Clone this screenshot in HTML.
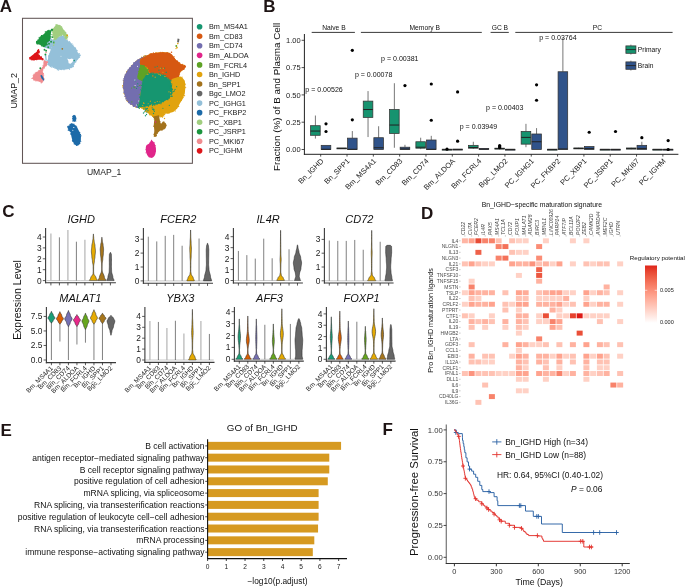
<!DOCTYPE html>
<html><head><meta charset="utf-8"><title>Figure</title>
<style>
html,body{margin:0;padding:0;background:#fff;overflow:hidden;}
svg{display:block;font-family:"Liberation Sans",sans-serif;will-change:transform;}
</style></head><body>
<svg width="685" height="587" viewBox="0 0 685 587">
<rect width="685" height="587" fill="#fff"/>
<text x="-0.2" y="12.3" font-size="17" font-weight="bold" fill="#1e1414">A</text>
<path d="M43.6 40 L47 38.5 L50.5 38 L53.9 40.4 L52.5 46 L50.5 49.5 L47.5 48.6 L44 47.5Z" fill="#94c0d9"/>
<path d="M54.6 38.4 L57.7 36.9 L60.7 36.1 L63.8 36.1 L66.5 40 L69.9 42.3 L73 45.3 L75.3 48.4 L77.6 52.2 L80.3 55.3 L78.4 59.1 L75.3 62.2 L73 66.8 L69.2 69.1 L63.8 69.8 L57.7 69.8 L53.8 67.5 L52.3 66.8 L48.2 65.4 L47.5 60.7 L48.9 55.2 L50.9 49.1 L52.5 44 L53.5 40.5Z" fill="#94c0d9"/>
<circle cx="75.38" cy="61.68" r="0.6" fill="#94c0d9"/>
<circle cx="51.98" cy="67" r="0.6" fill="#94c0d9"/>
<circle cx="73.03" cy="45.07" r="0.6" fill="#94c0d9"/>
<circle cx="62.06" cy="36.15" r="0.6" fill="#94c0d9"/>
<circle cx="76.82" cy="50.45" r="0.6" fill="#94c0d9"/>
<circle cx="48.3" cy="63.17" r="0.6" fill="#94c0d9"/>
<circle cx="67.2" cy="40.36" r="0.6" fill="#94c0d9"/>
<circle cx="79.38" cy="57.11" r="0.6" fill="#94c0d9"/>
<circle cx="47.65" cy="62.44" r="0.6" fill="#94c0d9"/>
<circle cx="62.54" cy="36.1" r="0.6" fill="#94c0d9"/>
<circle cx="50.4" cy="66.27" r="0.6" fill="#94c0d9"/>
<circle cx="61.39" cy="69.54" r="0.6" fill="#94c0d9"/>
<circle cx="75.33" cy="48.71" r="0.6" fill="#94c0d9"/>
<circle cx="75.97" cy="61.75" r="0.6" fill="#94c0d9"/>
<circle cx="64.91" cy="37.97" r="0.6" fill="#94c0d9"/>
<circle cx="56.42" cy="68.49" r="0.6" fill="#94c0d9"/>
<circle cx="50.25" cy="65.85" r="0.6" fill="#94c0d9"/>
<circle cx="52.85" cy="43.01" r="0.6" fill="#94c0d9"/>
<circle cx="63.66" cy="36.08" r="0.6" fill="#94c0d9"/>
<circle cx="51.19" cy="48.62" r="0.6" fill="#94c0d9"/>
<circle cx="47.76" cy="60.56" r="0.6" fill="#94c0d9"/>
<circle cx="69.51" cy="69.19" r="0.6" fill="#94c0d9"/>
<circle cx="74.61" cy="62.62" r="0.6" fill="#94c0d9"/>
<circle cx="79.85" cy="55.7" r="0.6" fill="#94c0d9"/>
<circle cx="57.35" cy="69.65" r="0.6" fill="#94c0d9"/>
<circle cx="69.58" cy="41.71" r="0.6" fill="#94c0d9"/>
<circle cx="64.02" cy="69.69" r="0.6" fill="#94c0d9"/>
<circle cx="75.39" cy="48.76" r="0.6" fill="#94c0d9"/>
<circle cx="75.59" cy="48.19" r="0.6" fill="#94c0d9"/>
<circle cx="80.23" cy="55.21" r="0.6" fill="#94c0d9"/>
<circle cx="47.68" cy="64.19" r="0.6" fill="#94c0d9"/>
<circle cx="48.61" cy="57.06" r="0.6" fill="#94c0d9"/>
<circle cx="52.09" cy="44.95" r="0.6" fill="#94c0d9"/>
<circle cx="65.02" cy="37.73" r="0.6" fill="#94c0d9"/>
<circle cx="73.7" cy="46.75" r="0.6" fill="#94c0d9"/>
<circle cx="63.52" cy="35.78" r="0.6" fill="#94c0d9"/>
<circle cx="73.54" cy="64.79" r="0.6" fill="#94c0d9"/>
<circle cx="72.24" cy="67.02" r="0.6" fill="#94c0d9"/>
<circle cx="73.9" cy="64.37" r="0.6" fill="#94c0d9"/>
<circle cx="60.72" cy="69.52" r="0.6" fill="#94c0d9"/>
<circle cx="53.69" cy="40.04" r="0.6" fill="#94c0d9"/>
<circle cx="71.26" cy="44.21" r="0.6" fill="#94c0d9"/>
<circle cx="75" cy="62.5" r="0.6" fill="#94c0d9"/>
<circle cx="53.47" cy="66.96" r="0.6" fill="#94c0d9"/>
<circle cx="79.33" cy="53.69" r="0.6" fill="#94c0d9"/>
<circle cx="76.75" cy="50.29" r="0.6" fill="#94c0d9"/>
<circle cx="76.94" cy="50.94" r="0.6" fill="#94c0d9"/>
<circle cx="75.11" cy="47.99" r="0.6" fill="#94c0d9"/>
<circle cx="75.75" cy="49.34" r="0.6" fill="#94c0d9"/>
<circle cx="57.03" cy="36.97" r="0.6" fill="#94c0d9"/>
<circle cx="48.8" cy="55.79" r="0.6" fill="#94c0d9"/>
<circle cx="73" cy="66.37" r="0.6" fill="#94c0d9"/>
<circle cx="76.25" cy="50.17" r="0.6" fill="#94c0d9"/>
<circle cx="48.66" cy="56.2" r="0.6" fill="#94c0d9"/>
<circle cx="49.2" cy="55.01" r="0.6" fill="#94c0d9"/>
<circle cx="53.23" cy="41.12" r="0.6" fill="#94c0d9"/>
<circle cx="49.81" cy="53.55" r="0.6" fill="#94c0d9"/>
<circle cx="71.43" cy="67.53" r="0.6" fill="#94c0d9"/>
<circle cx="70.13" cy="42.53" r="0.6" fill="#94c0d9"/>
<circle cx="58.6" cy="70.06" r="0.6" fill="#94c0d9"/>
<circle cx="55.02" cy="68.33" r="0.6" fill="#94c0d9"/>
<circle cx="66.81" cy="40.23" r="0.6" fill="#94c0d9"/>
<circle cx="65.57" cy="38.1" r="0.6" fill="#94c0d9"/>
<circle cx="74.67" cy="47.66" r="0.6" fill="#94c0d9"/>
<circle cx="79.56" cy="57.07" r="0.6" fill="#94c0d9"/>
<circle cx="50.29" cy="66.54" r="0.6" fill="#94c0d9"/>
<circle cx="73.37" cy="66.58" r="0.6" fill="#94c0d9"/>
<circle cx="53.5" cy="67.21" r="0.6" fill="#94c0d9"/>
<circle cx="51.69" cy="66.89" r="0.6" fill="#94c0d9"/>
<circle cx="72.01" cy="43.85" r="0.6" fill="#94c0d9"/>
<path d="M53.9 27.5 L56.6 24.1 L60 25.5 L62.7 28.2 L64.8 31.6 L66.8 34.3 L67.5 37 L66.9 40 L65.3 37.7 L62.3 34.6 L60.5 35.8 L57.7 36.9 L55.9 39.2 L53.9 40.4 L53.2 35 L51.8 30.2Z" fill="#a1ce7f"/>
<circle cx="65.93" cy="32.92" r="0.6" fill="#a1ce7f"/>
<circle cx="58.61" cy="36.54" r="0.6" fill="#a1ce7f"/>
<circle cx="64.2" cy="30.96" r="0.6" fill="#a1ce7f"/>
<circle cx="59.23" cy="25.23" r="0.6" fill="#a1ce7f"/>
<circle cx="61.29" cy="26.7" r="0.6" fill="#a1ce7f"/>
<circle cx="67.05" cy="39.1" r="0.6" fill="#a1ce7f"/>
<circle cx="52.66" cy="28.85" r="0.6" fill="#a1ce7f"/>
<circle cx="62.85" cy="34.6" r="0.6" fill="#a1ce7f"/>
<circle cx="52.71" cy="34.3" r="0.6" fill="#a1ce7f"/>
<circle cx="61.75" cy="27.08" r="0.6" fill="#a1ce7f"/>
<circle cx="61.21" cy="35.26" r="0.6" fill="#a1ce7f"/>
<circle cx="57.75" cy="37.6" r="0.6" fill="#a1ce7f"/>
<circle cx="65.38" cy="38.59" r="0.6" fill="#a1ce7f"/>
<circle cx="67.76" cy="36.7" r="0.6" fill="#a1ce7f"/>
<circle cx="53.13" cy="34.97" r="0.6" fill="#a1ce7f"/>
<circle cx="57.3" cy="37.25" r="0.6" fill="#a1ce7f"/>
<circle cx="52.2" cy="32.75" r="0.6" fill="#a1ce7f"/>
<circle cx="61.03" cy="35.6" r="0.6" fill="#a1ce7f"/>
<circle cx="65.03" cy="37.58" r="0.6" fill="#a1ce7f"/>
<circle cx="59.43" cy="25.57" r="0.6" fill="#a1ce7f"/>
<circle cx="53.45" cy="36.17" r="0.6" fill="#a1ce7f"/>
<circle cx="55.94" cy="39.44" r="0.6" fill="#a1ce7f"/>
<circle cx="59.9" cy="36.05" r="0.6" fill="#a1ce7f"/>
<circle cx="53.09" cy="35.18" r="0.6" fill="#a1ce7f"/>
<circle cx="61.83" cy="27.95" r="0.6" fill="#a1ce7f"/>
<circle cx="60.41" cy="25.82" r="0.6" fill="#a1ce7f"/>
<circle cx="53.07" cy="35.1" r="0.6" fill="#a1ce7f"/>
<circle cx="65.77" cy="37.65" r="0.6" fill="#a1ce7f"/>
<circle cx="66.79" cy="34.69" r="0.6" fill="#a1ce7f"/>
<circle cx="67.33" cy="37.61" r="0.6" fill="#a1ce7f"/>
<circle cx="56.65" cy="38.38" r="0.6" fill="#a1ce7f"/>
<circle cx="55.92" cy="24.76" r="0.6" fill="#a1ce7f"/>
<circle cx="52.27" cy="29.66" r="0.6" fill="#a1ce7f"/>
<circle cx="53.48" cy="37.17" r="0.6" fill="#a1ce7f"/>
<circle cx="61.45" cy="35.3" r="0.6" fill="#a1ce7f"/>
<circle cx="65.49" cy="32.34" r="0.6" fill="#a1ce7f"/>
<circle cx="64.93" cy="31.94" r="0.6" fill="#a1ce7f"/>
<circle cx="53.45" cy="39.79" r="0.6" fill="#a1ce7f"/>
<circle cx="61.38" cy="34.95" r="0.6" fill="#a1ce7f"/>
<circle cx="66.87" cy="34.54" r="0.6" fill="#a1ce7f"/>
<path d="M52.5 28.9 L50.4 30.2 L47 30.9 L43.6 34.3 L40.2 36.4 L36.8 41.8 L36.8 43.9 L41.6 45.2 L43.6 46.6 L46.4 45.2 L47 42.5 L49.8 40.4 L50.4 36.4 L51.1 32.3Z" fill="#1b953e"/>
<circle cx="36.84" cy="43.64" r="0.6" fill="#1b953e"/>
<circle cx="39.21" cy="37.44" r="0.6" fill="#1b953e"/>
<circle cx="48.79" cy="30.29" r="0.6" fill="#1b953e"/>
<circle cx="45.45" cy="45.77" r="0.6" fill="#1b953e"/>
<circle cx="45.27" cy="31.88" r="0.6" fill="#1b953e"/>
<circle cx="37.73" cy="40.17" r="0.6" fill="#1b953e"/>
<circle cx="52.28" cy="29.92" r="0.6" fill="#1b953e"/>
<circle cx="46.49" cy="44.54" r="0.6" fill="#1b953e"/>
<circle cx="46.13" cy="31.58" r="0.6" fill="#1b953e"/>
<circle cx="52.58" cy="29.56" r="0.6" fill="#1b953e"/>
<circle cx="50.23" cy="37.92" r="0.6" fill="#1b953e"/>
<circle cx="51.02" cy="34.58" r="0.6" fill="#1b953e"/>
<circle cx="52.3" cy="30.13" r="0.6" fill="#1b953e"/>
<circle cx="49.85" cy="37.46" r="0.6" fill="#1b953e"/>
<circle cx="47.69" cy="42.01" r="0.6" fill="#1b953e"/>
<circle cx="43.36" cy="46.55" r="0.6" fill="#1b953e"/>
<circle cx="41.54" cy="35.57" r="0.6" fill="#1b953e"/>
<circle cx="50.68" cy="36.34" r="0.6" fill="#1b953e"/>
<circle cx="43.97" cy="46.31" r="0.6" fill="#1b953e"/>
<circle cx="47.31" cy="31" r="0.6" fill="#1b953e"/>
<circle cx="41.47" cy="35.85" r="0.6" fill="#1b953e"/>
<circle cx="37.5" cy="43.83" r="0.6" fill="#1b953e"/>
<circle cx="51.32" cy="29.36" r="0.6" fill="#1b953e"/>
<circle cx="45.99" cy="32.18" r="0.6" fill="#1b953e"/>
<circle cx="46.35" cy="43.32" r="0.6" fill="#1b953e"/>
<circle cx="36.57" cy="41.43" r="0.6" fill="#1b953e"/>
<circle cx="42.19" cy="45.58" r="0.6" fill="#1b953e"/>
<circle cx="43.53" cy="46.31" r="0.6" fill="#1b953e"/>
<circle cx="37.22" cy="41.3" r="0.6" fill="#1b953e"/>
<circle cx="41.76" cy="45.7" r="0.6" fill="#1b953e"/>
<circle cx="39.22" cy="38.83" r="0.6" fill="#1b953e"/>
<circle cx="48.14" cy="30.63" r="0.6" fill="#1b953e"/>
<circle cx="37.06" cy="42.09" r="0.6" fill="#1b953e"/>
<circle cx="47.79" cy="31.01" r="0.6" fill="#1b953e"/>
<circle cx="42.12" cy="46.11" r="0.6" fill="#1b953e"/>
<circle cx="48.1" cy="41.27" r="0.6" fill="#1b953e"/>
<circle cx="36.5" cy="42.45" r="0.6" fill="#1b953e"/>
<circle cx="37.07" cy="43.07" r="0.6" fill="#1b953e"/>
<circle cx="41.5" cy="35.63" r="0.6" fill="#1b953e"/>
<circle cx="36.71" cy="42.23" r="0.6" fill="#1b953e"/>
<circle cx="49.12" cy="30.27" r="0.6" fill="#1b953e"/>
<circle cx="51.55" cy="29.39" r="0.6" fill="#1b953e"/>
<circle cx="49.42" cy="40.35" r="0.6" fill="#1b953e"/>
<circle cx="44.7" cy="46.39" r="0.6" fill="#1b953e"/>
<circle cx="41.29" cy="45.15" r="0.6" fill="#1b953e"/>
<path d="M38.6 49.1 L40 51.8 L37.9 54.5 L40.7 56.6 L43.1 58.6 L42.7 59.7 L38.6 59.7 L33.2 60.3 L29.8 59.3 L29.4 57.6 L33.2 54.5 L36.6 51.8Z" fill="#dd1519"/>
<circle cx="29.71" cy="58.1" r="0.55" fill="#dd1519"/>
<circle cx="37.49" cy="50.47" r="0.55" fill="#dd1519"/>
<circle cx="43.15" cy="59.16" r="0.55" fill="#dd1519"/>
<circle cx="39.13" cy="55.37" r="0.55" fill="#dd1519"/>
<circle cx="38.17" cy="49.75" r="0.55" fill="#dd1519"/>
<circle cx="41.46" cy="57.14" r="0.55" fill="#dd1519"/>
<circle cx="39.45" cy="55.85" r="0.55" fill="#dd1519"/>
<circle cx="31.3" cy="59.65" r="0.55" fill="#dd1519"/>
<circle cx="31.78" cy="59.72" r="0.55" fill="#dd1519"/>
<circle cx="38.61" cy="55.06" r="0.55" fill="#dd1519"/>
<circle cx="42.6" cy="59.2" r="0.55" fill="#dd1519"/>
<circle cx="36.68" cy="59.76" r="0.55" fill="#dd1519"/>
<circle cx="42.7" cy="58.84" r="0.55" fill="#dd1519"/>
<circle cx="42.19" cy="59.78" r="0.55" fill="#dd1519"/>
<circle cx="41.16" cy="56.72" r="0.55" fill="#dd1519"/>
<circle cx="34.99" cy="53.51" r="0.55" fill="#dd1519"/>
<circle cx="38.73" cy="49.6" r="0.55" fill="#dd1519"/>
<circle cx="29.9" cy="59.08" r="0.55" fill="#dd1519"/>
<circle cx="29.74" cy="57.69" r="0.55" fill="#dd1519"/>
<circle cx="39.32" cy="52.69" r="0.55" fill="#dd1519"/>
<circle cx="38.16" cy="54.43" r="0.55" fill="#dd1519"/>
<circle cx="33.08" cy="59.92" r="0.55" fill="#dd1519"/>
<circle cx="38.8" cy="55.08" r="0.55" fill="#dd1519"/>
<circle cx="42.79" cy="59.68" r="0.55" fill="#dd1519"/>
<circle cx="34.59" cy="59.86" r="0.55" fill="#dd1519"/>
<path d="M44.1 60 L47.8 61.7 L46.8 64.8 L45.4 66.8 L43.4 68.9 L42.7 70.9 L43.4 73.6 L44.1 78.4 L43.4 81.1 L41.4 82.5 L38.6 81.1 L34.5 80.4 L32.2 78.4 L33.2 75.7 L35.9 72.3 L38.6 70.9 L41.4 68.2 L43.4 65.4 L43.4 62Z" fill="#f08c90"/>
<circle cx="43.1" cy="65.41" r="0.55" fill="#f08c90"/>
<circle cx="44.02" cy="59.99" r="0.55" fill="#f08c90"/>
<circle cx="36.19" cy="80.63" r="0.55" fill="#f08c90"/>
<circle cx="43.43" cy="79.82" r="0.55" fill="#f08c90"/>
<circle cx="41.06" cy="82.65" r="0.55" fill="#f08c90"/>
<circle cx="33.26" cy="75.38" r="0.55" fill="#f08c90"/>
<circle cx="33.7" cy="79.85" r="0.55" fill="#f08c90"/>
<circle cx="34.12" cy="74.17" r="0.55" fill="#f08c90"/>
<circle cx="39.33" cy="81.29" r="0.55" fill="#f08c90"/>
<circle cx="43.81" cy="74.93" r="0.55" fill="#f08c90"/>
<circle cx="44.15" cy="78.88" r="0.55" fill="#f08c90"/>
<circle cx="40.55" cy="69.24" r="0.55" fill="#f08c90"/>
<circle cx="46.64" cy="64.58" r="0.55" fill="#f08c90"/>
<circle cx="43.47" cy="73.66" r="0.55" fill="#f08c90"/>
<circle cx="47.59" cy="62.4" r="0.55" fill="#f08c90"/>
<circle cx="35.89" cy="80.85" r="0.55" fill="#f08c90"/>
<circle cx="37.91" cy="80.98" r="0.55" fill="#f08c90"/>
<circle cx="36.08" cy="72.18" r="0.55" fill="#f08c90"/>
<circle cx="32.2" cy="78.2" r="0.55" fill="#f08c90"/>
<circle cx="46.32" cy="65.63" r="0.55" fill="#f08c90"/>
<circle cx="44.43" cy="67.91" r="0.55" fill="#f08c90"/>
<circle cx="39.06" cy="81.08" r="0.55" fill="#f08c90"/>
<circle cx="39.17" cy="70.34" r="0.55" fill="#f08c90"/>
<circle cx="37.34" cy="80.56" r="0.55" fill="#f08c90"/>
<circle cx="33.94" cy="74.8" r="0.55" fill="#f08c90"/>
<circle cx="31.97" cy="78.56" r="0.55" fill="#f08c90"/>
<circle cx="42.75" cy="81.44" r="0.55" fill="#f08c90"/>
<circle cx="34.15" cy="79.93" r="0.55" fill="#f08c90"/>
<circle cx="42.02" cy="82.4" r="0.55" fill="#f08c90"/>
<circle cx="41.54" cy="82.74" r="0.55" fill="#f08c90"/>
<circle cx="46.61" cy="64.83" r="0.55" fill="#f08c90"/>
<circle cx="38.41" cy="70.82" r="0.55" fill="#f08c90"/>
<circle cx="35.18" cy="72.93" r="0.55" fill="#f08c90"/>
<circle cx="47.21" cy="61.56" r="0.55" fill="#f08c90"/>
<circle cx="42.87" cy="70.01" r="0.55" fill="#f08c90"/>
<path d="M44.8 55.2 L46.2 54.8 L46.9 60.5 L45.6 61Z" fill="#94c0d9"/>
<circle cx="51.1" cy="41.8" r="0.95" fill="#1b953e"/>
<circle cx="52.3" cy="37.1" r="0.95" fill="#1b953e"/>
<circle cx="46.1" cy="50.8" r="0.95" fill="#1b953e"/>
<circle cx="45.4" cy="54.5" r="0.95" fill="#1b953e"/>
<circle cx="40.3" cy="68.2" r="0.95" fill="#1b953e"/>
<circle cx="46.9" cy="44.5" r="0.95" fill="#1b953e"/>
<circle cx="48.2" cy="47.3" r="0.95" fill="#1b953e"/>
<circle cx="44.5" cy="49.8" r="0.95" fill="#1b953e"/>
<circle cx="49" cy="43.8" r="0.95" fill="#1b953e"/>
<circle cx="53.8" cy="42.5" r="0.95" fill="#1b953e"/>
<circle cx="46.1" cy="52.5" r="0.8" fill="#f08c90"/>
<circle cx="53.6" cy="45.2" r="0.8" fill="#a1ce7f"/>
<circle cx="54.2" cy="43" r="0.8" fill="#a1ce7f"/>
<path d="M67.2 58.4 L69.5 59.2 L72 58.6 L73.6 59.8 L72.5 62 L70.6 63.7 L68.6 63.2 L68.3 60.8Z" fill="#fff"/>
<circle cx="74.2" cy="60.6" r="0.8" fill="#169670"/>
<circle cx="61" cy="56.3" r="0.45" fill="#fff"/>
<circle cx="62.3" cy="48.8" r="0.85" fill="#a3721c"/>
<circle cx="67.2" cy="35.4" r="0.9" fill="#e1a30e"/>
<path d="M40.3 75.6 L41.8 75 L43.2 77.5 L44.4 80 L43.6 80.8 L41.6 78.6Z" fill="#1c6aa8"/>
<path d="M72.5 116.5 L74 114.7 L75.8 115.8 L76.1 118.5 L75.5 121.5 L72.8 121.5 L72.4 119Z" fill="#1c6aa8"/>
<circle cx="76.09" cy="117.92" r="0.5" fill="#1c6aa8"/>
<circle cx="75.5" cy="120.5" r="0.5" fill="#1c6aa8"/>
<circle cx="73.25" cy="115.43" r="0.5" fill="#1c6aa8"/>
<circle cx="75.86" cy="121.01" r="0.5" fill="#1c6aa8"/>
<circle cx="72.77" cy="116.42" r="0.5" fill="#1c6aa8"/>
<circle cx="75.78" cy="119" r="0.5" fill="#1c6aa8"/>
<circle cx="72.73" cy="121.08" r="0.5" fill="#1c6aa8"/>
<circle cx="72.62" cy="118.57" r="0.5" fill="#1c6aa8"/>
<circle cx="74.63" cy="121.36" r="0.5" fill="#1c6aa8"/>
<circle cx="75.8" cy="119.03" r="0.5" fill="#1c6aa8"/>
<path d="M70.5 124.5 L72.5 123.6 L74.5 124.5 L77 127 L79.5 132 L81 136 L80.8 141 L79.5 144.5 L77 145.8 L74.5 144.5 L72.5 141 L71.5 137 L70.5 132 L68.3 130 L67.8 127Z" fill="#1c6aa8"/>
<circle cx="70.06" cy="124.47" r="0.6" fill="#1c6aa8"/>
<circle cx="80.99" cy="135.81" r="0.6" fill="#1c6aa8"/>
<circle cx="70.26" cy="131.52" r="0.6" fill="#1c6aa8"/>
<circle cx="71.64" cy="124.28" r="0.6" fill="#1c6aa8"/>
<circle cx="69.04" cy="125.91" r="0.6" fill="#1c6aa8"/>
<circle cx="71.16" cy="124.38" r="0.6" fill="#1c6aa8"/>
<circle cx="68.01" cy="126.62" r="0.6" fill="#1c6aa8"/>
<circle cx="74.15" cy="143.86" r="0.6" fill="#1c6aa8"/>
<circle cx="73.9" cy="124.08" r="0.6" fill="#1c6aa8"/>
<circle cx="71.02" cy="123.99" r="0.6" fill="#1c6aa8"/>
<circle cx="79.7" cy="132.4" r="0.6" fill="#1c6aa8"/>
<circle cx="68.19" cy="130.07" r="0.6" fill="#1c6aa8"/>
<circle cx="75.8" cy="125.77" r="0.6" fill="#1c6aa8"/>
<circle cx="77.87" cy="144.97" r="0.6" fill="#1c6aa8"/>
<circle cx="79.73" cy="143.34" r="0.6" fill="#1c6aa8"/>
<circle cx="72.45" cy="140.29" r="0.6" fill="#1c6aa8"/>
<circle cx="80.45" cy="134.4" r="0.6" fill="#1c6aa8"/>
<circle cx="70.85" cy="134.12" r="0.6" fill="#1c6aa8"/>
<circle cx="68.1" cy="127.79" r="0.6" fill="#1c6aa8"/>
<circle cx="79.68" cy="143.25" r="0.6" fill="#1c6aa8"/>
<circle cx="67.99" cy="126.36" r="0.6" fill="#1c6aa8"/>
<circle cx="72.71" cy="141.21" r="0.6" fill="#1c6aa8"/>
<circle cx="70.39" cy="124.64" r="0.6" fill="#1c6aa8"/>
<circle cx="80.76" cy="141.23" r="0.6" fill="#1c6aa8"/>
<circle cx="76.48" cy="145.37" r="0.6" fill="#1c6aa8"/>
<circle cx="76.58" cy="126.81" r="0.6" fill="#1c6aa8"/>
<circle cx="68.94" cy="130.3" r="0.6" fill="#1c6aa8"/>
<circle cx="68.11" cy="127.16" r="0.6" fill="#1c6aa8"/>
<circle cx="71.8" cy="123.7" r="0.6" fill="#1c6aa8"/>
<circle cx="71.07" cy="133.69" r="0.6" fill="#1c6aa8"/>
<circle cx="73.8" cy="127.5" r="0.6" fill="#fff"/>
<circle cx="72.8" cy="130.2" r="0.5" fill="#fff"/>
<path d="M150 54.1 L155.5 52.8 L163.6 52.2 L169.1 52.8 L172.5 55.5 L175.2 58.9 L177.9 62.3 L182 64.4 L185.1 66.1 L184.8 68.4 L182 69.8 L180 72.5 L178.6 76.6 L182 77.3 L184.8 80.7 L185.4 86.8 L184.8 93.6 L182.7 99.1 L180 103.2 L177.3 108.6 L173.2 112 L167.7 113.4 L162.9 114.1 L158.2 114.8 L152.7 115.4 L148.6 112 L144.5 110 L141.8 108.3 L137.7 107.3 L133.6 106.2 L129.5 103.2 L126.1 99.1 L124.1 93.6 L123.1 86.8 L123.1 83.4 L124.1 77.3 L126.8 71.2 L130.9 66.4 L135.7 60.9 L141.8 57.2 L147.3 55.5Z" fill="#e1a30e"/>
<circle cx="185.28" cy="84.21" r="0.6" fill="#e1a30e"/>
<circle cx="128.62" cy="102.36" r="0.6" fill="#e1a30e"/>
<circle cx="122.97" cy="85.95" r="0.6" fill="#e1a30e"/>
<circle cx="178.8" cy="76.86" r="0.6" fill="#e1a30e"/>
<circle cx="167.12" cy="52.5" r="0.6" fill="#e1a30e"/>
<circle cx="131.46" cy="104.38" r="0.6" fill="#e1a30e"/>
<circle cx="143.44" cy="109.38" r="0.6" fill="#e1a30e"/>
<circle cx="155.69" cy="114.64" r="0.6" fill="#e1a30e"/>
<circle cx="147.19" cy="55.48" r="0.6" fill="#e1a30e"/>
<circle cx="146.05" cy="55.59" r="0.6" fill="#e1a30e"/>
<circle cx="127.75" cy="101.43" r="0.6" fill="#e1a30e"/>
<circle cx="157.64" cy="114.86" r="0.6" fill="#e1a30e"/>
<circle cx="163.49" cy="52.6" r="0.6" fill="#e1a30e"/>
<circle cx="168.93" cy="112.69" r="0.6" fill="#e1a30e"/>
<circle cx="123.34" cy="87.77" r="0.6" fill="#e1a30e"/>
<circle cx="162.89" cy="52.49" r="0.6" fill="#e1a30e"/>
<circle cx="183.03" cy="64.72" r="0.6" fill="#e1a30e"/>
<circle cx="180.83" cy="71.4" r="0.6" fill="#e1a30e"/>
<circle cx="159.81" cy="114.37" r="0.6" fill="#e1a30e"/>
<circle cx="143.6" cy="56.41" r="0.6" fill="#e1a30e"/>
<circle cx="123.12" cy="87.13" r="0.6" fill="#e1a30e"/>
<circle cx="144.42" cy="55.92" r="0.6" fill="#e1a30e"/>
<circle cx="179.56" cy="73.95" r="0.6" fill="#e1a30e"/>
<circle cx="167.98" cy="113.51" r="0.6" fill="#e1a30e"/>
<circle cx="183.98" cy="66.03" r="0.6" fill="#e1a30e"/>
<circle cx="135.5" cy="107.03" r="0.6" fill="#e1a30e"/>
<circle cx="178.97" cy="63.15" r="0.6" fill="#e1a30e"/>
<circle cx="157.19" cy="115.03" r="0.6" fill="#e1a30e"/>
<circle cx="156" cy="114.76" r="0.6" fill="#e1a30e"/>
<circle cx="145.48" cy="56.22" r="0.6" fill="#e1a30e"/>
<circle cx="184.57" cy="95.64" r="0.6" fill="#e1a30e"/>
<circle cx="169.39" cy="112.78" r="0.6" fill="#e1a30e"/>
<circle cx="178.28" cy="106.54" r="0.6" fill="#e1a30e"/>
<circle cx="169.3" cy="53.29" r="0.6" fill="#e1a30e"/>
<circle cx="156" cy="52.59" r="0.6" fill="#e1a30e"/>
<circle cx="122.85" cy="85.66" r="0.6" fill="#e1a30e"/>
<circle cx="131.42" cy="65.96" r="0.6" fill="#e1a30e"/>
<circle cx="182.12" cy="69.93" r="0.6" fill="#e1a30e"/>
<circle cx="183.14" cy="68.71" r="0.6" fill="#e1a30e"/>
<circle cx="181.4" cy="100.31" r="0.6" fill="#e1a30e"/>
<circle cx="126.6" cy="71.93" r="0.6" fill="#e1a30e"/>
<circle cx="141.63" cy="57.21" r="0.6" fill="#e1a30e"/>
<circle cx="150.27" cy="53.96" r="0.6" fill="#e1a30e"/>
<circle cx="185.68" cy="87.53" r="0.6" fill="#e1a30e"/>
<circle cx="145.23" cy="55.94" r="0.6" fill="#e1a30e"/>
<circle cx="180.49" cy="77.1" r="0.6" fill="#e1a30e"/>
<circle cx="142.01" cy="108.45" r="0.6" fill="#e1a30e"/>
<circle cx="175.18" cy="110.93" r="0.6" fill="#e1a30e"/>
<circle cx="126.62" cy="100.58" r="0.6" fill="#e1a30e"/>
<circle cx="133.41" cy="105.67" r="0.6" fill="#e1a30e"/>
<circle cx="179.1" cy="62.51" r="0.6" fill="#e1a30e"/>
<circle cx="183.09" cy="97.56" r="0.6" fill="#e1a30e"/>
<circle cx="139.36" cy="108.04" r="0.6" fill="#e1a30e"/>
<circle cx="178.69" cy="106.41" r="0.6" fill="#e1a30e"/>
<circle cx="123.87" cy="93.26" r="0.6" fill="#e1a30e"/>
<circle cx="182.03" cy="77.11" r="0.6" fill="#e1a30e"/>
<circle cx="151.12" cy="114.65" r="0.6" fill="#e1a30e"/>
<circle cx="150.22" cy="54.52" r="0.6" fill="#e1a30e"/>
<circle cx="123.88" cy="80.71" r="0.6" fill="#e1a30e"/>
<circle cx="159.24" cy="52.6" r="0.6" fill="#e1a30e"/>
<path d="M147.3 55.5 L141.8 57.2 L135.7 60.9 L130.9 66.4 L126.8 71.2 L124.1 77.3 L123.1 83.4 L123.1 86.8 L124.1 93.6 L126.1 99.1 L129.5 103.2 L133.6 106.2 L137.7 107.3 L139.8 100.4 L140.4 93.6 L141.8 86.8 L142.5 80 L142.5 77.3 L140.4 65.7 L139.8 62.3 L140.4 58.9 L146.6 55.8Z" fill="#736eaf"/>
<circle cx="124.58" cy="76.08" r="0.6" fill="#736eaf"/>
<circle cx="128.91" cy="102.46" r="0.6" fill="#736eaf"/>
<circle cx="137.74" cy="59.88" r="0.6" fill="#736eaf"/>
<circle cx="133.35" cy="106.39" r="0.6" fill="#736eaf"/>
<circle cx="129.33" cy="102.97" r="0.6" fill="#736eaf"/>
<circle cx="128.45" cy="102.59" r="0.6" fill="#736eaf"/>
<circle cx="125.54" cy="98.8" r="0.6" fill="#736eaf"/>
<circle cx="137.16" cy="107" r="0.6" fill="#736eaf"/>
<circle cx="141.95" cy="57.65" r="0.6" fill="#736eaf"/>
<circle cx="144.05" cy="74.56" r="0.6" fill="#736eaf"/>
<circle cx="125.22" cy="74.34" r="0.6" fill="#736eaf"/>
<circle cx="130.2" cy="103.75" r="0.6" fill="#736eaf"/>
<circle cx="145.71" cy="55.74" r="0.6" fill="#736eaf"/>
<circle cx="141.09" cy="88.61" r="0.6" fill="#736eaf"/>
<circle cx="124.88" cy="96.41" r="0.6" fill="#736eaf"/>
<circle cx="141.61" cy="86.13" r="0.6" fill="#736eaf"/>
<circle cx="123.27" cy="80.21" r="0.6" fill="#736eaf"/>
<circle cx="136.81" cy="107.4" r="0.6" fill="#736eaf"/>
<circle cx="133.63" cy="63.13" r="0.6" fill="#736eaf"/>
<circle cx="146.69" cy="56.64" r="0.6" fill="#736eaf"/>
<circle cx="124.06" cy="91.9" r="0.6" fill="#736eaf"/>
<circle cx="127.55" cy="100.33" r="0.6" fill="#736eaf"/>
<circle cx="134.11" cy="62.62" r="0.6" fill="#736eaf"/>
<circle cx="123.62" cy="88.14" r="0.6" fill="#736eaf"/>
<circle cx="124.05" cy="92.39" r="0.6" fill="#736eaf"/>
<circle cx="130.52" cy="104.52" r="0.6" fill="#736eaf"/>
<circle cx="134.26" cy="105.91" r="0.6" fill="#736eaf"/>
<circle cx="129.6" cy="67.89" r="0.6" fill="#736eaf"/>
<circle cx="134.19" cy="62.77" r="0.6" fill="#736eaf"/>
<circle cx="123.3" cy="87.81" r="0.6" fill="#736eaf"/>
<circle cx="128.18" cy="101.61" r="0.6" fill="#736eaf"/>
<circle cx="131.49" cy="65.72" r="0.6" fill="#736eaf"/>
<circle cx="123.88" cy="78.55" r="0.6" fill="#736eaf"/>
<circle cx="126.75" cy="100.16" r="0.6" fill="#736eaf"/>
<circle cx="134.33" cy="106.3" r="0.6" fill="#736eaf"/>
<circle cx="137.08" cy="107.29" r="0.6" fill="#736eaf"/>
<circle cx="128.02" cy="69.75" r="0.6" fill="#736eaf"/>
<circle cx="129.31" cy="68.35" r="0.6" fill="#736eaf"/>
<circle cx="137.41" cy="107.42" r="0.6" fill="#736eaf"/>
<circle cx="129.71" cy="68.48" r="0.6" fill="#736eaf"/>
<path d="M146.6 55.8 L150 54.1 L155.5 52.8 L163.6 52.2 L169.1 52.8 L172.5 55.5 L175.2 58.9 L177.9 62.3 L182 64.4 L185.1 66.1 L184.8 68.4 L182 69.8 L180 72.5 L178.6 76.6 L177.3 77.3 L172.5 78.7 L170.4 80.7 L167 78 L163.6 75.3 L156.8 73.2 L150 73.9 L148.6 70.5 L147.3 67 L140.4 65.7 L139.8 62.3 L140.4 58.9Z" fill="#d65812"/>
<circle cx="181.22" cy="70.29" r="0.6" fill="#d65812"/>
<circle cx="151.85" cy="53.71" r="0.6" fill="#d65812"/>
<circle cx="148.19" cy="55.28" r="0.6" fill="#d65812"/>
<circle cx="184.88" cy="65.69" r="0.6" fill="#d65812"/>
<circle cx="171.08" cy="54.62" r="0.6" fill="#d65812"/>
<circle cx="164.9" cy="67.85" r="0.6" fill="#d65812"/>
<circle cx="177.62" cy="61.9" r="0.6" fill="#d65812"/>
<circle cx="179.17" cy="74.91" r="0.6" fill="#d65812"/>
<circle cx="160.66" cy="52.27" r="0.6" fill="#d65812"/>
<circle cx="183.15" cy="69.17" r="0.6" fill="#d65812"/>
<circle cx="177.23" cy="61.12" r="0.6" fill="#d65812"/>
<circle cx="176.12" cy="60.83" r="0.6" fill="#d65812"/>
<circle cx="184.44" cy="65.29" r="0.6" fill="#d65812"/>
<circle cx="183.49" cy="69.12" r="0.6" fill="#d65812"/>
<circle cx="150.24" cy="53.78" r="0.6" fill="#d65812"/>
<circle cx="178.43" cy="76.28" r="0.6" fill="#d65812"/>
<circle cx="160.25" cy="64.82" r="0.6" fill="#d65812"/>
<circle cx="182.28" cy="64.32" r="0.6" fill="#d65812"/>
<circle cx="173.97" cy="56.66" r="0.6" fill="#d65812"/>
<circle cx="184.3" cy="69" r="0.6" fill="#d65812"/>
<circle cx="179.92" cy="72.1" r="0.6" fill="#d65812"/>
<circle cx="170.05" cy="53.49" r="0.6" fill="#d65812"/>
<circle cx="177.04" cy="61.1" r="0.6" fill="#d65812"/>
<circle cx="151.43" cy="54.16" r="0.6" fill="#d65812"/>
<circle cx="185.41" cy="66.42" r="0.6" fill="#d65812"/>
<circle cx="178.47" cy="62.97" r="0.6" fill="#d65812"/>
<circle cx="178.64" cy="75.89" r="0.6" fill="#d65812"/>
<circle cx="181.92" cy="70.29" r="0.6" fill="#d65812"/>
<circle cx="182.71" cy="69.49" r="0.6" fill="#d65812"/>
<circle cx="171.8" cy="55.08" r="0.6" fill="#d65812"/>
<circle cx="179.63" cy="62.86" r="0.6" fill="#d65812"/>
<circle cx="177.44" cy="61.38" r="0.6" fill="#d65812"/>
<circle cx="178.09" cy="62.13" r="0.6" fill="#d65812"/>
<circle cx="167.06" cy="52.58" r="0.6" fill="#d65812"/>
<circle cx="185.04" cy="67.46" r="0.6" fill="#d65812"/>
<circle cx="171.65" cy="55.37" r="0.6" fill="#d65812"/>
<circle cx="174.33" cy="58.43" r="0.6" fill="#d65812"/>
<circle cx="183.29" cy="68.98" r="0.6" fill="#d65812"/>
<circle cx="153.41" cy="52.93" r="0.6" fill="#d65812"/>
<circle cx="162.17" cy="52.25" r="0.6" fill="#d65812"/>
<path d="M142.5 77.3 L147.3 74 L150 73.9 L156.8 73.2 L163.6 75.3 L167 78 L170.4 80.7 L171.8 86.8 L172.5 93.6 L169.1 98.4 L163.6 101.8 L156.8 104.5 L150 105.2 L148.6 105.9 L140.4 107.3 L137.7 107.3 L139.8 100.4 L140.4 93.6 L141.8 86.8 L142.5 80Z" fill="#169670"/>
<circle cx="164.09" cy="75.94" r="0.65" fill="#169670"/>
<circle cx="142.74" cy="78.21" r="0.65" fill="#169670"/>
<circle cx="142.25" cy="87.58" r="0.65" fill="#169670"/>
<circle cx="171.68" cy="83.8" r="0.65" fill="#169670"/>
<circle cx="160.06" cy="73.78" r="0.65" fill="#169670"/>
<circle cx="165.33" cy="76.54" r="0.65" fill="#169670"/>
<circle cx="165.42" cy="76.45" r="0.65" fill="#169670"/>
<circle cx="141.41" cy="78.42" r="0.65" fill="#169670"/>
<circle cx="138.52" cy="106.85" r="0.65" fill="#169670"/>
<circle cx="139.21" cy="108.31" r="0.65" fill="#169670"/>
<circle cx="150.92" cy="74.1" r="0.65" fill="#169670"/>
<circle cx="145.83" cy="76.24" r="0.65" fill="#169670"/>
<circle cx="157.21" cy="103.95" r="0.65" fill="#169670"/>
<circle cx="164.2" cy="75.67" r="0.65" fill="#169670"/>
<circle cx="163.31" cy="101.71" r="0.65" fill="#169670"/>
<circle cx="141.04" cy="96.16" r="0.65" fill="#169670"/>
<circle cx="160.85" cy="103.66" r="0.65" fill="#169670"/>
<circle cx="167.13" cy="99.24" r="0.65" fill="#169670"/>
<circle cx="169.19" cy="97.14" r="0.65" fill="#169670"/>
<circle cx="138.99" cy="101.43" r="0.65" fill="#169670"/>
<circle cx="169.44" cy="97.93" r="0.65" fill="#169670"/>
<circle cx="148.5" cy="73.75" r="0.65" fill="#169670"/>
<circle cx="141.4" cy="85.38" r="0.65" fill="#169670"/>
<circle cx="171.5" cy="86.3" r="0.65" fill="#169670"/>
<circle cx="150.33" cy="74.17" r="0.65" fill="#169670"/>
<circle cx="142.88" cy="80.02" r="0.65" fill="#169670"/>
<circle cx="151.81" cy="73.66" r="0.65" fill="#169670"/>
<circle cx="166.64" cy="77.26" r="0.65" fill="#169670"/>
<circle cx="163.36" cy="74.83" r="0.65" fill="#169670"/>
<circle cx="166.41" cy="76.89" r="0.65" fill="#169670"/>
<circle cx="167.06" cy="97.97" r="0.65" fill="#169670"/>
<circle cx="143.2" cy="81.46" r="0.65" fill="#169670"/>
<circle cx="142.88" cy="83.85" r="0.65" fill="#169670"/>
<circle cx="144.8" cy="106.59" r="0.65" fill="#169670"/>
<circle cx="145.97" cy="76.14" r="0.65" fill="#169670"/>
<circle cx="165.02" cy="75.71" r="0.65" fill="#169670"/>
<circle cx="137.38" cy="104.77" r="0.65" fill="#169670"/>
<circle cx="142.92" cy="78.34" r="0.65" fill="#169670"/>
<circle cx="150.65" cy="73.69" r="0.65" fill="#169670"/>
<circle cx="169.49" cy="97.57" r="0.65" fill="#169670"/>
<circle cx="169.84" cy="81.04" r="0.65" fill="#169670"/>
<circle cx="165.17" cy="77.55" r="0.65" fill="#169670"/>
<circle cx="139.62" cy="103.58" r="0.65" fill="#169670"/>
<circle cx="148.16" cy="72.86" r="0.65" fill="#169670"/>
<circle cx="142.08" cy="80.29" r="0.65" fill="#169670"/>
<circle cx="170.99" cy="80.83" r="0.65" fill="#169670"/>
<circle cx="161.27" cy="102.66" r="0.65" fill="#169670"/>
<circle cx="168.15" cy="78.09" r="0.65" fill="#169670"/>
<circle cx="168.96" cy="79.45" r="0.65" fill="#169670"/>
<circle cx="138.47" cy="107.45" r="0.65" fill="#169670"/>
<circle cx="167.83" cy="99.68" r="0.65" fill="#169670"/>
<circle cx="142.73" cy="80.15" r="0.65" fill="#169670"/>
<circle cx="165.22" cy="76.77" r="0.65" fill="#169670"/>
<circle cx="172.47" cy="89.59" r="0.65" fill="#169670"/>
<circle cx="171.89" cy="91.19" r="0.65" fill="#169670"/>
<circle cx="170.83" cy="95.81" r="0.65" fill="#169670"/>
<circle cx="147.29" cy="74.83" r="0.65" fill="#169670"/>
<circle cx="142.95" cy="86.45" r="0.65" fill="#169670"/>
<circle cx="142.27" cy="88.61" r="0.65" fill="#169670"/>
<circle cx="153.64" cy="73.26" r="0.65" fill="#169670"/>
<circle cx="171.04" cy="88.67" r="0.65" fill="#169670"/>
<circle cx="171.89" cy="85.27" r="0.65" fill="#169670"/>
<circle cx="148.45" cy="106.2" r="0.65" fill="#169670"/>
<circle cx="151.76" cy="74.61" r="0.65" fill="#169670"/>
<circle cx="140.01" cy="97.56" r="0.65" fill="#169670"/>
<circle cx="169.97" cy="82.32" r="0.65" fill="#169670"/>
<circle cx="152.56" cy="105.52" r="0.65" fill="#169670"/>
<circle cx="165.37" cy="75.95" r="0.65" fill="#169670"/>
<circle cx="159.25" cy="73.06" r="0.65" fill="#169670"/>
<circle cx="159.2" cy="103.46" r="0.65" fill="#169670"/>
<circle cx="142.3" cy="77.81" r="0.65" fill="#169670"/>
<circle cx="142.29" cy="82.97" r="0.65" fill="#169670"/>
<circle cx="172.03" cy="96.23" r="0.65" fill="#169670"/>
<circle cx="141.96" cy="76.38" r="0.65" fill="#169670"/>
<circle cx="171.52" cy="85.73" r="0.65" fill="#169670"/>
<circle cx="149.62" cy="73.85" r="0.65" fill="#169670"/>
<circle cx="156.18" cy="74.22" r="0.65" fill="#169670"/>
<circle cx="151.89" cy="74.03" r="0.65" fill="#169670"/>
<circle cx="139.92" cy="96.98" r="0.65" fill="#169670"/>
<circle cx="171.88" cy="92.53" r="0.65" fill="#169670"/>
<path d="M140.5 64.5 L143.5 65.5 L145.5 67.5 L148 69.5 L148.6 72 L146 74 L144.5 77.5 L141.5 80.7 L138.5 79.5 L137.2 76.5 L138.5 72 L139.5 68Z" fill="#5ea225"/>
<circle cx="145.71" cy="73.94" r="0.6" fill="#5ea225"/>
<circle cx="142.56" cy="65.62" r="0.6" fill="#5ea225"/>
<circle cx="140.5" cy="65.39" r="0.6" fill="#5ea225"/>
<circle cx="144.04" cy="66.23" r="0.6" fill="#5ea225"/>
<circle cx="139.34" cy="68.95" r="0.6" fill="#5ea225"/>
<circle cx="138.43" cy="71.34" r="0.6" fill="#5ea225"/>
<circle cx="144.13" cy="66.19" r="0.6" fill="#5ea225"/>
<circle cx="148.18" cy="69.3" r="0.6" fill="#5ea225"/>
<circle cx="148.14" cy="71.83" r="0.6" fill="#5ea225"/>
<circle cx="145.73" cy="67.76" r="0.6" fill="#5ea225"/>
<circle cx="147.9" cy="69.48" r="0.6" fill="#5ea225"/>
<circle cx="142.1" cy="80.15" r="0.6" fill="#5ea225"/>
<circle cx="145.25" cy="74.74" r="0.6" fill="#5ea225"/>
<circle cx="145.51" cy="74.06" r="0.6" fill="#5ea225"/>
<circle cx="140.34" cy="66.36" r="0.6" fill="#5ea225"/>
<circle cx="146.08" cy="67.69" r="0.6" fill="#5ea225"/>
<circle cx="146.91" cy="73.45" r="0.6" fill="#5ea225"/>
<circle cx="147.14" cy="73.39" r="0.6" fill="#5ea225"/>
<circle cx="143.82" cy="65.94" r="0.6" fill="#5ea225"/>
<circle cx="139.49" cy="68.63" r="0.6" fill="#5ea225"/>
<circle cx="143.72" cy="65.88" r="0.6" fill="#5ea225"/>
<circle cx="146.43" cy="73.59" r="0.6" fill="#5ea225"/>
<circle cx="147.18" cy="73.16" r="0.6" fill="#5ea225"/>
<circle cx="148.36" cy="72.23" r="0.6" fill="#5ea225"/>
<circle cx="137.7" cy="77.98" r="0.6" fill="#5ea225"/>
<circle cx="166.14" cy="72.32" r="0.6" fill="#169670"/>
<circle cx="155.28" cy="66.49" r="0.6" fill="#d65812"/>
<circle cx="152.02" cy="72.86" r="0.6" fill="#169670"/>
<circle cx="166.4" cy="72.26" r="0.6" fill="#169670"/>
<circle cx="163.37" cy="68.36" r="0.6" fill="#e1a30e"/>
<circle cx="166.07" cy="76.67" r="0.6" fill="#d65812"/>
<circle cx="164.51" cy="68.1" r="0.6" fill="#169670"/>
<circle cx="161.09" cy="74.49" r="0.6" fill="#169670"/>
<circle cx="160.41" cy="68.43" r="0.6" fill="#e1a30e"/>
<circle cx="162.92" cy="72.23" r="0.6" fill="#e1a30e"/>
<circle cx="158.92" cy="70.17" r="0.6" fill="#169670"/>
<circle cx="166.36" cy="76.37" r="0.6" fill="#d65812"/>
<circle cx="149.08" cy="70.91" r="0.6" fill="#d65812"/>
<circle cx="150.07" cy="73.99" r="0.6" fill="#169670"/>
<circle cx="151.28" cy="75.98" r="0.6" fill="#169670"/>
<circle cx="147.84" cy="74.43" r="0.6" fill="#e1a30e"/>
<circle cx="155.19" cy="77.19" r="0.6" fill="#e1a30e"/>
<circle cx="149.78" cy="74.58" r="0.6" fill="#169670"/>
<circle cx="164.92" cy="76.42" r="0.6" fill="#e1a30e"/>
<circle cx="153.71" cy="67.29" r="0.6" fill="#d65812"/>
<circle cx="157.27" cy="66.31" r="0.6" fill="#169670"/>
<circle cx="147.48" cy="77.61" r="0.6" fill="#169670"/>
<circle cx="161.24" cy="68.01" r="0.6" fill="#169670"/>
<circle cx="152.76" cy="75.81" r="0.6" fill="#e1a30e"/>
<circle cx="147.45" cy="77.12" r="0.6" fill="#169670"/>
<circle cx="153.01" cy="76.05" r="0.6" fill="#d65812"/>
<circle cx="159.03" cy="74.43" r="0.6" fill="#e1a30e"/>
<circle cx="155.07" cy="67.13" r="0.6" fill="#169670"/>
<circle cx="148.04" cy="67.48" r="0.6" fill="#d65812"/>
<circle cx="160.48" cy="75.14" r="0.6" fill="#e1a30e"/>
<circle cx="143.91" cy="103.46" r="0.6" fill="#e1a30e"/>
<circle cx="157.33" cy="101.5" r="0.6" fill="#e1a30e"/>
<circle cx="144.71" cy="105.3" r="0.6" fill="#169670"/>
<circle cx="145.26" cy="108.09" r="0.6" fill="#169670"/>
<circle cx="162.2" cy="105.57" r="0.6" fill="#e1a30e"/>
<circle cx="152.66" cy="109.35" r="0.6" fill="#169670"/>
<circle cx="150.83" cy="101.64" r="0.6" fill="#169670"/>
<circle cx="162.9" cy="108.27" r="0.6" fill="#169670"/>
<circle cx="166.08" cy="108.32" r="0.6" fill="#e1a30e"/>
<circle cx="150.4" cy="100.61" r="0.6" fill="#169670"/>
<circle cx="147.98" cy="103.64" r="0.6" fill="#e1a30e"/>
<circle cx="151.66" cy="104.84" r="0.6" fill="#e1a30e"/>
<circle cx="150.38" cy="101.21" r="0.6" fill="#e1a30e"/>
<circle cx="147.22" cy="103.63" r="0.6" fill="#169670"/>
<circle cx="164.85" cy="109.31" r="0.6" fill="#e1a30e"/>
<circle cx="165.9" cy="108.73" r="0.6" fill="#e1a30e"/>
<circle cx="141.1" cy="106.06" r="0.6" fill="#169670"/>
<circle cx="169.37" cy="105.86" r="0.6" fill="#e1a30e"/>
<circle cx="159.88" cy="101.76" r="0.6" fill="#e1a30e"/>
<circle cx="153.88" cy="109.46" r="0.6" fill="#169670"/>
<circle cx="143.62" cy="102.82" r="0.6" fill="#e1a30e"/>
<circle cx="143.85" cy="105.54" r="0.6" fill="#169670"/>
<circle cx="142.7" cy="105.49" r="0.6" fill="#e1a30e"/>
<circle cx="154.08" cy="104.63" r="0.6" fill="#169670"/>
<circle cx="169.3" cy="105.35" r="0.6" fill="#169670"/>
<circle cx="147.79" cy="99.97" r="0.6" fill="#169670"/>
<circle cx="166.87" cy="105.71" r="0.6" fill="#e1a30e"/>
<circle cx="160.81" cy="101.21" r="0.6" fill="#169670"/>
<circle cx="154.75" cy="105.03" r="0.6" fill="#169670"/>
<circle cx="155.01" cy="102.42" r="0.6" fill="#e1a30e"/>
<circle cx="169.67" cy="82.15" r="0.6" fill="#169670"/>
<circle cx="176.67" cy="86.72" r="0.6" fill="#169670"/>
<circle cx="167.79" cy="98.95" r="0.6" fill="#169670"/>
<circle cx="172.12" cy="88.81" r="0.6" fill="#169670"/>
<circle cx="175.66" cy="82.76" r="0.6" fill="#e1a30e"/>
<circle cx="174.49" cy="81.49" r="0.6" fill="#e1a30e"/>
<circle cx="172.67" cy="85.66" r="0.6" fill="#e1a30e"/>
<circle cx="171.69" cy="96.36" r="0.6" fill="#169670"/>
<circle cx="174.09" cy="80.4" r="0.6" fill="#e1a30e"/>
<circle cx="176.88" cy="92.91" r="0.6" fill="#e1a30e"/>
<circle cx="170.58" cy="92.7" r="0.6" fill="#e1a30e"/>
<circle cx="173.43" cy="91.56" r="0.6" fill="#169670"/>
<circle cx="175.03" cy="89.39" r="0.6" fill="#169670"/>
<circle cx="168.96" cy="91.87" r="0.6" fill="#e1a30e"/>
<circle cx="170.54" cy="80.27" r="0.6" fill="#169670"/>
<circle cx="174.42" cy="90.89" r="0.6" fill="#169670"/>
<circle cx="170.37" cy="99.84" r="0.6" fill="#e1a30e"/>
<circle cx="170.6" cy="95.24" r="0.6" fill="#e1a30e"/>
<circle cx="170.18" cy="87.95" r="0.6" fill="#169670"/>
<circle cx="169.17" cy="85.76" r="0.6" fill="#169670"/>
<circle cx="134.91" cy="87.66" r="0.55" fill="#5ea225"/>
<circle cx="137.48" cy="66.26" r="0.55" fill="#ffffff"/>
<circle cx="139.5" cy="85.48" r="0.55" fill="#5ea225"/>
<circle cx="134" cy="86.94" r="0.55" fill="#169670"/>
<circle cx="135.36" cy="80.7" r="0.55" fill="#169670"/>
<circle cx="131.88" cy="101.89" r="0.55" fill="#5ea225"/>
<circle cx="140.69" cy="89.72" r="0.55" fill="#169670"/>
<circle cx="140.59" cy="73.97" r="0.55" fill="#5ea225"/>
<circle cx="139.91" cy="103.28" r="0.55" fill="#169670"/>
<circle cx="131.47" cy="88.03" r="0.55" fill="#5ea225"/>
<circle cx="134" cy="86.92" r="0.55" fill="#5ea225"/>
<circle cx="136.38" cy="104.93" r="0.55" fill="#ffffff"/>
<circle cx="139.26" cy="94.36" r="0.55" fill="#5ea225"/>
<circle cx="134.9" cy="79.95" r="0.55" fill="#ffffff"/>
<circle cx="137.76" cy="83.67" r="0.55" fill="#169670"/>
<circle cx="137.76" cy="86.48" r="0.55" fill="#169670"/>
<circle cx="135.1" cy="85.54" r="0.55" fill="#ffffff"/>
<circle cx="136.61" cy="88.39" r="0.55" fill="#169670"/>
<circle cx="140.64" cy="84.98" r="0.55" fill="#5ea225"/>
<circle cx="138.67" cy="101.07" r="0.55" fill="#ffffff"/>
<path d="M145.5 110.5 L150 111 L156 112.5 L162 113.5 L166 113.8 L163 116.2 L159 116.6 L155.5 117.2 L152.8 117 L150.5 114.8 L147.5 113Z" fill="#e1a30e"/>
<circle cx="160.48" cy="116.07" r="0.6" fill="#e1a30e"/>
<circle cx="162.21" cy="116.65" r="0.6" fill="#e1a30e"/>
<circle cx="152.55" cy="116.41" r="0.6" fill="#e1a30e"/>
<circle cx="160.21" cy="116.92" r="0.6" fill="#e1a30e"/>
<circle cx="156.82" cy="117.29" r="0.6" fill="#e1a30e"/>
<circle cx="163.71" cy="113.33" r="0.6" fill="#e1a30e"/>
<circle cx="145.98" cy="111.66" r="0.6" fill="#e1a30e"/>
<circle cx="145.77" cy="111.32" r="0.6" fill="#e1a30e"/>
<circle cx="147.07" cy="110.16" r="0.6" fill="#e1a30e"/>
<circle cx="164.41" cy="114.27" r="0.6" fill="#e1a30e"/>
<circle cx="146.38" cy="110.65" r="0.6" fill="#e1a30e"/>
<circle cx="163.78" cy="115.91" r="0.6" fill="#e1a30e"/>
<circle cx="159.36" cy="112.7" r="0.6" fill="#e1a30e"/>
<circle cx="159.12" cy="112.55" r="0.6" fill="#e1a30e"/>
<circle cx="151.05" cy="111.58" r="0.6" fill="#e1a30e"/>
<circle cx="149.51" cy="114.17" r="0.6" fill="#e1a30e"/>
<circle cx="145.78" cy="111.29" r="0.6" fill="#e1a30e"/>
<circle cx="161.43" cy="116.44" r="0.6" fill="#e1a30e"/>
<circle cx="150" cy="114.81" r="0.6" fill="#e1a30e"/>
<circle cx="146.14" cy="110.61" r="0.6" fill="#e1a30e"/>
<circle cx="147.6" cy="110.47" r="0.6" fill="#e1a30e"/>
<circle cx="146.3" cy="110.25" r="0.6" fill="#e1a30e"/>
<circle cx="149.86" cy="110.75" r="0.6" fill="#e1a30e"/>
<circle cx="150.13" cy="114.83" r="0.6" fill="#e1a30e"/>
<circle cx="151.35" cy="111.58" r="0.6" fill="#e1a30e"/>
<circle cx="145.88" cy="109.78" r="0.65" fill="#169670"/>
<circle cx="154.38" cy="111.36" r="0.65" fill="#169670"/>
<circle cx="153.31" cy="109.19" r="0.65" fill="#169670"/>
<circle cx="145.26" cy="110.23" r="0.65" fill="#169670"/>
<circle cx="145.43" cy="115.74" r="0.65" fill="#169670"/>
<circle cx="146.78" cy="112.05" r="0.65" fill="#169670"/>
<circle cx="144.49" cy="111.8" r="0.65" fill="#169670"/>
<circle cx="148.01" cy="110.63" r="0.65" fill="#169670"/>
<circle cx="143.85" cy="108.11" r="0.65" fill="#169670"/>
<circle cx="153.74" cy="110.16" r="0.65" fill="#169670"/>
<circle cx="146.18" cy="108.72" r="0.65" fill="#169670"/>
<circle cx="146.69" cy="109.13" r="0.65" fill="#169670"/>
<circle cx="143.45" cy="112.98" r="0.65" fill="#169670"/>
<circle cx="147.44" cy="108.4" r="0.65" fill="#169670"/>
<circle cx="152.18" cy="107.83" r="0.65" fill="#169670"/>
<circle cx="146.51" cy="114.52" r="0.65" fill="#169670"/>
<path d="M153.3 116.4 L158.9 115.3 L159.9 120.5 L160.5 124.6 L163 121.5 L165.6 123 L166.8 125.6 L164.6 129.2 L160 130.7 L156.9 133.8 L156.4 136.8 L153.8 136.3 L154.3 130.7 L153.8 124.6 L154.3 119.4Z" fill="#a3721c"/>
<circle cx="160.21" cy="122.95" r="0.55" fill="#a3721c"/>
<circle cx="160.81" cy="124.24" r="0.55" fill="#a3721c"/>
<circle cx="165.46" cy="127.74" r="0.55" fill="#a3721c"/>
<circle cx="162.11" cy="129.93" r="0.55" fill="#a3721c"/>
<circle cx="160.76" cy="124.42" r="0.55" fill="#a3721c"/>
<circle cx="161.82" cy="129.93" r="0.55" fill="#a3721c"/>
<circle cx="156.42" cy="135.48" r="0.55" fill="#a3721c"/>
<circle cx="155.09" cy="136.41" r="0.55" fill="#a3721c"/>
<circle cx="153.63" cy="126.17" r="0.55" fill="#a3721c"/>
<circle cx="160.02" cy="121.53" r="0.55" fill="#a3721c"/>
<circle cx="160.2" cy="123.5" r="0.55" fill="#a3721c"/>
<circle cx="154.23" cy="118.99" r="0.55" fill="#a3721c"/>
<circle cx="157.46" cy="133.18" r="0.55" fill="#a3721c"/>
<circle cx="158.9" cy="116.61" r="0.55" fill="#a3721c"/>
<circle cx="164.13" cy="122.01" r="0.55" fill="#a3721c"/>
<circle cx="154.32" cy="136.14" r="0.55" fill="#a3721c"/>
<circle cx="163.38" cy="121.94" r="0.55" fill="#a3721c"/>
<circle cx="153.92" cy="134.43" r="0.55" fill="#a3721c"/>
<circle cx="154.33" cy="133.65" r="0.55" fill="#a3721c"/>
<circle cx="153.48" cy="117.28" r="0.55" fill="#a3721c"/>
<circle cx="153.5" cy="113.5" r="0.7" fill="#169670"/>
<circle cx="156" cy="114" r="0.7" fill="#e1a30e"/>
<circle cx="158.5" cy="113" r="0.7" fill="#e1a30e"/>
<circle cx="161.5" cy="116.5" r="0.7" fill="#e1a30e"/>
<circle cx="164.5" cy="118.5" r="0.7" fill="#e1a30e"/>
<circle cx="162.5" cy="117" r="0.7" fill="#e1a30e"/>
<circle cx="155.5" cy="122" r="0.7" fill="#e0258a"/>
<path d="M151.8 140.4 C152.4 140.75 153.62 141.72 154.3 143 C154.98 144.28 155.73 146.23 155.9 148.1 C156.07 149.97 155.9 152.58 155.3 154.2 C154.7 155.82 153.4 157.37 152.3 157.8 C151.2 158.23 149.73 157.73 148.7 156.8 C147.67 155.87 146.53 154 146.1 152.2 C145.67 150.4 145.58 147.45 146.1 146 C146.62 144.55 148.43 144.35 149.2 143.5 C149.97 142.65 150.27 141.42 150.7 140.9 C151.13 140.38 151.2 140.05 151.8 140.4 Z" fill="#e0258a"/>
<circle cx="151.64" cy="140.26" r="0.5" fill="#e0258a"/>
<circle cx="153.28" cy="142.14" r="0.5" fill="#e0258a"/>
<circle cx="155.4" cy="150.31" r="0.5" fill="#e0258a"/>
<circle cx="155.4" cy="151.54" r="0.5" fill="#e0258a"/>
<circle cx="149.54" cy="142.95" r="0.5" fill="#e0258a"/>
<circle cx="146.03" cy="152.65" r="0.5" fill="#e0258a"/>
<circle cx="149.28" cy="156.95" r="0.5" fill="#e0258a"/>
<circle cx="154.34" cy="142.66" r="0.5" fill="#e0258a"/>
<circle cx="148.4" cy="155.98" r="0.5" fill="#e0258a"/>
<circle cx="155.11" cy="145.43" r="0.5" fill="#e0258a"/>
<circle cx="151.48" cy="140.24" r="0.5" fill="#e0258a"/>
<circle cx="146" cy="149.46" r="0.5" fill="#e0258a"/>
<path d="M177.6 38.6 L179.5 39 L178.9 42.6 L177.1 42.2Z" fill="#666666"/>
<circle cx="177.8" cy="43.6" r="0.8" fill="#e1a30e"/>
<circle cx="176.3" cy="46" r="0.95" fill="#5ea225"/>
<circle cx="177" cy="47.6" r="0.85" fill="#e1a30e"/>
<circle cx="176" cy="48.6" r="0.7" fill="#e1a30e"/>
<circle cx="171.5" cy="52.2" r="0.75" fill="#d65812"/>
<rect x="22.5" y="18.3" width="169.9" height="145" fill="none" stroke="#625656" stroke-width="1.05"/>
<text x="104.1" y="175.3" font-size="8.6" text-anchor="middle" fill="#1a1a1a">UMAP_1</text>
<text x="17.2" y="90.8" font-size="8.9" text-anchor="middle" fill="#1a1a1a" transform="rotate(-90 17.2 90.8)">UMAP_2</text>
<circle cx="199.6" cy="26.7" r="2.8" fill="#169670"/>
<text x="209" y="29.3" font-size="7.3" fill="#1a1a1a">Bm_MS4A1</text>
<circle cx="199.6" cy="36.25" r="2.8" fill="#d65812"/>
<text x="209" y="38.85" font-size="7.3" fill="#1a1a1a">Bm_CD83</text>
<circle cx="199.6" cy="45.8" r="2.8" fill="#736eaf"/>
<text x="209" y="48.4" font-size="7.3" fill="#1a1a1a">Bm_CD74</text>
<circle cx="199.6" cy="55.35" r="2.8" fill="#e0258a"/>
<text x="209" y="57.95" font-size="7.3" fill="#1a1a1a">Bm_ALDOA</text>
<circle cx="199.6" cy="64.9" r="2.8" fill="#5ea225"/>
<text x="209" y="67.5" font-size="7.3" fill="#1a1a1a">Bm_FCRL4</text>
<circle cx="199.6" cy="74.45" r="2.8" fill="#e1a30e"/>
<text x="209" y="77.05" font-size="7.3" fill="#1a1a1a">Bn_IGHD</text>
<circle cx="199.6" cy="84" r="2.8" fill="#a3721c"/>
<text x="209" y="86.6" font-size="7.3" fill="#1a1a1a">Bn_SPP1</text>
<circle cx="199.6" cy="93.55" r="2.8" fill="#666666"/>
<text x="209" y="96.15" font-size="7.3" fill="#1a1a1a">Bgc_LMO2</text>
<circle cx="199.6" cy="103.1" r="2.8" fill="#94c0d9"/>
<text x="209" y="105.7" font-size="7.3" fill="#1a1a1a">PC_IGHG1</text>
<circle cx="199.6" cy="112.65" r="2.8" fill="#1c6aa8"/>
<text x="209" y="115.25" font-size="7.3" fill="#1a1a1a">PC_FKBP2</text>
<circle cx="199.6" cy="122.2" r="2.8" fill="#a1ce7f"/>
<text x="209" y="124.8" font-size="7.3" fill="#1a1a1a">PC_XBP1</text>
<circle cx="199.6" cy="131.75" r="2.8" fill="#1b953e"/>
<text x="209" y="134.35" font-size="7.3" fill="#1a1a1a">PC_JSRP1</text>
<circle cx="199.6" cy="141.3" r="2.8" fill="#f08c90"/>
<text x="209" y="143.9" font-size="7.3" fill="#1a1a1a">PC_MKI67</text>
<circle cx="199.6" cy="150.85" r="2.8" fill="#dd1519"/>
<text x="209" y="153.45" font-size="7.3" fill="#1a1a1a">PC_IGHM</text>
<text x="263.3" y="12.2" font-size="17" font-weight="bold" fill="#1e1414">B</text>
<text x="280" y="96.9" font-size="9.85" text-anchor="middle" fill="#111" transform="rotate(-90 280 96.9)">Fraction (%) of B and Plasma Cell</text>
<line x1="304.4" y1="34" x2="304.4" y2="154.8" stroke="#222" stroke-width="1"/>
<line x1="303.9" y1="154.3" x2="678.4" y2="154.3" stroke="#222" stroke-width="1"/>
<line x1="301.6" y1="40.3" x2="304.4" y2="40.3" stroke="#222" stroke-width="0.8"/>
<text x="300.7" y="42.95" font-size="7.5" text-anchor="end" fill="#222">1.00</text>
<line x1="301.6" y1="67.6" x2="304.4" y2="67.6" stroke="#222" stroke-width="0.8"/>
<text x="300.7" y="70.25" font-size="7.5" text-anchor="end" fill="#222">0.75</text>
<line x1="301.6" y1="94.9" x2="304.4" y2="94.9" stroke="#222" stroke-width="0.8"/>
<text x="300.7" y="97.55" font-size="7.5" text-anchor="end" fill="#222">0.50</text>
<line x1="301.6" y1="122.2" x2="304.4" y2="122.2" stroke="#222" stroke-width="0.8"/>
<text x="300.7" y="124.85" font-size="7.5" text-anchor="end" fill="#222">0.25</text>
<line x1="301.6" y1="149.5" x2="304.4" y2="149.5" stroke="#222" stroke-width="0.8"/>
<text x="300.7" y="152.15" font-size="7.5" text-anchor="end" fill="#222">0.00</text>
<line x1="320.7" y1="154.3" x2="320.7" y2="156.6" stroke="#222" stroke-width="0.8"/>
<text x="324" y="161.6" font-size="7.5" text-anchor="end" fill="#222" transform="rotate(-45 324 161.6)">Bn_IGHD</text>
<line x1="347.02" y1="154.3" x2="347.02" y2="156.6" stroke="#222" stroke-width="0.8"/>
<text x="350.32" y="161.6" font-size="7.5" text-anchor="end" fill="#222" transform="rotate(-45 350.32 161.6)">Bn_SPP1</text>
<line x1="373.34" y1="154.3" x2="373.34" y2="156.6" stroke="#222" stroke-width="0.8"/>
<text x="376.64" y="161.6" font-size="7.5" text-anchor="end" fill="#222" transform="rotate(-45 376.64 161.6)">Bm_MS4A1</text>
<line x1="399.66" y1="154.3" x2="399.66" y2="156.6" stroke="#222" stroke-width="0.8"/>
<text x="402.96" y="161.6" font-size="7.5" text-anchor="end" fill="#222" transform="rotate(-45 402.96 161.6)">Bm_CD83</text>
<line x1="425.98" y1="154.3" x2="425.98" y2="156.6" stroke="#222" stroke-width="0.8"/>
<text x="429.28" y="161.6" font-size="7.5" text-anchor="end" fill="#222" transform="rotate(-45 429.28 161.6)">Bm_CD74</text>
<line x1="452.3" y1="154.3" x2="452.3" y2="156.6" stroke="#222" stroke-width="0.8"/>
<text x="455.6" y="161.6" font-size="7.5" text-anchor="end" fill="#222" transform="rotate(-45 455.6 161.6)">Bm_ALDOA</text>
<line x1="478.62" y1="154.3" x2="478.62" y2="156.6" stroke="#222" stroke-width="0.8"/>
<text x="481.92" y="161.6" font-size="7.5" text-anchor="end" fill="#222" transform="rotate(-45 481.92 161.6)">Bm_FCRL4</text>
<line x1="504.94" y1="154.3" x2="504.94" y2="156.6" stroke="#222" stroke-width="0.8"/>
<text x="508.24" y="161.6" font-size="7.5" text-anchor="end" fill="#222" transform="rotate(-45 508.24 161.6)">Bgc_LMO2</text>
<line x1="531.26" y1="154.3" x2="531.26" y2="156.6" stroke="#222" stroke-width="0.8"/>
<text x="534.56" y="161.6" font-size="7.5" text-anchor="end" fill="#222" transform="rotate(-45 534.56 161.6)">PC_IGHG1</text>
<line x1="557.58" y1="154.3" x2="557.58" y2="156.6" stroke="#222" stroke-width="0.8"/>
<text x="560.88" y="161.6" font-size="7.5" text-anchor="end" fill="#222" transform="rotate(-45 560.88 161.6)">PC_FKBP2</text>
<line x1="583.9" y1="154.3" x2="583.9" y2="156.6" stroke="#222" stroke-width="0.8"/>
<text x="587.2" y="161.6" font-size="7.5" text-anchor="end" fill="#222" transform="rotate(-45 587.2 161.6)">PC_XBP1</text>
<line x1="610.22" y1="154.3" x2="610.22" y2="156.6" stroke="#222" stroke-width="0.8"/>
<text x="613.52" y="161.6" font-size="7.5" text-anchor="end" fill="#222" transform="rotate(-45 613.52 161.6)">PC_JSRP1</text>
<line x1="636.54" y1="154.3" x2="636.54" y2="156.6" stroke="#222" stroke-width="0.8"/>
<text x="639.84" y="161.6" font-size="7.5" text-anchor="end" fill="#222" transform="rotate(-45 639.84 161.6)">PC_MKI67</text>
<line x1="662.86" y1="154.3" x2="662.86" y2="156.6" stroke="#222" stroke-width="0.8"/>
<text x="666.16" y="161.6" font-size="7.5" text-anchor="end" fill="#222" transform="rotate(-45 666.16 161.6)">PC_IGHM</text>
<line x1="311.7" y1="32.4" x2="354.9" y2="32.4" stroke="#222" stroke-width="0.9"/>
<text x="333.9" y="30.2" font-size="6.7" text-anchor="middle" fill="#111">Naive B</text>
<line x1="360.9" y1="32.4" x2="481.8" y2="32.4" stroke="#222" stroke-width="0.9"/>
<text x="424.8" y="30.2" font-size="6.7" text-anchor="middle" fill="#111">Memory B</text>
<line x1="490.6" y1="32.4" x2="508.8" y2="32.4" stroke="#222" stroke-width="0.9"/>
<text x="499.9" y="30.2" font-size="6.7" text-anchor="middle" fill="#111">GC B</text>
<line x1="515.3" y1="32.4" x2="672.6" y2="32.4" stroke="#222" stroke-width="0.9"/>
<text x="597.5" y="30.2" font-size="6.7" text-anchor="middle" fill="#111">PC</text>
<line x1="315.4" y1="115.54" x2="315.4" y2="125.69" stroke="#4a4a4a" stroke-width="0.75"/>
<line x1="315.4" y1="135.3" x2="315.4" y2="138.58" stroke="#4a4a4a" stroke-width="0.75"/>
<rect x="310.6" y="125.69" width="9.6" height="9.61" fill="#16936f" stroke="#333" stroke-width="0.75"/>
<line x1="310.6" y1="131.05" x2="320.2" y2="131.05" stroke="#222" stroke-width="1"/>
<rect x="321.2" y="145.35" width="9.6" height="4.15" fill="#30538a" stroke="#333" stroke-width="0.75"/>
<line x1="321.2" y1="149.28" x2="330.8" y2="149.28" stroke="#222" stroke-width="1"/>
<circle cx="326" cy="123.84" r="1.6" fill="#000"/>
<circle cx="326" cy="131.48" r="1.6" fill="#000"/>
<rect x="336.92" y="147.97" width="9.6" height="0.9" fill="#16936f" stroke="#333" stroke-width="0.75"/>
<line x1="336.92" y1="148.41" x2="346.52" y2="148.41" stroke="#222" stroke-width="1"/>
<line x1="352.32" y1="131.05" x2="352.32" y2="138.14" stroke="#4a4a4a" stroke-width="0.75"/>
<rect x="347.52" y="138.14" width="9.6" height="11.36" fill="#30538a" stroke="#333" stroke-width="0.75"/>
<line x1="347.52" y1="149.28" x2="357.12" y2="149.28" stroke="#222" stroke-width="1"/>
<circle cx="352.32" cy="119.8" r="1.6" fill="#000"/>
<circle cx="352.32" cy="50.35" r="1.6" fill="#000"/>
<line x1="368.04" y1="91.08" x2="368.04" y2="101.12" stroke="#4a4a4a" stroke-width="0.75"/>
<line x1="368.04" y1="117.4" x2="368.04" y2="137.05" stroke="#4a4a4a" stroke-width="0.75"/>
<rect x="363.24" y="101.12" width="9.6" height="16.27" fill="#16936f" stroke="#333" stroke-width="0.75"/>
<line x1="363.24" y1="109.53" x2="372.84" y2="109.53" stroke="#222" stroke-width="1"/>
<line x1="378.64" y1="126.24" x2="378.64" y2="137.71" stroke="#4a4a4a" stroke-width="0.75"/>
<rect x="373.84" y="137.71" width="9.6" height="11.79" fill="#30538a" stroke="#333" stroke-width="0.75"/>
<line x1="373.84" y1="147.75" x2="383.44" y2="147.75" stroke="#222" stroke-width="1"/>
<line x1="394.36" y1="83.22" x2="394.36" y2="109.53" stroke="#4a4a4a" stroke-width="0.75"/>
<line x1="394.36" y1="133.45" x2="394.36" y2="147.75" stroke="#4a4a4a" stroke-width="0.75"/>
<rect x="389.56" y="109.53" width="9.6" height="23.91" fill="#16936f" stroke="#333" stroke-width="0.75"/>
<line x1="389.56" y1="125.04" x2="399.16" y2="125.04" stroke="#222" stroke-width="1"/>
<line x1="404.96" y1="144.8" x2="404.96" y2="147.21" stroke="#4a4a4a" stroke-width="0.75"/>
<rect x="400.16" y="147.21" width="9.6" height="2.29" fill="#30538a" stroke="#333" stroke-width="0.75"/>
<line x1="400.16" y1="148.95" x2="409.76" y2="148.95" stroke="#222" stroke-width="1"/>
<circle cx="404.96" cy="85.62" r="1.6" fill="#000"/>
<line x1="420.68" y1="137.71" x2="420.68" y2="141.75" stroke="#4a4a4a" stroke-width="0.75"/>
<line x1="420.68" y1="148.19" x2="420.68" y2="149.17" stroke="#4a4a4a" stroke-width="0.75"/>
<rect x="415.88" y="141.75" width="9.6" height="6.44" fill="#16936f" stroke="#333" stroke-width="0.75"/>
<line x1="415.88" y1="147.21" x2="425.48" y2="147.21" stroke="#222" stroke-width="1"/>
<line x1="431.28" y1="135.85" x2="431.28" y2="140" stroke="#4a4a4a" stroke-width="0.75"/>
<rect x="426.48" y="140" width="9.6" height="9.5" fill="#30538a" stroke="#333" stroke-width="0.75"/>
<line x1="426.48" y1="149.28" x2="436.08" y2="149.28" stroke="#222" stroke-width="1"/>
<circle cx="431.28" cy="120.23" r="1.6" fill="#000"/>
<circle cx="431.28" cy="83.98" r="1.6" fill="#000"/>
<rect x="442.2" y="149.28" width="9.6" height="0.9" fill="#16936f" stroke="#333" stroke-width="0.75"/>
<line x1="442.2" y1="149.39" x2="451.8" y2="149.39" stroke="#222" stroke-width="1"/>
<circle cx="447" cy="149.17" r="1.6" fill="#000"/>
<rect x="452.8" y="149.17" width="9.6" height="0.9" fill="#30538a" stroke="#333" stroke-width="0.75"/>
<line x1="452.8" y1="149.39" x2="462.4" y2="149.39" stroke="#222" stroke-width="1"/>
<circle cx="457.6" cy="141.2" r="1.6" fill="#000"/>
<circle cx="457.6" cy="91.95" r="1.6" fill="#000"/>
<line x1="473.32" y1="141.75" x2="473.32" y2="145.35" stroke="#4a4a4a" stroke-width="0.75"/>
<line x1="473.32" y1="148.19" x2="473.32" y2="148.95" stroke="#4a4a4a" stroke-width="0.75"/>
<rect x="468.52" y="145.35" width="9.6" height="2.84" fill="#16936f" stroke="#333" stroke-width="0.75"/>
<line x1="468.52" y1="147.53" x2="478.12" y2="147.53" stroke="#222" stroke-width="1"/>
<line x1="483.92" y1="148.19" x2="483.92" y2="148.41" stroke="#4a4a4a" stroke-width="0.75"/>
<rect x="479.12" y="148.41" width="9.6" height="1.09" fill="#30538a" stroke="#333" stroke-width="0.75"/>
<line x1="479.12" y1="149.06" x2="488.72" y2="149.06" stroke="#222" stroke-width="1"/>
<line x1="499.64" y1="147.97" x2="499.64" y2="148.19" stroke="#4a4a4a" stroke-width="0.75"/>
<line x1="499.64" y1="149.06" x2="499.64" y2="149.28" stroke="#4a4a4a" stroke-width="0.75"/>
<rect x="494.84" y="148.19" width="9.6" height="0.9" fill="#16936f" stroke="#333" stroke-width="0.75"/>
<line x1="494.84" y1="148.63" x2="504.44" y2="148.63" stroke="#222" stroke-width="1"/>
<circle cx="499.64" cy="147.53" r="1.6" fill="#000"/>
<circle cx="499.64" cy="146.55" r="1.6" fill="#000"/>
<circle cx="499.64" cy="145.57" r="1.6" fill="#000"/>
<rect x="505.44" y="149.28" width="9.6" height="0.9" fill="#30538a" stroke="#333" stroke-width="0.75"/>
<line x1="505.44" y1="149.39" x2="515.04" y2="149.39" stroke="#222" stroke-width="1"/>
<line x1="525.96" y1="123.84" x2="525.96" y2="131.48" stroke="#4a4a4a" stroke-width="0.75"/>
<line x1="525.96" y1="144.15" x2="525.96" y2="147.21" stroke="#4a4a4a" stroke-width="0.75"/>
<rect x="521.16" y="131.48" width="9.6" height="12.67" fill="#16936f" stroke="#333" stroke-width="0.75"/>
<line x1="521.16" y1="137.38" x2="530.76" y2="137.38" stroke="#222" stroke-width="1"/>
<line x1="536.56" y1="128.1" x2="536.56" y2="133.99" stroke="#4a4a4a" stroke-width="0.75"/>
<rect x="531.76" y="133.99" width="9.6" height="15.51" fill="#30538a" stroke="#333" stroke-width="0.75"/>
<line x1="531.76" y1="141.75" x2="541.36" y2="141.75" stroke="#222" stroke-width="1"/>
<circle cx="536.56" cy="100.25" r="1.6" fill="#000"/>
<circle cx="536.56" cy="84.85" r="1.6" fill="#000"/>
<rect x="547.48" y="149.28" width="9.6" height="0.9" fill="#16936f" stroke="#333" stroke-width="0.75"/>
<line x1="547.48" y1="149.39" x2="557.08" y2="149.39" stroke="#222" stroke-width="1"/>
<line x1="562.88" y1="37.9" x2="562.88" y2="71.75" stroke="#4a4a4a" stroke-width="0.75"/>
<rect x="558.08" y="71.75" width="9.6" height="77.75" fill="#30538a" stroke="#333" stroke-width="0.75"/>
<line x1="558.08" y1="148.95" x2="567.68" y2="148.95" stroke="#222" stroke-width="1"/>
<line x1="578.6" y1="147.75" x2="578.6" y2="147.97" stroke="#4a4a4a" stroke-width="0.75"/>
<line x1="578.6" y1="148.84" x2="578.6" y2="149.06" stroke="#4a4a4a" stroke-width="0.75"/>
<rect x="573.8" y="147.97" width="9.6" height="0.9" fill="#16936f" stroke="#333" stroke-width="0.75"/>
<line x1="573.8" y1="148.41" x2="583.4" y2="148.41" stroke="#222" stroke-width="1"/>
<line x1="589.2" y1="146.22" x2="589.2" y2="146.55" stroke="#4a4a4a" stroke-width="0.75"/>
<rect x="584.4" y="146.55" width="9.6" height="2.95" fill="#30538a" stroke="#333" stroke-width="0.75"/>
<line x1="584.4" y1="148.63" x2="594" y2="148.63" stroke="#222" stroke-width="1"/>
<circle cx="589.2" cy="132.25" r="1.6" fill="#000"/>
<rect x="600.12" y="149.28" width="9.6" height="0.9" fill="#16936f" stroke="#333" stroke-width="0.75"/>
<line x1="600.12" y1="149.39" x2="609.72" y2="149.39" stroke="#222" stroke-width="1"/>
<rect x="610.72" y="149.28" width="9.6" height="0.9" fill="#30538a" stroke="#333" stroke-width="0.75"/>
<line x1="610.72" y1="149.39" x2="620.32" y2="149.39" stroke="#222" stroke-width="1"/>
<circle cx="615.52" cy="131.48" r="1.6" fill="#000"/>
<line x1="631.24" y1="147.75" x2="631.24" y2="147.97" stroke="#4a4a4a" stroke-width="0.75"/>
<line x1="631.24" y1="149.06" x2="631.24" y2="149.28" stroke="#4a4a4a" stroke-width="0.75"/>
<rect x="626.44" y="147.97" width="9.6" height="1.09" fill="#16936f" stroke="#333" stroke-width="0.75"/>
<line x1="626.44" y1="148.63" x2="636.04" y2="148.63" stroke="#222" stroke-width="1"/>
<line x1="641.84" y1="141.75" x2="641.84" y2="145.35" stroke="#4a4a4a" stroke-width="0.75"/>
<rect x="637.04" y="145.35" width="9.6" height="4.15" fill="#30538a" stroke="#333" stroke-width="0.75"/>
<line x1="637.04" y1="148.41" x2="646.64" y2="148.41" stroke="#222" stroke-width="1"/>
<circle cx="641.84" cy="137.71" r="1.6" fill="#000"/>
<rect x="652.76" y="149.28" width="9.6" height="0.9" fill="#16936f" stroke="#333" stroke-width="0.75"/>
<line x1="652.76" y1="149.39" x2="662.36" y2="149.39" stroke="#222" stroke-width="1"/>
<rect x="663.36" y="149.28" width="9.6" height="0.9" fill="#30538a" stroke="#333" stroke-width="0.75"/>
<line x1="663.36" y1="149.39" x2="672.96" y2="149.39" stroke="#222" stroke-width="1"/>
<circle cx="668.16" cy="140.55" r="1.6" fill="#000"/>
<circle cx="668.16" cy="149.5" r="1.6" fill="#000"/>
<text x="305.3" y="91.7" font-size="7.05" fill="#111">p = 0.00526</text>
<text x="354.9" y="76.9" font-size="7.05" fill="#111">p = 0.00078</text>
<text x="381.1" y="60.7" font-size="7.05" fill="#111">p = 0.00381</text>
<text x="459.7" y="128.7" font-size="7.05" fill="#111">p = 0.03949</text>
<text x="486" y="110.3" font-size="7.05" fill="#111">p = 0.00403</text>
<text x="539.2" y="40.4" font-size="7.05" fill="#111">p = 0.03764</text>
<line x1="630.9" y1="44.6" x2="630.9" y2="54.6" stroke="#555" stroke-width="0.7"/>
<rect x="625.9" y="45.9" width="10" height="7.4" fill="#16936f" stroke="#333" stroke-width="0.75"/>
<line x1="625.9" y1="49.6" x2="635.9" y2="49.6" stroke="#222" stroke-width="0.9"/>
<text x="637.8" y="52" font-size="6.7" fill="#111">Primary</text>
<line x1="630.9" y1="60.6" x2="630.9" y2="70.6" stroke="#555" stroke-width="0.7"/>
<rect x="625.9" y="61.9" width="10" height="7.4" fill="#30538a" stroke="#333" stroke-width="0.75"/>
<line x1="625.9" y1="65.6" x2="635.9" y2="65.6" stroke="#222" stroke-width="0.9"/>
<text x="637.8" y="68" font-size="6.7" fill="#111">Brain</text>
<text x="2.2" y="216.5" font-size="17" font-weight="bold" fill="#1e1414">C</text>
<text x="21.1" y="300" font-size="10.47" text-anchor="middle" fill="#111" transform="rotate(-90 21.1 300)">Expression Level</text>
<text x="81.2" y="223" font-size="11" text-anchor="middle" font-style="italic" fill="#111">IGHD</text>
<line x1="46.6" y1="280.6" x2="55.2" y2="280.6" stroke="#c9c9c9" stroke-width="1"/>
<line x1="55.1" y1="280.6" x2="63.7" y2="280.6" stroke="#c9c9c9" stroke-width="1"/>
<line x1="63.6" y1="280.6" x2="72.2" y2="280.6" stroke="#c9c9c9" stroke-width="1"/>
<line x1="72.1" y1="280.6" x2="80.7" y2="280.6" stroke="#c9c9c9" stroke-width="1"/>
<line x1="80.6" y1="280.6" x2="89.2" y2="280.6" stroke="#c9c9c9" stroke-width="1"/>
<line x1="50.9" y1="280.6" x2="50.9" y2="233.51" stroke="#bdbdbd" stroke-width="1.35"/>
<line x1="59.4" y1="280.6" x2="59.4" y2="237.33" stroke="#3a3a3a" stroke-width="0.65"/>
<line x1="67.9" y1="280.6" x2="67.9" y2="230.02" stroke="#bdbdbd" stroke-width="1.35"/>
<line x1="76.4" y1="280.6" x2="76.4" y2="241.69" stroke="#3a3a3a" stroke-width="0.65"/>
<line x1="84.9" y1="280.6" x2="84.9" y2="239.83" stroke="#bdbdbd" stroke-width="1.35"/>
<path d="M89.4 280.6 L89.5 280.15 L89.74 279.69 L90.05 279.24 L90.36 278.78 L90.6 278.33 L90.7 277.88 L90.87 277.15 L91.31 276.42 L91.88 275.7 L92.44 274.97 L92.88 274.24 L93.05 273.52 L93.06 273.15 L93.09 272.79 L93.12 272.43 L93.16 272.06 L93.19 271.7 L93.2 271.34 L93.2 270.52 L93.19 269.7 L93.18 268.88 L93.16 268.06 L93.15 267.25 L93.15 266.43 L93.09 265.52 L92.96 264.61 L92.78 263.71 L92.59 262.8 L92.46 261.89 L92.4 260.98 L92.36 260.25 L92.24 259.53 L92.1 258.8 L91.96 258.07 L91.84 257.35 L91.8 256.62 L91.77 255.71 L91.68 254.8 L91.58 253.9 L91.47 252.99 L91.38 252.08 L91.35 251.17 L91.38 250.26 L91.47 249.35 L91.58 248.45 L91.68 247.54 L91.77 246.63 L91.8 245.72 L91.86 244.99 L92.01 244.27 L92.2 243.54 L92.39 242.81 L92.54 242.09 L92.6 241.36 L92.63 240.82 L92.72 240.27 L92.83 239.73 L92.93 239.18 L93.02 238.64 L93.05 238.09 L93.07 237.4 L93.13 236.71 L93.2 236.02 L93.27 235.33 L93.33 234.64 L93.35 233.95 L93.45 233.95 L93.47 234.64 L93.53 235.33 L93.6 236.02 L93.67 236.71 L93.73 237.4 L93.75 238.09 L93.78 238.64 L93.87 239.18 L93.98 239.73 L94.08 240.27 L94.17 240.82 L94.2 241.36 L94.26 242.09 L94.41 242.81 L94.6 243.54 L94.79 244.27 L94.94 244.99 L95 245.72 L95.03 246.63 L95.12 247.54 L95.23 248.45 L95.33 249.35 L95.42 250.26 L95.45 251.17 L95.42 252.08 L95.33 252.99 L95.23 253.9 L95.12 254.8 L95.03 255.71 L95 256.62 L94.96 257.35 L94.84 258.07 L94.7 258.8 L94.56 259.53 L94.44 260.25 L94.4 260.98 L94.34 261.89 L94.21 262.8 L94.03 263.71 L93.84 264.61 L93.71 265.52 L93.65 266.43 L93.65 267.25 L93.64 268.06 L93.62 268.88 L93.61 269.7 L93.6 270.52 L93.6 271.34 L93.61 271.7 L93.64 272.06 L93.68 272.43 L93.71 272.79 L93.74 273.15 L93.75 273.52 L93.92 274.24 L94.36 274.97 L94.93 275.7 L95.49 276.42 L95.93 277.15 L96.1 277.88 L96.2 278.33 L96.44 278.78 L96.75 279.24 L97.06 279.69 L97.3 280.15 L97.4 280.6Z" fill="#E6AB02" stroke="#262626" stroke-width="0.55" stroke-linejoin="round"/>
<path d="M97.9 280.6 L98.01 280.06 L98.29 279.51 L98.65 278.97 L99.01 278.42 L99.29 277.88 L99.4 277.33 L99.56 276.24 L99.96 275.15 L100.48 274.06 L100.99 272.97 L101.39 271.88 L101.55 270.79 L101.56 270.43 L101.59 270.06 L101.62 269.7 L101.66 269.34 L101.69 268.97 L101.7 268.61 L101.69 267.88 L101.67 267.16 L101.65 266.43 L101.63 265.7 L101.61 264.98 L101.6 264.25 L101.56 263.34 L101.44 262.43 L101.3 261.53 L101.16 260.62 L101.04 259.71 L101 258.8 L100.96 257.89 L100.84 256.98 L100.7 256.08 L100.56 255.17 L100.44 254.26 L100.4 253.35 L100.39 252.7 L100.35 252.04 L100.3 251.39 L100.25 250.73 L100.21 250.08 L100.2 249.43 L100.24 248.63 L100.33 247.83 L100.45 247.03 L100.57 246.23 L100.66 245.43 L100.7 244.63 L100.75 244.09 L100.88 243.54 L101.05 243 L101.22 242.45 L101.35 241.91 L101.4 241.36 L101.43 240.67 L101.52 239.98 L101.62 239.29 L101.73 238.6 L101.82 237.91 L101.85 237.22 L101.95 237.22 L101.98 237.91 L102.07 238.6 L102.18 239.29 L102.28 239.98 L102.37 240.67 L102.4 241.36 L102.45 241.91 L102.58 242.45 L102.75 243 L102.92 243.54 L103.05 244.09 L103.1 244.63 L103.14 245.43 L103.23 246.23 L103.35 247.03 L103.47 247.83 L103.56 248.63 L103.6 249.43 L103.59 250.08 L103.55 250.73 L103.5 251.39 L103.45 252.04 L103.41 252.7 L103.4 253.35 L103.36 254.26 L103.24 255.17 L103.1 256.08 L102.96 256.98 L102.84 257.89 L102.8 258.8 L102.76 259.71 L102.64 260.62 L102.5 261.53 L102.36 262.43 L102.24 263.34 L102.2 264.25 L102.19 264.98 L102.17 265.7 L102.15 266.43 L102.13 267.16 L102.11 267.88 L102.1 268.61 L102.11 268.97 L102.14 269.34 L102.18 269.7 L102.21 270.06 L102.24 270.43 L102.25 270.79 L102.41 271.88 L102.81 272.97 L103.33 274.06 L103.84 275.15 L104.24 276.24 L104.4 277.33 L104.51 277.88 L104.79 278.42 L105.15 278.97 L105.51 279.51 L105.79 280.06 L105.9 280.6Z" fill="#A6761D" stroke="#262626" stroke-width="0.55" stroke-linejoin="round"/>
<path d="M106.7 280.6 L106.79 280.06 L107.01 279.51 L107.3 278.97 L107.59 278.42 L107.81 277.88 L107.9 277.33 L108 276.33 L108.24 275.33 L108.55 274.33 L108.86 273.33 L109.1 272.33 L109.2 271.34 L109.21 270.52 L109.24 269.7 L109.28 268.88 L109.31 268.06 L109.34 267.25 L109.35 266.43 L109.35 265.16 L109.34 263.89 L109.33 262.62 L109.31 261.34 L109.3 260.07 L109.3 258.8 L109.31 258.07 L109.33 257.35 L109.35 256.62 L109.37 255.89 L109.39 255.17 L109.4 254.44 L109.45 254.13 L109.58 253.82 L109.75 253.51 L109.92 253.2 L110.05 252.9 L110.1 252.59 L110.7 252.59 L110.75 252.9 L110.88 253.2 L111.05 253.51 L111.22 253.82 L111.35 254.13 L111.4 254.44 L111.41 255.17 L111.43 255.89 L111.45 256.62 L111.47 257.35 L111.49 258.07 L111.5 258.8 L111.5 260.07 L111.49 261.34 L111.48 262.62 L111.46 263.89 L111.45 265.16 L111.45 266.43 L111.46 267.25 L111.49 268.06 L111.53 268.88 L111.56 269.7 L111.59 270.52 L111.6 271.34 L111.7 272.33 L111.94 273.33 L112.25 274.33 L112.56 275.33 L112.8 276.33 L112.9 277.33 L112.99 277.88 L113.21 278.42 L113.5 278.97 L113.79 279.51 L114.01 280.06 L114.1 280.6Z" fill="#666666" stroke="#262626" stroke-width="0.55" stroke-linejoin="round"/>
<line x1="45.6" y1="228" x2="45.6" y2="283.35" stroke="#3a3a3a" stroke-width="1.1"/>
<line x1="45.05" y1="282.8" x2="115.9" y2="282.8" stroke="#3a3a3a" stroke-width="1.1"/>
<line x1="42.8" y1="280.6" x2="45.6" y2="280.6" stroke="#333" stroke-width="0.8"/>
<text x="41.6" y="283.6" font-size="8.4" text-anchor="end" fill="#222">0</text>
<line x1="42.8" y1="269.7" x2="45.6" y2="269.7" stroke="#333" stroke-width="0.8"/>
<text x="41.6" y="272.7" font-size="8.4" text-anchor="end" fill="#222">1</text>
<line x1="42.8" y1="258.8" x2="45.6" y2="258.8" stroke="#333" stroke-width="0.8"/>
<text x="41.6" y="261.8" font-size="8.4" text-anchor="end" fill="#222">2</text>
<line x1="42.8" y1="247.9" x2="45.6" y2="247.9" stroke="#333" stroke-width="0.8"/>
<text x="41.6" y="250.9" font-size="8.4" text-anchor="end" fill="#222">3</text>
<line x1="42.8" y1="237" x2="45.6" y2="237" stroke="#333" stroke-width="0.8"/>
<text x="41.6" y="240" font-size="8.4" text-anchor="end" fill="#222">4</text>
<line x1="50.9" y1="282.8" x2="50.9" y2="285.4" stroke="#222" stroke-width="0.75"/>
<line x1="59.4" y1="282.8" x2="59.4" y2="285.4" stroke="#222" stroke-width="0.75"/>
<line x1="67.9" y1="282.8" x2="67.9" y2="285.4" stroke="#222" stroke-width="0.75"/>
<line x1="76.4" y1="282.8" x2="76.4" y2="285.4" stroke="#222" stroke-width="0.75"/>
<line x1="84.9" y1="282.8" x2="84.9" y2="285.4" stroke="#222" stroke-width="0.75"/>
<line x1="93.4" y1="282.8" x2="93.4" y2="285.4" stroke="#222" stroke-width="0.75"/>
<line x1="101.9" y1="282.8" x2="101.9" y2="285.4" stroke="#222" stroke-width="0.75"/>
<line x1="110.4" y1="282.8" x2="110.4" y2="285.4" stroke="#222" stroke-width="0.75"/>
<text x="178.3" y="223" font-size="11" text-anchor="middle" font-style="italic" fill="#111">FCER2</text>
<line x1="144" y1="280.9" x2="152.6" y2="280.9" stroke="#c9c9c9" stroke-width="1"/>
<line x1="152.46" y1="280.9" x2="161.06" y2="280.9" stroke="#c9c9c9" stroke-width="1"/>
<line x1="160.92" y1="280.9" x2="169.52" y2="280.9" stroke="#c9c9c9" stroke-width="1"/>
<line x1="169.38" y1="280.9" x2="177.98" y2="280.9" stroke="#c9c9c9" stroke-width="1"/>
<line x1="177.84" y1="280.9" x2="186.44" y2="280.9" stroke="#c9c9c9" stroke-width="1"/>
<line x1="194.76" y1="280.9" x2="203.36" y2="280.9" stroke="#c9c9c9" stroke-width="1"/>
<line x1="148.3" y1="280.9" x2="148.3" y2="236.7" stroke="#6a6a6a" stroke-width="0.85"/>
<line x1="156.76" y1="280.9" x2="156.76" y2="241.42" stroke="#6a6a6a" stroke-width="0.85"/>
<line x1="165.22" y1="280.9" x2="165.22" y2="235.86" stroke="#6a6a6a" stroke-width="0.85"/>
<line x1="173.68" y1="280.9" x2="173.68" y2="234.89" stroke="#6a6a6a" stroke-width="0.85"/>
<line x1="182.14" y1="280.9" x2="182.14" y2="245.73" stroke="#6a6a6a" stroke-width="0.85"/>
<path d="M186.8 280.9 L186.88 280.44 L187.09 279.97 L187.35 279.51 L187.61 279.05 L187.82 278.58 L187.9 278.12 L188.06 277.42 L188.44 276.73 L188.95 276.03 L189.46 275.34 L189.84 274.64 L190 273.95 L190.03 273.49 L190.1 273.02 L190.2 272.56 L190.3 272.1 L190.37 271.63 L190.4 271.17 L190.4 269.78 L190.39 268.39 L190.38 267 L190.36 265.61 L190.35 264.22 L190.35 262.83 L190.32 261.67 L190.26 260.51 L190.18 259.35 L190.09 258.2 L190.03 257.04 L190 255.88 L189.98 254.77 L189.94 253.66 L189.88 252.54 L189.81 251.43 L189.77 250.32 L189.75 249.21 L189.78 248 L189.84 246.8 L189.93 245.59 L190.01 244.39 L190.07 243.18 L190.1 241.98 L190.12 241.05 L190.18 240.13 L190.25 239.2 L190.32 238.27 L190.38 237.35 L190.4 236.42 L190.41 235.35 L190.44 234.29 L190.48 233.22 L190.51 232.16 L190.54 231.09 L190.55 230.03 L190.65 230.03 L190.66 231.09 L190.69 232.16 L190.73 233.22 L190.76 234.29 L190.79 235.35 L190.8 236.42 L190.82 237.35 L190.88 238.27 L190.95 239.2 L191.02 240.13 L191.08 241.05 L191.1 241.98 L191.13 243.18 L191.19 244.39 L191.28 245.59 L191.36 246.8 L191.42 248 L191.45 249.21 L191.43 250.32 L191.39 251.43 L191.33 252.54 L191.26 253.66 L191.22 254.77 L191.2 255.88 L191.17 257.04 L191.11 258.2 L191.03 259.35 L190.94 260.51 L190.88 261.67 L190.85 262.83 L190.85 264.22 L190.84 265.61 L190.83 267 L190.81 268.39 L190.8 269.78 L190.8 271.17 L190.83 271.63 L190.9 272.1 L191 272.56 L191.1 273.02 L191.17 273.49 L191.2 273.95 L191.36 274.64 L191.74 275.34 L192.25 276.03 L192.76 276.73 L193.14 277.42 L193.3 278.12 L193.38 278.58 L193.59 279.05 L193.85 279.51 L194.11 279.97 L194.32 280.44 L194.4 280.9Z" fill="#E6AB02" stroke="#262626" stroke-width="0.55" stroke-linejoin="round"/>
<line x1="199.06" y1="280.9" x2="199.06" y2="238.5" stroke="#6a6a6a" stroke-width="0.85"/>
<path d="M203.42 280.9 L203.5 280.2 L203.71 279.51 L203.97 278.81 L204.23 278.12 L204.44 277.42 L204.52 276.73 L204.63 275.57 L204.91 274.41 L205.27 273.25 L205.63 272.1 L205.91 270.94 L206.02 269.78 L206.05 268.85 L206.12 267.93 L206.22 267 L206.32 266.07 L206.39 265.15 L206.42 264.22 L206.41 263.06 L206.39 261.9 L206.37 260.75 L206.35 259.59 L206.33 258.43 L206.32 257.27 L206.31 256.11 L206.29 254.95 L206.27 253.79 L206.25 252.64 L206.23 251.48 L206.22 250.32 L206.24 249.62 L206.3 248.93 L206.37 248.23 L206.44 247.54 L206.5 246.84 L206.52 246.15 L206.58 245.69 L206.73 245.22 L206.92 244.76 L207.11 244.3 L207.26 243.83 L207.32 243.37 L207.72 243.37 L207.78 243.83 L207.93 244.3 L208.12 244.76 L208.31 245.22 L208.46 245.69 L208.52 246.15 L208.54 246.84 L208.6 247.54 L208.67 248.23 L208.74 248.93 L208.8 249.62 L208.82 250.32 L208.81 251.48 L208.79 252.64 L208.77 253.79 L208.75 254.95 L208.73 256.11 L208.72 257.27 L208.71 258.43 L208.69 259.59 L208.67 260.75 L208.65 261.9 L208.63 263.06 L208.62 264.22 L208.65 265.15 L208.72 266.07 L208.82 267 L208.92 267.93 L208.99 268.85 L209.02 269.78 L209.13 270.94 L209.41 272.1 L209.77 273.25 L210.13 274.41 L210.41 275.57 L210.52 276.73 L210.6 277.42 L210.81 278.12 L211.07 278.81 L211.33 279.51 L211.54 280.2 L211.62 280.9Z" fill="#666666" stroke="#262626" stroke-width="0.55" stroke-linejoin="round"/>
<line x1="143.4" y1="228" x2="143.4" y2="283.85" stroke="#3a3a3a" stroke-width="1.1"/>
<line x1="142.85" y1="283.3" x2="213" y2="283.3" stroke="#3a3a3a" stroke-width="1.1"/>
<line x1="140.6" y1="280.9" x2="143.4" y2="280.9" stroke="#333" stroke-width="0.8"/>
<text x="139.4" y="283.9" font-size="8.4" text-anchor="end" fill="#222">0</text>
<line x1="140.6" y1="267" x2="143.4" y2="267" stroke="#333" stroke-width="0.8"/>
<text x="139.4" y="270" font-size="8.4" text-anchor="end" fill="#222">1</text>
<line x1="140.6" y1="253.1" x2="143.4" y2="253.1" stroke="#333" stroke-width="0.8"/>
<text x="139.4" y="256.1" font-size="8.4" text-anchor="end" fill="#222">2</text>
<line x1="140.6" y1="239.2" x2="143.4" y2="239.2" stroke="#333" stroke-width="0.8"/>
<text x="139.4" y="242.2" font-size="8.4" text-anchor="end" fill="#222">3</text>
<line x1="148.3" y1="283.3" x2="148.3" y2="285.9" stroke="#222" stroke-width="0.75"/>
<line x1="156.76" y1="283.3" x2="156.76" y2="285.9" stroke="#222" stroke-width="0.75"/>
<line x1="165.22" y1="283.3" x2="165.22" y2="285.9" stroke="#222" stroke-width="0.75"/>
<line x1="173.68" y1="283.3" x2="173.68" y2="285.9" stroke="#222" stroke-width="0.75"/>
<line x1="182.14" y1="283.3" x2="182.14" y2="285.9" stroke="#222" stroke-width="0.75"/>
<line x1="190.6" y1="283.3" x2="190.6" y2="285.9" stroke="#222" stroke-width="0.75"/>
<line x1="199.06" y1="283.3" x2="199.06" y2="285.9" stroke="#222" stroke-width="0.75"/>
<line x1="207.52" y1="283.3" x2="207.52" y2="285.9" stroke="#222" stroke-width="0.75"/>
<text x="268.1" y="223" font-size="11" text-anchor="middle" font-style="italic" fill="#111">IL4R</text>
<line x1="234.1" y1="280.5" x2="242.7" y2="280.5" stroke="#c9c9c9" stroke-width="1"/>
<line x1="242.54" y1="280.5" x2="251.14" y2="280.5" stroke="#c9c9c9" stroke-width="1"/>
<line x1="250.98" y1="280.5" x2="259.58" y2="280.5" stroke="#c9c9c9" stroke-width="1"/>
<line x1="259.42" y1="280.5" x2="268.02" y2="280.5" stroke="#c9c9c9" stroke-width="1"/>
<line x1="267.86" y1="280.5" x2="276.46" y2="280.5" stroke="#c9c9c9" stroke-width="1"/>
<line x1="284.74" y1="280.5" x2="293.34" y2="280.5" stroke="#c9c9c9" stroke-width="1"/>
<line x1="238.4" y1="280.5" x2="238.4" y2="250.94" stroke="#6a6a6a" stroke-width="0.85"/>
<line x1="246.84" y1="280.5" x2="246.84" y2="255.1" stroke="#6a6a6a" stroke-width="0.85"/>
<line x1="255.28" y1="280.5" x2="255.28" y2="258.6" stroke="#6a6a6a" stroke-width="0.85"/>
<line x1="263.72" y1="280.5" x2="263.72" y2="238.67" stroke="#6a6a6a" stroke-width="0.85"/>
<line x1="272.16" y1="280.5" x2="272.16" y2="258.27" stroke="#6a6a6a" stroke-width="0.85"/>
<path d="M276.7 280.5 L276.78 280.13 L276.99 279.77 L277.25 279.4 L277.51 279.04 L277.72 278.68 L277.8 278.31 L277.96 277.76 L278.34 277.21 L278.85 276.67 L279.36 276.12 L279.74 275.57 L279.9 275.02 L279.94 274.48 L280.03 273.93 L280.15 273.38 L280.27 272.83 L280.36 272.29 L280.4 271.74 L280.39 270.64 L280.37 269.55 L280.35 268.45 L280.33 267.36 L280.31 266.26 L280.3 265.17 L280.28 264.22 L280.22 263.27 L280.15 262.32 L280.08 261.37 L280.02 260.43 L280 259.48 L280.02 258.6 L280.08 257.72 L280.15 256.85 L280.22 255.97 L280.28 255.1 L280.3 254.22 L280.31 253.12 L280.33 252.03 L280.35 250.94 L280.37 249.84 L280.39 248.75 L280.4 247.65 L280.41 244.77 L280.44 241.88 L280.48 239 L280.51 236.12 L280.54 233.23 L280.55 230.35 L280.65 230.35 L280.66 233.23 L280.69 236.12 L280.73 239 L280.76 241.88 L280.79 244.77 L280.8 247.65 L280.81 248.75 L280.83 249.84 L280.85 250.94 L280.87 252.03 L280.89 253.12 L280.9 254.22 L280.92 255.1 L280.98 255.97 L281.05 256.85 L281.12 257.72 L281.18 258.6 L281.2 259.48 L281.18 260.43 L281.12 261.37 L281.05 262.32 L280.98 263.27 L280.92 264.22 L280.9 265.17 L280.89 266.26 L280.87 267.36 L280.85 268.45 L280.83 269.55 L280.81 270.64 L280.8 271.74 L280.84 272.29 L280.93 272.83 L281.05 273.38 L281.17 273.93 L281.26 274.48 L281.3 275.02 L281.46 275.57 L281.84 276.12 L282.35 276.67 L282.86 277.21 L283.24 277.76 L283.4 278.31 L283.48 278.68 L283.69 279.04 L283.95 279.4 L284.21 279.77 L284.42 280.13 L284.5 280.5Z" fill="#E6AB02" stroke="#262626" stroke-width="0.55" stroke-linejoin="round"/>
<line x1="289.04" y1="280.5" x2="289.04" y2="249.29" stroke="#6a6a6a" stroke-width="0.85"/>
<path d="M294.28 280.5 L294.34 280.23 L294.49 279.95 L294.68 279.68 L294.87 279.4 L295.02 279.13 L295.08 278.86 L295.13 278.46 L295.25 278.05 L295.41 277.65 L295.56 277.25 L295.68 276.85 L295.73 276.45 L295.71 276.03 L295.67 275.61 L295.61 275.19 L295.54 274.77 L295.5 274.35 L295.48 273.93 L295.37 272.98 L295.09 272.03 L294.73 271.08 L294.37 270.13 L294.09 269.19 L293.98 268.24 L293.94 267.36 L293.82 266.48 L293.68 265.61 L293.54 264.73 L293.42 263.86 L293.38 262.98 L293.45 262.07 L293.61 261.15 L293.83 260.24 L294.05 259.33 L294.21 258.42 L294.28 257.5 L294.41 256.59 L294.72 255.68 L295.13 254.77 L295.54 253.85 L295.85 252.94 L295.98 252.03 L296.05 251.21 L296.24 250.39 L296.48 249.57 L296.72 248.75 L296.91 247.92 L296.98 247.1 L297.01 246.74 L297.07 246.37 L297.16 246.01 L297.24 245.64 L297.3 245.28 L297.33 244.91 L297.63 244.91 L297.66 245.28 L297.72 245.64 L297.81 246.01 L297.89 246.37 L297.95 246.74 L297.98 247.1 L298.05 247.92 L298.24 248.75 L298.48 249.57 L298.72 250.39 L298.91 251.21 L298.98 252.03 L299.11 252.94 L299.42 253.85 L299.83 254.77 L300.24 255.68 L300.55 256.59 L300.68 257.5 L300.75 258.42 L300.91 259.33 L301.13 260.24 L301.35 261.15 L301.51 262.07 L301.58 262.98 L301.54 263.86 L301.42 264.73 L301.28 265.61 L301.14 266.48 L301.02 267.36 L300.98 268.24 L300.87 269.19 L300.59 270.13 L300.23 271.08 L299.87 272.03 L299.59 272.98 L299.48 273.93 L299.46 274.35 L299.42 274.77 L299.36 275.19 L299.29 275.61 L299.25 276.03 L299.23 276.45 L299.28 276.85 L299.4 277.25 L299.56 277.65 L299.71 278.05 L299.83 278.46 L299.88 278.86 L299.94 279.13 L300.09 279.4 L300.28 279.68 L300.47 279.95 L300.62 280.23 L300.68 280.5Z" fill="#666666" stroke="#262626" stroke-width="0.55" stroke-linejoin="round"/>
<line x1="233.4" y1="228" x2="233.4" y2="283.55" stroke="#3a3a3a" stroke-width="1.1"/>
<line x1="232.85" y1="283" x2="302.9" y2="283" stroke="#3a3a3a" stroke-width="1.1"/>
<line x1="230.6" y1="280.5" x2="233.4" y2="280.5" stroke="#333" stroke-width="0.8"/>
<text x="229.4" y="283.5" font-size="8.4" text-anchor="end" fill="#222">0</text>
<line x1="230.6" y1="269.55" x2="233.4" y2="269.55" stroke="#333" stroke-width="0.8"/>
<text x="229.4" y="272.55" font-size="8.4" text-anchor="end" fill="#222">1</text>
<line x1="230.6" y1="258.6" x2="233.4" y2="258.6" stroke="#333" stroke-width="0.8"/>
<text x="229.4" y="261.6" font-size="8.4" text-anchor="end" fill="#222">2</text>
<line x1="230.6" y1="247.65" x2="233.4" y2="247.65" stroke="#333" stroke-width="0.8"/>
<text x="229.4" y="250.65" font-size="8.4" text-anchor="end" fill="#222">3</text>
<line x1="230.6" y1="236.7" x2="233.4" y2="236.7" stroke="#333" stroke-width="0.8"/>
<text x="229.4" y="239.7" font-size="8.4" text-anchor="end" fill="#222">4</text>
<line x1="238.4" y1="283" x2="238.4" y2="285.6" stroke="#222" stroke-width="0.75"/>
<line x1="246.84" y1="283" x2="246.84" y2="285.6" stroke="#222" stroke-width="0.75"/>
<line x1="255.28" y1="283" x2="255.28" y2="285.6" stroke="#222" stroke-width="0.75"/>
<line x1="263.72" y1="283" x2="263.72" y2="285.6" stroke="#222" stroke-width="0.75"/>
<line x1="272.16" y1="283" x2="272.16" y2="285.6" stroke="#222" stroke-width="0.75"/>
<line x1="280.6" y1="283" x2="280.6" y2="285.6" stroke="#222" stroke-width="0.75"/>
<line x1="289.04" y1="283" x2="289.04" y2="285.6" stroke="#222" stroke-width="0.75"/>
<line x1="297.48" y1="283" x2="297.48" y2="285.6" stroke="#222" stroke-width="0.75"/>
<text x="359.4" y="223" font-size="11" text-anchor="middle" font-style="italic" fill="#111">CD72</text>
<line x1="325" y1="280.8" x2="333.6" y2="280.8" stroke="#c9c9c9" stroke-width="1"/>
<line x1="333.48" y1="280.8" x2="342.08" y2="280.8" stroke="#c9c9c9" stroke-width="1"/>
<line x1="341.96" y1="280.8" x2="350.56" y2="280.8" stroke="#c9c9c9" stroke-width="1"/>
<line x1="350.44" y1="280.8" x2="359.04" y2="280.8" stroke="#c9c9c9" stroke-width="1"/>
<line x1="358.92" y1="280.8" x2="367.52" y2="280.8" stroke="#c9c9c9" stroke-width="1"/>
<line x1="375.88" y1="280.8" x2="384.48" y2="280.8" stroke="#c9c9c9" stroke-width="1"/>
<line x1="329.3" y1="280.8" x2="329.3" y2="240.5" stroke="#6a6a6a" stroke-width="0.85"/>
<line x1="337.78" y1="280.8" x2="337.78" y2="240.92" stroke="#6a6a6a" stroke-width="0.85"/>
<line x1="346.26" y1="280.8" x2="346.26" y2="240.92" stroke="#6a6a6a" stroke-width="0.85"/>
<line x1="354.74" y1="280.8" x2="354.74" y2="239.95" stroke="#6a6a6a" stroke-width="0.85"/>
<line x1="363.22" y1="280.8" x2="363.22" y2="249.75" stroke="#6a6a6a" stroke-width="0.85"/>
<path d="M367.6 280.8 L367.68 280.45 L367.89 280.11 L368.15 279.76 L368.41 279.42 L368.62 279.07 L368.7 278.73 L368.88 278.04 L369.32 277.35 L369.9 276.66 L370.48 275.97 L370.92 275.28 L371.1 274.59 L371.13 273.9 L371.2 273.21 L371.3 272.52 L371.4 271.83 L371.47 271.14 L371.5 270.45 L371.5 268.73 L371.49 267 L371.48 265.28 L371.46 263.55 L371.45 261.82 L371.45 260.1 L371.44 258.95 L371.4 257.8 L371.35 256.65 L371.3 255.5 L371.26 254.35 L371.25 253.2 L371.26 252.05 L371.3 250.9 L371.35 249.75 L371.4 248.6 L371.44 247.45 L371.45 246.3 L371.46 245.15 L371.48 244 L371.5 242.85 L371.52 241.7 L371.54 240.55 L371.55 239.4 L371.56 237.91 L371.58 236.41 L371.6 234.92 L371.62 233.42 L371.64 231.93 L371.65 230.43 L371.75 230.43 L371.76 231.93 L371.78 233.42 L371.8 234.92 L371.82 236.41 L371.84 237.91 L371.85 239.4 L371.86 240.55 L371.88 241.7 L371.9 242.85 L371.92 244 L371.94 245.15 L371.95 246.3 L371.96 247.45 L372 248.6 L372.05 249.75 L372.1 250.9 L372.14 252.05 L372.15 253.2 L372.14 254.35 L372.1 255.5 L372.05 256.65 L372 257.8 L371.96 258.95 L371.95 260.1 L371.95 261.82 L371.94 263.55 L371.93 265.28 L371.91 267 L371.9 268.73 L371.9 270.45 L371.93 271.14 L372 271.83 L372.1 272.52 L372.2 273.21 L372.27 273.9 L372.3 274.59 L372.48 275.28 L372.92 275.97 L373.5 276.66 L374.08 277.35 L374.52 278.04 L374.7 278.73 L374.78 279.07 L374.99 279.42 L375.25 279.76 L375.51 280.11 L375.72 280.45 L375.8 280.8Z" fill="#E6AB02" stroke="#262626" stroke-width="0.55" stroke-linejoin="round"/>
<line x1="380.18" y1="280.8" x2="380.18" y2="241.75" stroke="#6a6a6a" stroke-width="0.85"/>
<path d="M384.86 280.8 L384.9 280.27 L385.02 279.74 L385.16 279.21 L385.3 278.68 L385.42 278.16 L385.46 277.63 L385.52 276.78 L385.67 275.92 L385.86 275.07 L386.05 274.22 L386.2 273.37 L386.26 272.52 L386.29 271.6 L386.36 270.68 L386.46 269.76 L386.56 268.84 L386.63 267.92 L386.66 267 L386.63 265.85 L386.56 264.7 L386.46 263.55 L386.36 262.4 L386.29 261.25 L386.26 260.1 L386.22 258.72 L386.1 257.34 L385.96 255.96 L385.82 254.58 L385.7 253.2 L385.66 251.82 L385.67 250.92 L385.69 250.03 L385.71 249.13 L385.73 248.23 L385.75 247.34 L385.76 246.44 L385.84 246.25 L386.05 246.07 L386.31 245.89 L386.57 245.7 L386.78 245.52 L386.86 245.33 L390.46 245.33 L390.54 245.52 L390.75 245.7 L391.01 245.89 L391.27 246.07 L391.48 246.25 L391.56 246.44 L391.57 247.34 L391.59 248.23 L391.61 249.13 L391.63 250.03 L391.65 250.92 L391.66 251.82 L391.62 253.2 L391.5 254.58 L391.36 255.96 L391.22 257.34 L391.1 258.72 L391.06 260.1 L391.03 261.25 L390.96 262.4 L390.86 263.55 L390.76 264.7 L390.69 265.85 L390.66 267 L390.69 267.92 L390.76 268.84 L390.86 269.76 L390.96 270.68 L391.03 271.6 L391.06 272.52 L391.12 273.37 L391.27 274.22 L391.46 275.07 L391.65 275.92 L391.8 276.78 L391.86 277.63 L391.9 278.16 L392.02 278.68 L392.16 279.21 L392.3 279.74 L392.42 280.27 L392.46 280.8Z" fill="#666666" stroke="#262626" stroke-width="0.55" stroke-linejoin="round"/>
<line x1="324.4" y1="228" x2="324.4" y2="283.55" stroke="#3a3a3a" stroke-width="1.1"/>
<line x1="323.85" y1="283" x2="393.6" y2="283" stroke="#3a3a3a" stroke-width="1.1"/>
<line x1="321.6" y1="280.8" x2="324.4" y2="280.8" stroke="#333" stroke-width="0.8"/>
<text x="320.4" y="283.8" font-size="8.4" text-anchor="end" fill="#222">0</text>
<line x1="321.6" y1="267" x2="324.4" y2="267" stroke="#333" stroke-width="0.8"/>
<text x="320.4" y="270" font-size="8.4" text-anchor="end" fill="#222">1</text>
<line x1="321.6" y1="253.2" x2="324.4" y2="253.2" stroke="#333" stroke-width="0.8"/>
<text x="320.4" y="256.2" font-size="8.4" text-anchor="end" fill="#222">2</text>
<line x1="321.6" y1="239.4" x2="324.4" y2="239.4" stroke="#333" stroke-width="0.8"/>
<text x="320.4" y="242.4" font-size="8.4" text-anchor="end" fill="#222">3</text>
<line x1="329.3" y1="283" x2="329.3" y2="285.6" stroke="#222" stroke-width="0.75"/>
<line x1="337.78" y1="283" x2="337.78" y2="285.6" stroke="#222" stroke-width="0.75"/>
<line x1="346.26" y1="283" x2="346.26" y2="285.6" stroke="#222" stroke-width="0.75"/>
<line x1="354.74" y1="283" x2="354.74" y2="285.6" stroke="#222" stroke-width="0.75"/>
<line x1="363.22" y1="283" x2="363.22" y2="285.6" stroke="#222" stroke-width="0.75"/>
<line x1="371.7" y1="283" x2="371.7" y2="285.6" stroke="#222" stroke-width="0.75"/>
<line x1="380.18" y1="283" x2="380.18" y2="285.6" stroke="#222" stroke-width="0.75"/>
<line x1="388.66" y1="283" x2="388.66" y2="285.6" stroke="#222" stroke-width="0.75"/>
<text x="80.3" y="302.4" font-size="11" text-anchor="middle" font-style="italic" fill="#111">MALAT1</text>
<line x1="51.4" y1="360" x2="51.4" y2="322.93" stroke="#4a4a4a" stroke-width="0.7"/>
<path d="M51 322.93 L50.9 322.56 L50.64 322.19 L50.3 321.82 L49.96 321.45 L49.7 321.08 L49.6 320.71 L49.47 320.26 L49.16 319.8 L48.75 319.35 L48.34 318.9 L48.03 318.45 L47.9 317.99 L48.02 317.5 L48.31 317.01 L48.7 316.52 L49.09 316.02 L49.38 315.53 L49.5 315.04 L49.63 314.44 L49.95 313.84 L50.38 313.23 L50.8 312.63 L51.12 312.03 L51.25 311.43 L51.55 311.43 L51.68 312.03 L52 312.63 L52.42 313.23 L52.85 313.84 L53.17 314.44 L53.3 315.04 L53.42 315.53 L53.71 316.02 L54.1 316.52 L54.49 317.01 L54.78 317.5 L54.9 317.99 L54.77 318.45 L54.46 318.9 L54.05 319.35 L53.64 319.8 L53.33 320.26 L53.2 320.71 L53.1 321.08 L52.84 321.45 L52.5 321.82 L52.16 322.19 L51.9 322.56 L51.8 322.93Z" fill="#1B9E77" stroke="#262626" stroke-width="0.55" stroke-linejoin="round"/>
<line x1="59.91" y1="341.52" x2="59.91" y2="323.98" stroke="#4a4a4a" stroke-width="0.7"/>
<path d="M59.51 323.98 L59.41 323.59 L59.15 323.2 L58.81 322.81 L58.47 322.43 L58.21 322.04 L58.11 321.65 L57.98 321.18 L57.67 320.7 L57.26 320.23 L56.85 319.76 L56.54 319.28 L56.41 318.81 L56.53 318.28 L56.82 317.75 L57.21 317.23 L57.6 316.7 L57.89 316.17 L58.01 315.64 L58.14 315 L58.46 314.35 L58.88 313.71 L59.31 313.07 L59.63 312.42 L59.76 311.78 L60.06 311.78 L60.19 312.42 L60.51 313.07 L60.93 313.71 L61.36 314.35 L61.68 315 L61.81 315.64 L61.93 316.17 L62.22 316.7 L62.61 317.23 L63 317.75 L63.29 318.28 L63.41 318.81 L63.28 319.28 L62.97 319.76 L62.56 320.23 L62.15 320.7 L61.84 321.18 L61.71 321.65 L61.61 322.04 L61.35 322.43 L61.01 322.81 L60.67 323.2 L60.41 323.59 L60.31 323.98Z" fill="#D95F02" stroke="#262626" stroke-width="0.55" stroke-linejoin="round"/>
<line x1="68.42" y1="360" x2="68.42" y2="326.42" stroke="#4a4a4a" stroke-width="0.7"/>
<path d="M68.02 326.42 L67.92 325.85 L67.66 325.28 L67.32 324.71 L66.98 324.13 L66.72 323.56 L66.62 322.99 L66.48 322.3 L66.13 321.6 L65.67 320.9 L65.21 320.2 L64.86 319.5 L64.72 318.81 L64.85 318.19 L65.19 317.58 L65.62 316.96 L66.05 316.35 L66.39 315.74 L66.52 315.12 L66.65 314.37 L66.97 313.62 L67.39 312.87 L67.82 312.12 L68.14 311.37 L68.27 310.62 L68.57 310.62 L68.7 311.37 L69.02 312.12 L69.45 312.87 L69.87 313.62 L70.19 314.37 L70.32 315.12 L70.45 315.74 L70.79 316.35 L71.22 316.96 L71.65 317.58 L71.99 318.19 L72.12 318.81 L71.98 319.5 L71.63 320.2 L71.17 320.9 L70.71 321.6 L70.36 322.3 L70.22 322.99 L70.12 323.56 L69.86 324.13 L69.52 324.71 L69.18 325.28 L68.92 325.85 L68.82 326.42Z" fill="#7570B3" stroke="#262626" stroke-width="0.55" stroke-linejoin="round"/>
<line x1="76.93" y1="344.49" x2="76.93" y2="326.3" stroke="#4a4a4a" stroke-width="0.7"/>
<path d="M76.53 326.3 L76.43 325.82 L76.17 325.34 L75.83 324.86 L75.49 324.38 L75.23 323.91 L75.13 323.43 L75 322.84 L74.69 322.25 L74.28 321.67 L73.87 321.08 L73.56 320.5 L73.43 319.91 L73.55 319.52 L73.84 319.13 L74.23 318.73 L74.62 318.34 L74.91 317.95 L75.03 317.56 L75.16 317.08 L75.48 316.6 L75.91 316.12 L76.33 315.64 L76.65 315.16 L76.78 314.68 L77.08 314.68 L77.21 315.16 L77.53 315.64 L77.96 316.12 L78.38 316.6 L78.7 317.08 L78.83 317.56 L78.95 317.95 L79.24 318.34 L79.63 318.73 L80.02 319.13 L80.31 319.52 L80.43 319.91 L80.3 320.5 L79.99 321.08 L79.58 321.67 L79.17 322.25 L78.86 322.84 L78.73 323.43 L78.63 323.91 L78.37 324.38 L78.03 324.86 L77.69 325.34 L77.43 325.82 L77.33 326.3Z" fill="#E7298A" stroke="#262626" stroke-width="0.55" stroke-linejoin="round"/>
<line x1="85.44" y1="342.69" x2="85.44" y2="329.32" stroke="#4a4a4a" stroke-width="0.7"/>
<path d="M85.04 329.32 L84.94 328.7 L84.68 328.09 L84.34 327.47 L84 326.85 L83.74 326.23 L83.64 325.61 L83.51 324.85 L83.2 324.1 L82.79 323.34 L82.38 322.59 L82.07 321.83 L81.94 321.07 L82.06 320.49 L82.35 319.91 L82.74 319.32 L83.13 318.74 L83.42 318.15 L83.54 317.57 L83.67 316.86 L83.99 316.14 L84.41 315.43 L84.84 314.71 L85.16 314 L85.29 313.29 L85.59 313.29 L85.72 314 L86.04 314.71 L86.47 315.43 L86.89 316.14 L87.21 316.86 L87.34 317.57 L87.46 318.15 L87.75 318.74 L88.14 319.32 L88.53 319.91 L88.82 320.49 L88.94 321.07 L88.81 321.83 L88.5 322.59 L88.09 323.34 L87.68 324.1 L87.37 324.85 L87.24 325.61 L87.14 326.23 L86.88 326.85 L86.54 327.47 L86.2 328.09 L85.94 328.7 L85.84 329.32Z" fill="#66A61E" stroke="#262626" stroke-width="0.55" stroke-linejoin="round"/>
<line x1="93.95" y1="360" x2="93.95" y2="323.98" stroke="#4a4a4a" stroke-width="0.7"/>
<path d="M93.55 323.98 L93.45 323.53 L93.19 323.08 L92.85 322.63 L92.51 322.18 L92.25 321.73 L92.15 321.29 L92.02 320.74 L91.71 320.19 L91.3 319.64 L90.89 319.09 L90.58 318.54 L90.45 317.99 L90.57 317.38 L90.86 316.76 L91.25 316.15 L91.64 315.54 L91.93 314.92 L92.05 314.31 L92.18 313.56 L92.5 312.81 L92.92 312.05 L93.35 311.3 L93.67 310.55 L93.8 309.8 L94.1 309.8 L94.23 310.55 L94.55 311.3 L94.97 312.05 L95.4 312.81 L95.72 313.56 L95.85 314.31 L95.97 314.92 L96.26 315.54 L96.65 316.15 L97.04 316.76 L97.33 317.38 L97.45 317.99 L97.32 318.54 L97.01 319.09 L96.6 319.64 L96.19 320.19 L95.88 320.74 L95.75 321.29 L95.65 321.73 L95.39 322.18 L95.05 322.63 L94.71 323.08 L94.45 323.53 L94.35 323.98Z" fill="#E6AB02" stroke="#262626" stroke-width="0.55" stroke-linejoin="round"/>
<line x1="102.46" y1="360" x2="102.46" y2="323.4" stroke="#4a4a4a" stroke-width="0.7"/>
<path d="M102.06 323.4 L101.96 323 L101.7 322.61 L101.36 322.22 L101.02 321.83 L100.76 321.44 L100.66 321.04 L100.53 320.56 L100.22 320.09 L99.81 319.61 L99.4 319.13 L99.09 318.65 L98.96 318.17 L99.08 317.8 L99.37 317.44 L99.76 317.07 L100.15 316.7 L100.44 316.34 L100.56 315.97 L100.69 315.52 L101.01 315.08 L101.44 314.63 L101.86 314.18 L102.18 313.73 L102.31 313.29 L102.61 313.29 L102.74 313.73 L103.06 314.18 L103.49 314.63 L103.91 315.08 L104.23 315.52 L104.36 315.97 L104.48 316.34 L104.77 316.7 L105.16 317.07 L105.55 317.44 L105.84 317.8 L105.96 318.17 L105.83 318.65 L105.52 319.13 L105.11 319.61 L104.7 320.09 L104.39 320.56 L104.26 321.04 L104.16 321.44 L103.9 321.83 L103.56 322.22 L103.22 322.61 L102.96 323 L102.86 323.4Z" fill="#A6761D" stroke="#262626" stroke-width="0.55" stroke-linejoin="round"/>
<path d="M110.77 335.13 L110.71 334.45 L110.56 333.76 L110.37 333.07 L110.18 332.38 L110.03 331.7 L109.97 331.01 L109.85 330.22 L109.56 329.44 L109.17 328.66 L108.78 327.87 L108.49 327.09 L108.37 326.3 L108.28 325.43 L108.05 324.56 L107.75 323.69 L107.44 322.82 L107.21 321.94 L107.12 321.07 L107.21 320.59 L107.44 320.1 L107.75 319.62 L108.05 319.14 L108.28 318.65 L108.37 318.17 L108.55 317.74 L108.99 317.32 L109.57 316.89 L110.15 316.46 L110.59 316.04 L110.77 315.61 L111.17 315.61 L111.35 316.04 L111.79 316.46 L112.37 316.89 L112.95 317.32 L113.39 317.74 L113.57 318.17 L113.66 318.65 L113.89 319.14 L114.19 319.62 L114.5 320.1 L114.73 320.59 L114.82 321.07 L114.73 321.94 L114.5 322.82 L114.19 323.69 L113.89 324.56 L113.66 325.43 L113.57 326.3 L113.45 327.09 L113.16 327.87 L112.77 328.66 L112.38 329.44 L112.09 330.22 L111.97 331.01 L111.91 331.7 L111.76 332.38 L111.57 333.07 L111.38 333.76 L111.23 334.45 L111.17 335.13Z" fill="#666666" stroke="#262626" stroke-width="0.55" stroke-linejoin="round"/>
<line x1="46.4" y1="307.1" x2="46.4" y2="363.15" stroke="#3a3a3a" stroke-width="1.1"/>
<line x1="45.85" y1="362.6" x2="116" y2="362.6" stroke="#3a3a3a" stroke-width="1.1"/>
<line x1="43.6" y1="360" x2="46.4" y2="360" stroke="#333" stroke-width="0.8"/>
<text x="42.4" y="363" font-size="8.4" text-anchor="end" fill="#222">0.0</text>
<line x1="43.6" y1="345.48" x2="46.4" y2="345.48" stroke="#333" stroke-width="0.8"/>
<text x="42.4" y="348.48" font-size="8.4" text-anchor="end" fill="#222">2.5</text>
<line x1="43.6" y1="330.95" x2="46.4" y2="330.95" stroke="#333" stroke-width="0.8"/>
<text x="42.4" y="333.95" font-size="8.4" text-anchor="end" fill="#222">5.0</text>
<line x1="43.6" y1="316.43" x2="46.4" y2="316.43" stroke="#333" stroke-width="0.8"/>
<text x="42.4" y="319.43" font-size="8.4" text-anchor="end" fill="#222">7.5</text>
<line x1="51.4" y1="362.6" x2="51.4" y2="365.2" stroke="#222" stroke-width="0.75"/>
<text x="53.2" y="368.6" font-size="6.5" text-anchor="end" fill="#222" transform="rotate(-45 53.2 368.6)">Bm_MS4A1</text>
<line x1="59.91" y1="362.6" x2="59.91" y2="365.2" stroke="#222" stroke-width="0.75"/>
<text x="61.71" y="368.6" font-size="6.5" text-anchor="end" fill="#222" transform="rotate(-45 61.71 368.6)">Bm_CD83</text>
<line x1="68.42" y1="362.6" x2="68.42" y2="365.2" stroke="#222" stroke-width="0.75"/>
<text x="70.22" y="368.6" font-size="6.5" text-anchor="end" fill="#222" transform="rotate(-45 70.22 368.6)">Bm_CD74</text>
<line x1="76.93" y1="362.6" x2="76.93" y2="365.2" stroke="#222" stroke-width="0.75"/>
<text x="78.73" y="368.6" font-size="6.5" text-anchor="end" fill="#222" transform="rotate(-45 78.73 368.6)">Bm_ALDOA</text>
<line x1="85.44" y1="362.6" x2="85.44" y2="365.2" stroke="#222" stroke-width="0.75"/>
<text x="87.24" y="368.6" font-size="6.5" text-anchor="end" fill="#222" transform="rotate(-45 87.24 368.6)">Bm_FCRL4</text>
<line x1="93.95" y1="362.6" x2="93.95" y2="365.2" stroke="#222" stroke-width="0.75"/>
<text x="95.75" y="368.6" font-size="6.5" text-anchor="end" fill="#222" transform="rotate(-45 95.75 368.6)">Bn_IGHD</text>
<line x1="102.46" y1="362.6" x2="102.46" y2="365.2" stroke="#222" stroke-width="0.75"/>
<text x="104.26" y="368.6" font-size="6.5" text-anchor="end" fill="#222" transform="rotate(-45 104.26 368.6)">Bn_SPP1</text>
<line x1="110.97" y1="362.6" x2="110.97" y2="365.2" stroke="#222" stroke-width="0.75"/>
<text x="112.77" y="368.6" font-size="6.5" text-anchor="end" fill="#222" transform="rotate(-45 112.77 368.6)">Bgc_LMO2</text>
<text x="180.3" y="302.2" font-size="11" text-anchor="middle" font-style="italic" fill="#111">YBX3</text>
<line x1="145.6" y1="360" x2="154.2" y2="360" stroke="#c9c9c9" stroke-width="1"/>
<line x1="154.1" y1="360" x2="162.7" y2="360" stroke="#c9c9c9" stroke-width="1"/>
<line x1="162.6" y1="360" x2="171.2" y2="360" stroke="#c9c9c9" stroke-width="1"/>
<line x1="171.1" y1="360" x2="179.7" y2="360" stroke="#c9c9c9" stroke-width="1"/>
<line x1="179.6" y1="360" x2="188.2" y2="360" stroke="#c9c9c9" stroke-width="1"/>
<line x1="196.6" y1="360" x2="205.2" y2="360" stroke="#c9c9c9" stroke-width="1"/>
<line x1="205.1" y1="360" x2="213.7" y2="360" stroke="#c9c9c9" stroke-width="1"/>
<line x1="149.9" y1="360" x2="149.9" y2="321.09" stroke="#bdbdbd" stroke-width="1.35"/>
<line x1="158.4" y1="360" x2="158.4" y2="321.96" stroke="#3a3a3a" stroke-width="0.65"/>
<line x1="166.9" y1="360" x2="166.9" y2="328.06" stroke="#bdbdbd" stroke-width="1.35"/>
<line x1="175.4" y1="360" x2="175.4" y2="320.76" stroke="#3a3a3a" stroke-width="0.65"/>
<line x1="183.9" y1="360" x2="183.9" y2="333.4" stroke="#bdbdbd" stroke-width="1.35"/>
<path d="M188.55 360 L188.63 359.64 L188.82 359.27 L189.08 358.91 L189.33 358.55 L189.52 358.18 L189.6 357.82 L189.77 356.95 L190.2 356.08 L190.75 355.2 L191.3 354.33 L191.73 353.46 L191.9 352.59 L191.92 352.01 L191.98 351.43 L192.05 350.84 L192.12 350.26 L192.18 349.68 L192.2 349.1 L192.19 348.01 L192.17 346.92 L192.15 345.83 L192.13 344.74 L192.11 343.65 L192.1 342.56 L192.07 340.83 L191.98 339.11 L191.88 337.38 L191.77 335.66 L191.68 333.93 L191.65 332.2 L191.68 330.66 L191.74 329.12 L191.83 327.57 L191.91 326.03 L191.97 324.48 L192 322.94 L192.02 321.85 L192.06 320.76 L192.12 319.67 L192.19 318.58 L192.23 317.49 L192.25 316.4 L192.26 315.24 L192.28 314.07 L192.3 312.91 L192.32 311.75 L192.34 310.59 L192.35 309.42 L192.45 309.42 L192.46 310.59 L192.48 311.75 L192.5 312.91 L192.52 314.07 L192.54 315.24 L192.55 316.4 L192.57 317.49 L192.61 318.58 L192.68 319.67 L192.74 320.76 L192.78 321.85 L192.8 322.94 L192.83 324.48 L192.89 326.03 L192.97 327.57 L193.06 329.12 L193.12 330.66 L193.15 332.2 L193.12 333.93 L193.03 335.66 L192.93 337.38 L192.82 339.11 L192.73 340.83 L192.7 342.56 L192.69 343.65 L192.67 344.74 L192.65 345.83 L192.63 346.92 L192.61 348.01 L192.6 349.1 L192.62 349.68 L192.68 350.26 L192.75 350.84 L192.82 351.43 L192.88 352.01 L192.9 352.59 L193.07 353.46 L193.5 354.33 L194.05 355.2 L194.6 356.08 L195.03 356.95 L195.2 357.82 L195.28 358.18 L195.47 358.55 L195.72 358.91 L195.98 359.27 L196.17 359.64 L196.25 360Z" fill="#E6AB02" stroke="#262626" stroke-width="0.55" stroke-linejoin="round"/>
<line x1="200.9" y1="360" x2="200.9" y2="321.09" stroke="#bdbdbd" stroke-width="1.35"/>
<line x1="209.4" y1="360" x2="209.4" y2="333.95" stroke="#3a3a3a" stroke-width="0.65"/>
<line x1="144.9" y1="307.1" x2="144.9" y2="362.95" stroke="#3a3a3a" stroke-width="1.1"/>
<line x1="144.35" y1="362.4" x2="214.5" y2="362.4" stroke="#3a3a3a" stroke-width="1.1"/>
<line x1="142.1" y1="360" x2="144.9" y2="360" stroke="#333" stroke-width="0.8"/>
<text x="140.9" y="363" font-size="8.4" text-anchor="end" fill="#222">0</text>
<line x1="142.1" y1="349.1" x2="144.9" y2="349.1" stroke="#333" stroke-width="0.8"/>
<text x="140.9" y="352.1" font-size="8.4" text-anchor="end" fill="#222">1</text>
<line x1="142.1" y1="338.2" x2="144.9" y2="338.2" stroke="#333" stroke-width="0.8"/>
<text x="140.9" y="341.2" font-size="8.4" text-anchor="end" fill="#222">2</text>
<line x1="142.1" y1="327.3" x2="144.9" y2="327.3" stroke="#333" stroke-width="0.8"/>
<text x="140.9" y="330.3" font-size="8.4" text-anchor="end" fill="#222">3</text>
<line x1="142.1" y1="316.4" x2="144.9" y2="316.4" stroke="#333" stroke-width="0.8"/>
<text x="140.9" y="319.4" font-size="8.4" text-anchor="end" fill="#222">4</text>
<line x1="149.9" y1="362.4" x2="149.9" y2="365" stroke="#222" stroke-width="0.75"/>
<text x="151.7" y="368.4" font-size="6.5" text-anchor="end" fill="#222" transform="rotate(-45 151.7 368.4)">Bm_MS4A1</text>
<line x1="158.4" y1="362.4" x2="158.4" y2="365" stroke="#222" stroke-width="0.75"/>
<text x="160.2" y="368.4" font-size="6.5" text-anchor="end" fill="#222" transform="rotate(-45 160.2 368.4)">Bm_CD83</text>
<line x1="166.9" y1="362.4" x2="166.9" y2="365" stroke="#222" stroke-width="0.75"/>
<text x="168.7" y="368.4" font-size="6.5" text-anchor="end" fill="#222" transform="rotate(-45 168.7 368.4)">Bm_CD74</text>
<line x1="175.4" y1="362.4" x2="175.4" y2="365" stroke="#222" stroke-width="0.75"/>
<text x="177.2" y="368.4" font-size="6.5" text-anchor="end" fill="#222" transform="rotate(-45 177.2 368.4)">Bm_ALDOA</text>
<line x1="183.9" y1="362.4" x2="183.9" y2="365" stroke="#222" stroke-width="0.75"/>
<text x="185.7" y="368.4" font-size="6.5" text-anchor="end" fill="#222" transform="rotate(-45 185.7 368.4)">Bm_FCRL4</text>
<line x1="192.4" y1="362.4" x2="192.4" y2="365" stroke="#222" stroke-width="0.75"/>
<text x="194.2" y="368.4" font-size="6.5" text-anchor="end" fill="#222" transform="rotate(-45 194.2 368.4)">Bn_IGHD</text>
<line x1="200.9" y1="362.4" x2="200.9" y2="365" stroke="#222" stroke-width="0.75"/>
<text x="202.7" y="368.4" font-size="6.5" text-anchor="end" fill="#222" transform="rotate(-45 202.7 368.4)">Bn_SPP1</text>
<line x1="209.4" y1="362.4" x2="209.4" y2="365" stroke="#222" stroke-width="0.75"/>
<text x="211.2" y="368.4" font-size="6.5" text-anchor="end" fill="#222" transform="rotate(-45 211.2 368.4)">Bgc_LMO2</text>
<text x="269.5" y="302.2" font-size="11" text-anchor="middle" font-style="italic" fill="#111">AFF3</text>
<line x1="260.53" y1="359.3" x2="269.13" y2="359.3" stroke="#c9c9c9" stroke-width="1"/>
<line x1="286.06" y1="359.3" x2="294.66" y2="359.3" stroke="#c9c9c9" stroke-width="1"/>
<path d="M235.7 359.3 L235.82 358.9 L236.12 358.51 L236.51 358.11 L236.9 357.71 L237.2 357.32 L237.32 356.92 L237.44 356.32 L237.74 355.73 L238.14 355.13 L238.53 354.54 L238.83 353.94 L238.95 353.35 L238.96 352.75 L238.99 352.16 L239.03 351.56 L239.06 350.97 L239.09 350.38 L239.1 349.78 L239.09 349.42 L239.06 349.07 L239.03 348.71 L238.99 348.35 L238.96 348 L238.95 347.64 L238.89 345.85 L238.73 344.07 L238.53 342.28 L238.32 340.5 L238.16 338.71 L238.1 336.93 L238.16 335.14 L238.32 333.36 L238.53 331.57 L238.73 329.79 L238.89 328 L238.95 326.22 L238.96 325.8 L239 325.38 L239.05 324.97 L239.1 324.55 L239.14 324.14 L239.15 323.72 L239.16 322.93 L239.18 322.13 L239.2 321.34 L239.22 320.55 L239.24 319.75 L239.25 318.96 L239.35 318.96 L239.36 319.75 L239.38 320.55 L239.4 321.34 L239.42 322.13 L239.44 322.93 L239.45 323.72 L239.46 324.14 L239.5 324.55 L239.55 324.97 L239.6 325.38 L239.64 325.8 L239.65 326.22 L239.71 328 L239.87 329.79 L240.08 331.57 L240.28 333.36 L240.44 335.14 L240.5 336.93 L240.44 338.71 L240.28 340.5 L240.08 342.28 L239.87 344.07 L239.71 345.85 L239.65 347.64 L239.64 348 L239.61 348.35 L239.58 348.71 L239.54 349.07 L239.51 349.42 L239.5 349.78 L239.51 350.38 L239.54 350.97 L239.58 351.56 L239.61 352.16 L239.64 352.75 L239.65 353.35 L239.77 353.94 L240.07 354.54 L240.47 355.13 L240.86 355.73 L241.16 356.32 L241.28 356.92 L241.4 357.32 L241.7 357.71 L242.09 358.11 L242.48 358.51 L242.78 358.9 L242.9 359.3Z" fill="#1B9E77" stroke="#262626" stroke-width="0.55" stroke-linejoin="round"/>
<path d="M244.21 359.3 L244.33 358.9 L244.63 358.51 L245.02 358.11 L245.41 357.71 L245.71 357.32 L245.83 356.92 L245.95 356.32 L246.25 355.73 L246.65 355.13 L247.04 354.54 L247.34 353.94 L247.46 353.35 L247.47 352.75 L247.5 352.16 L247.53 351.56 L247.57 350.97 L247.6 350.38 L247.61 349.78 L247.6 349.54 L247.57 349.3 L247.53 349.07 L247.5 348.83 L247.47 348.59 L247.46 348.35 L247.38 347.02 L247.17 345.69 L246.91 344.37 L246.65 343.04 L246.44 341.71 L246.36 340.38 L246.44 338.59 L246.65 336.81 L246.91 335.02 L247.17 333.24 L247.38 331.45 L247.46 329.67 L247.47 328.2 L247.51 326.73 L247.56 325.27 L247.61 323.8 L247.65 322.33 L247.66 320.86 L247.67 320.07 L247.69 319.28 L247.71 318.48 L247.73 317.69 L247.75 316.9 L247.76 316.1 L247.86 316.1 L247.87 316.9 L247.89 317.69 L247.91 318.48 L247.93 319.28 L247.95 320.07 L247.96 320.86 L247.97 322.33 L248.01 323.8 L248.06 325.27 L248.11 326.73 L248.15 328.2 L248.16 329.67 L248.24 331.45 L248.45 333.24 L248.71 335.02 L248.97 336.81 L249.18 338.59 L249.26 340.38 L249.18 341.71 L248.97 343.04 L248.71 344.37 L248.45 345.69 L248.24 347.02 L248.16 348.35 L248.15 348.59 L248.12 348.83 L248.09 349.07 L248.05 349.3 L248.02 349.54 L248.01 349.78 L248.02 350.38 L248.05 350.97 L248.09 351.56 L248.12 352.16 L248.15 352.75 L248.16 353.35 L248.28 353.94 L248.58 354.54 L248.97 355.13 L249.37 355.73 L249.67 356.32 L249.79 356.92 L249.91 357.32 L250.21 357.71 L250.6 358.11 L250.99 358.51 L251.29 358.9 L251.41 359.3Z" fill="#D95F02" stroke="#262626" stroke-width="0.55" stroke-linejoin="round"/>
<path d="M252.72 359.3 L252.84 358.9 L253.14 358.51 L253.53 358.11 L253.92 357.71 L254.22 357.32 L254.34 356.92 L254.46 356.32 L254.76 355.73 L255.16 355.13 L255.55 354.54 L255.85 353.94 L255.97 353.35 L255.98 352.75 L256.01 352.16 L256.05 351.56 L256.08 350.97 L256.11 350.38 L256.12 349.78 L256.11 349.54 L256.08 349.3 L256.05 349.07 L256.01 348.83 L255.98 348.59 L255.97 348.35 L255.95 346.63 L255.91 344.9 L255.84 343.18 L255.78 341.45 L255.74 339.72 L255.72 338 L255.74 336.21 L255.78 334.43 L255.84 332.64 L255.91 330.86 L255.95 329.07 L255.97 327.29 L255.98 326.69 L256.02 326.1 L256.07 325.5 L256.12 324.91 L256.16 324.31 L256.17 323.72 L256.18 322.93 L256.2 322.13 L256.22 321.34 L256.24 320.55 L256.26 319.75 L256.27 318.96 L256.37 318.96 L256.38 319.75 L256.4 320.55 L256.42 321.34 L256.44 322.13 L256.46 322.93 L256.47 323.72 L256.48 324.31 L256.52 324.91 L256.57 325.5 L256.62 326.1 L256.66 326.69 L256.67 327.29 L256.69 329.07 L256.73 330.86 L256.8 332.64 L256.86 334.43 L256.9 336.21 L256.92 338 L256.9 339.72 L256.86 341.45 L256.8 343.18 L256.73 344.9 L256.69 346.63 L256.67 348.35 L256.66 348.59 L256.63 348.83 L256.59 349.07 L256.56 349.3 L256.53 349.54 L256.52 349.78 L256.53 350.38 L256.56 350.97 L256.59 351.56 L256.63 352.16 L256.66 352.75 L256.67 353.35 L256.79 353.94 L257.09 354.54 L257.49 355.13 L257.88 355.73 L258.18 356.32 L258.3 356.92 L258.42 357.32 L258.72 357.71 L259.11 358.11 L259.5 358.51 L259.8 358.9 L259.92 359.3Z" fill="#7570B3" stroke="#262626" stroke-width="0.55" stroke-linejoin="round"/>
<line x1="264.83" y1="359.3" x2="264.83" y2="324.79" stroke="#6a6a6a" stroke-width="0.85"/>
<path d="M269.64 359.3 L269.76 358.86 L270.07 358.43 L270.47 357.99 L270.87 357.55 L271.18 357.12 L271.31 356.68 L271.43 356.03 L271.74 355.37 L272.15 354.72 L272.55 354.06 L272.87 353.41 L272.99 352.75 L273 352.26 L273.03 351.76 L273.07 351.27 L273.1 350.77 L273.13 350.28 L273.14 349.78 L273.13 349.54 L273.1 349.3 L273.07 349.07 L273.03 348.83 L273 348.59 L272.99 348.35 L272.95 347.2 L272.83 346.05 L272.69 344.9 L272.55 343.75 L272.43 342.6 L272.39 341.45 L272.43 339.7 L272.55 337.95 L272.69 336.2 L272.83 334.45 L272.95 332.7 L272.99 330.95 L273 330.58 L273.04 330.21 L273.09 329.84 L273.14 329.46 L273.18 329.09 L273.19 328.72 L273.2 327.92 L273.22 327.13 L273.24 326.34 L273.26 325.54 L273.28 324.75 L273.29 323.96 L273.39 323.96 L273.4 324.75 L273.42 325.54 L273.44 326.34 L273.46 327.13 L273.48 327.92 L273.49 328.72 L273.5 329.09 L273.54 329.46 L273.59 329.84 L273.64 330.21 L273.68 330.58 L273.69 330.95 L273.73 332.7 L273.85 334.45 L273.99 336.2 L274.13 337.95 L274.25 339.7 L274.29 341.45 L274.25 342.6 L274.13 343.75 L273.99 344.9 L273.85 346.05 L273.73 347.2 L273.69 348.35 L273.68 348.59 L273.65 348.83 L273.62 349.07 L273.58 349.3 L273.55 349.54 L273.54 349.78 L273.55 350.28 L273.58 350.77 L273.62 351.27 L273.65 351.76 L273.68 352.26 L273.69 352.75 L273.81 353.41 L274.13 354.06 L274.53 354.72 L274.94 355.37 L275.25 356.03 L275.38 356.68 L275.5 357.12 L275.81 357.55 L276.21 357.99 L276.61 358.43 L276.92 358.86 L277.04 359.3Z" fill="#66A61E" stroke="#262626" stroke-width="0.55" stroke-linejoin="round"/>
<path d="M278 359.3 L278.13 358.86 L278.45 358.43 L278.87 357.99 L279.28 357.55 L279.6 357.12 L279.73 356.68 L279.86 356.03 L280.19 355.37 L280.62 354.72 L281.04 354.06 L281.37 353.41 L281.5 352.75 L281.51 352.26 L281.54 351.76 L281.58 351.27 L281.61 350.77 L281.64 350.28 L281.65 349.78 L281.64 348.93 L281.61 348.07 L281.58 347.22 L281.54 346.37 L281.51 345.52 L281.5 344.66 L281.42 342.88 L281.21 341.09 L280.95 339.31 L280.69 337.52 L280.48 335.74 L280.4 333.95 L280.48 332.17 L280.69 330.38 L280.95 328.6 L281.21 326.81 L281.42 325.03 L281.5 323.24 L281.51 321.64 L281.55 320.03 L281.6 318.42 L281.65 316.82 L281.69 315.21 L281.7 313.6 L281.71 312.81 L281.73 312.02 L281.75 311.22 L281.77 310.43 L281.79 309.64 L281.8 308.84 L281.9 308.84 L281.91 309.64 L281.93 310.43 L281.95 311.22 L281.97 312.02 L281.99 312.81 L282 313.6 L282.01 315.21 L282.05 316.82 L282.1 318.42 L282.15 320.03 L282.19 321.64 L282.2 323.24 L282.28 325.03 L282.49 326.81 L282.75 328.6 L283.01 330.38 L283.22 332.17 L283.3 333.95 L283.22 335.74 L283.01 337.52 L282.75 339.31 L282.49 341.09 L282.28 342.88 L282.2 344.66 L282.19 345.52 L282.16 346.37 L282.12 347.22 L282.09 348.07 L282.06 348.93 L282.05 349.78 L282.06 350.28 L282.09 350.77 L282.12 351.27 L282.16 351.76 L282.19 352.26 L282.2 352.75 L282.33 353.41 L282.66 354.06 L283.08 354.72 L283.51 355.37 L283.84 356.03 L283.97 356.68 L284.1 357.12 L284.42 357.55 L284.83 357.99 L285.25 358.43 L285.57 358.86 L285.7 359.3Z" fill="#E6AB02" stroke="#262626" stroke-width="0.55" stroke-linejoin="round"/>
<line x1="290.36" y1="359.3" x2="290.36" y2="323.96" stroke="#3a3a3a" stroke-width="0.65"/>
<path d="M295.02 359.3 L295.07 358.7 L295.19 358.11 L295.35 357.51 L295.5 356.92 L295.62 356.32 L295.67 355.73 L295.67 354.94 L295.67 354.14 L295.67 353.35 L295.67 352.56 L295.67 351.76 L295.67 350.97 L295.65 350.38 L295.59 349.78 L295.52 349.19 L295.45 348.59 L295.39 348 L295.37 347.4 L295.34 346.23 L295.28 345.06 L295.19 343.89 L295.11 342.72 L295.05 341.55 L295.02 340.38 L295.06 339.37 L295.16 338.36 L295.3 337.34 L295.43 336.33 L295.53 335.32 L295.57 334.31 L295.6 333.38 L295.67 332.45 L295.77 331.51 L295.87 330.58 L295.94 329.65 L295.97 328.72 L296.05 327.86 L296.26 327.01 L296.52 326.16 L296.78 325.31 L296.99 324.45 L297.07 323.6 L297.13 323.1 L297.28 322.61 L297.47 322.11 L297.66 321.62 L297.81 321.12 L297.87 320.62 L297.91 320.33 L298.03 320.03 L298.17 319.73 L298.31 319.44 L298.43 319.14 L298.47 318.84 L299.27 318.84 L299.31 319.14 L299.43 319.44 L299.57 319.73 L299.71 320.03 L299.83 320.33 L299.87 320.62 L299.93 321.12 L300.08 321.62 L300.27 322.11 L300.46 322.61 L300.61 323.1 L300.67 323.6 L300.75 324.45 L300.96 325.31 L301.22 326.16 L301.48 327.01 L301.69 327.86 L301.77 328.72 L301.8 329.65 L301.87 330.58 L301.97 331.51 L302.07 332.45 L302.14 333.38 L302.17 334.31 L302.21 335.32 L302.31 336.33 L302.44 337.34 L302.58 338.36 L302.68 339.37 L302.72 340.38 L302.69 341.55 L302.63 342.72 L302.55 343.89 L302.46 345.06 L302.4 346.23 L302.37 347.4 L302.35 348 L302.29 348.59 L302.22 349.19 L302.15 349.78 L302.09 350.38 L302.07 350.97 L302.07 351.76 L302.07 352.56 L302.07 353.35 L302.07 354.14 L302.07 354.94 L302.07 355.73 L302.12 356.32 L302.24 356.92 L302.39 357.51 L302.55 358.11 L302.67 358.7 L302.72 359.3Z" fill="#666666" stroke="#262626" stroke-width="0.55" stroke-linejoin="round"/>
<line x1="234.4" y1="307.1" x2="234.4" y2="361.65" stroke="#3a3a3a" stroke-width="1.1"/>
<line x1="233.85" y1="361.1" x2="303.8" y2="361.1" stroke="#3a3a3a" stroke-width="1.1"/>
<line x1="231.6" y1="359.3" x2="234.4" y2="359.3" stroke="#333" stroke-width="0.8"/>
<text x="230.4" y="362.3" font-size="8.4" text-anchor="end" fill="#222">0</text>
<line x1="231.6" y1="347.4" x2="234.4" y2="347.4" stroke="#333" stroke-width="0.8"/>
<text x="230.4" y="350.4" font-size="8.4" text-anchor="end" fill="#222">1</text>
<line x1="231.6" y1="335.5" x2="234.4" y2="335.5" stroke="#333" stroke-width="0.8"/>
<text x="230.4" y="338.5" font-size="8.4" text-anchor="end" fill="#222">2</text>
<line x1="231.6" y1="323.6" x2="234.4" y2="323.6" stroke="#333" stroke-width="0.8"/>
<text x="230.4" y="326.6" font-size="8.4" text-anchor="end" fill="#222">3</text>
<line x1="231.6" y1="311.7" x2="234.4" y2="311.7" stroke="#333" stroke-width="0.8"/>
<text x="230.4" y="314.7" font-size="8.4" text-anchor="end" fill="#222">4</text>
<line x1="239.3" y1="361.1" x2="239.3" y2="363.7" stroke="#222" stroke-width="0.75"/>
<text x="241.1" y="367.1" font-size="6.5" text-anchor="end" fill="#222" transform="rotate(-45 241.1 367.1)">Bm_MS4A1</text>
<line x1="247.81" y1="361.1" x2="247.81" y2="363.7" stroke="#222" stroke-width="0.75"/>
<text x="249.61" y="367.1" font-size="6.5" text-anchor="end" fill="#222" transform="rotate(-45 249.61 367.1)">Bm_CD83</text>
<line x1="256.32" y1="361.1" x2="256.32" y2="363.7" stroke="#222" stroke-width="0.75"/>
<text x="258.12" y="367.1" font-size="6.5" text-anchor="end" fill="#222" transform="rotate(-45 258.12 367.1)">Bm_CD74</text>
<line x1="264.83" y1="361.1" x2="264.83" y2="363.7" stroke="#222" stroke-width="0.75"/>
<text x="266.63" y="367.1" font-size="6.5" text-anchor="end" fill="#222" transform="rotate(-45 266.63 367.1)">Bm_ALDOA</text>
<line x1="273.34" y1="361.1" x2="273.34" y2="363.7" stroke="#222" stroke-width="0.75"/>
<text x="275.14" y="367.1" font-size="6.5" text-anchor="end" fill="#222" transform="rotate(-45 275.14 367.1)">Bm_FCRL4</text>
<line x1="281.85" y1="361.1" x2="281.85" y2="363.7" stroke="#222" stroke-width="0.75"/>
<text x="283.65" y="367.1" font-size="6.5" text-anchor="end" fill="#222" transform="rotate(-45 283.65 367.1)">Bn_IGHD</text>
<line x1="290.36" y1="361.1" x2="290.36" y2="363.7" stroke="#222" stroke-width="0.75"/>
<text x="292.16" y="367.1" font-size="6.5" text-anchor="end" fill="#222" transform="rotate(-45 292.16 367.1)">Bn_SPP1</text>
<line x1="298.87" y1="361.1" x2="298.87" y2="363.7" stroke="#222" stroke-width="0.75"/>
<text x="300.67" y="367.1" font-size="6.5" text-anchor="end" fill="#222" transform="rotate(-45 300.67 367.1)">Bgc_LMO2</text>
<text x="361.6" y="302.2" font-size="11" text-anchor="middle" font-style="italic" fill="#111">FOXP1</text>
<line x1="352.53" y1="359.3" x2="361.13" y2="359.3" stroke="#c9c9c9" stroke-width="1"/>
<path d="M327.7 359.3 L327.82 358.92 L328.12 358.54 L328.51 358.17 L328.9 357.79 L329.2 357.41 L329.32 357.03 L329.44 356.46 L329.74 355.9 L330.13 355.33 L330.53 354.76 L330.83 354.19 L330.95 353.62 L330.96 353.06 L330.99 352.49 L331.03 351.92 L331.06 351.36 L331.09 350.79 L331.1 350.22 L331.09 349.71 L331.06 349.2 L331.03 348.69 L330.99 348.18 L330.96 347.67 L330.95 347.16 L330.91 345.45 L330.79 343.75 L330.65 342.05 L330.51 340.35 L330.39 338.64 L330.35 336.94 L330.39 335.24 L330.51 333.54 L330.65 331.83 L330.79 330.13 L330.91 328.43 L330.95 326.73 L330.96 325.84 L331 324.95 L331.05 324.06 L331.1 323.17 L331.14 322.28 L331.15 321.39 L331.16 320.63 L331.18 319.88 L331.2 319.12 L331.22 318.36 L331.24 317.61 L331.25 316.85 L331.35 316.85 L331.36 317.61 L331.38 318.36 L331.4 319.12 L331.42 319.88 L331.44 320.63 L331.45 321.39 L331.46 322.28 L331.5 323.17 L331.55 324.06 L331.6 324.95 L331.64 325.84 L331.65 326.73 L331.69 328.43 L331.81 330.13 L331.95 331.83 L332.09 333.54 L332.21 335.24 L332.25 336.94 L332.21 338.64 L332.09 340.35 L331.95 342.05 L331.81 343.75 L331.69 345.45 L331.65 347.16 L331.64 347.67 L331.61 348.18 L331.57 348.69 L331.54 349.2 L331.51 349.71 L331.5 350.22 L331.51 350.79 L331.54 351.36 L331.57 351.92 L331.61 352.49 L331.64 353.06 L331.65 353.62 L331.77 354.19 L332.07 354.76 L332.47 355.33 L332.86 355.9 L333.16 356.46 L333.28 357.03 L333.4 357.41 L333.7 357.79 L334.09 358.17 L334.48 358.54 L334.78 358.92 L334.9 359.3Z" fill="#1B9E77" stroke="#262626" stroke-width="0.55" stroke-linejoin="round"/>
<path d="M336.21 359.3 L336.33 358.92 L336.63 358.54 L337.02 358.17 L337.41 357.79 L337.71 357.41 L337.83 357.03 L337.95 356.46 L338.25 355.9 L338.64 355.33 L339.04 354.76 L339.34 354.19 L339.46 353.62 L339.47 353.06 L339.5 352.49 L339.54 351.92 L339.57 351.36 L339.6 350.79 L339.61 350.22 L339.6 349.88 L339.57 349.54 L339.54 349.2 L339.5 348.86 L339.47 348.52 L339.46 348.18 L339.37 346.47 L339.16 344.77 L338.88 343.07 L338.61 341.37 L338.4 339.66 L338.31 337.96 L338.4 336.26 L338.61 334.56 L338.88 332.85 L339.16 331.15 L339.37 329.45 L339.46 327.75 L339.47 325.74 L339.51 323.74 L339.56 321.73 L339.61 319.73 L339.65 317.72 L339.66 315.72 L339.67 314.96 L339.69 314.2 L339.71 313.45 L339.73 312.69 L339.75 311.93 L339.76 311.18 L339.86 311.18 L339.87 311.93 L339.89 312.69 L339.91 313.45 L339.93 314.2 L339.95 314.96 L339.96 315.72 L339.97 317.72 L340.01 319.73 L340.06 321.73 L340.11 323.74 L340.15 325.74 L340.16 327.75 L340.25 329.45 L340.46 331.15 L340.74 332.85 L341.01 334.56 L341.22 336.26 L341.31 337.96 L341.22 339.66 L341.01 341.37 L340.74 343.07 L340.46 344.77 L340.25 346.47 L340.16 348.18 L340.15 348.52 L340.12 348.86 L340.08 349.2 L340.05 349.54 L340.02 349.88 L340.01 350.22 L340.02 350.79 L340.05 351.36 L340.08 351.92 L340.12 352.49 L340.15 353.06 L340.16 353.62 L340.28 354.19 L340.58 354.76 L340.98 355.33 L341.37 355.9 L341.67 356.46 L341.79 357.03 L341.91 357.41 L342.21 357.79 L342.6 358.17 L342.99 358.54 L343.29 358.92 L343.41 359.3Z" fill="#D95F02" stroke="#262626" stroke-width="0.55" stroke-linejoin="round"/>
<path d="M344.72 359.3 L344.84 358.92 L345.14 358.54 L345.53 358.17 L345.92 357.79 L346.22 357.41 L346.34 357.03 L346.46 356.46 L346.76 355.9 L347.15 355.33 L347.55 354.76 L347.85 354.19 L347.97 353.62 L347.98 353.06 L348.01 352.49 L348.05 351.92 L348.08 351.36 L348.11 350.79 L348.12 350.22 L348.11 349.99 L348.08 349.77 L348.05 349.54 L348.01 349.31 L347.98 349.09 L347.97 348.86 L347.95 347.21 L347.91 345.57 L347.84 343.92 L347.78 342.28 L347.74 340.63 L347.72 338.98 L347.74 337.28 L347.78 335.58 L347.84 333.88 L347.91 332.17 L347.95 330.47 L347.97 328.77 L347.98 328.24 L348.02 327.71 L348.07 327.18 L348.12 326.65 L348.16 326.12 L348.17 325.59 L348.18 324.83 L348.2 324.08 L348.22 323.32 L348.24 322.56 L348.26 321.81 L348.27 321.05 L348.37 321.05 L348.38 321.81 L348.4 322.56 L348.42 323.32 L348.44 324.08 L348.46 324.83 L348.47 325.59 L348.48 326.12 L348.52 326.65 L348.57 327.18 L348.62 327.71 L348.66 328.24 L348.67 328.77 L348.69 330.47 L348.73 332.17 L348.8 333.88 L348.86 335.58 L348.9 337.28 L348.92 338.98 L348.9 340.63 L348.86 342.28 L348.8 343.92 L348.73 345.57 L348.69 347.21 L348.67 348.86 L348.66 349.09 L348.63 349.31 L348.59 349.54 L348.56 349.77 L348.53 349.99 L348.52 350.22 L348.53 350.79 L348.56 351.36 L348.59 351.92 L348.63 352.49 L348.66 353.06 L348.67 353.62 L348.79 354.19 L349.09 354.76 L349.49 355.33 L349.88 355.9 L350.18 356.46 L350.3 357.03 L350.42 357.41 L350.72 357.79 L351.11 358.17 L351.5 358.54 L351.8 358.92 L351.92 359.3Z" fill="#7570B3" stroke="#262626" stroke-width="0.55" stroke-linejoin="round"/>
<line x1="356.83" y1="359.3" x2="356.83" y2="321.73" stroke="#6a6a6a" stroke-width="0.85"/>
<path d="M361.64 359.3 L361.76 358.88 L362.07 358.47 L362.47 358.05 L362.87 357.64 L363.18 357.22 L363.31 356.8 L363.43 356.18 L363.74 355.55 L364.15 354.93 L364.55 354.31 L364.87 353.68 L364.99 353.06 L365 352.58 L365.03 352.11 L365.07 351.64 L365.1 351.17 L365.13 350.69 L365.14 350.22 L365.13 349.99 L365.1 349.77 L365.07 349.54 L365.03 349.31 L365 349.09 L364.99 348.86 L364.96 347.25 L364.87 345.64 L364.77 344.03 L364.66 342.43 L364.57 340.82 L364.54 339.21 L364.57 337.93 L364.66 336.65 L364.77 335.36 L364.87 334.08 L364.96 332.8 L364.99 331.52 L365 331.33 L365.04 331.14 L365.09 330.95 L365.14 330.76 L365.18 330.57 L365.19 330.38 L365.2 329.71 L365.22 329.05 L365.24 328.38 L365.26 327.72 L365.28 327.05 L365.29 326.38 L365.39 326.38 L365.4 327.05 L365.42 327.72 L365.44 328.38 L365.46 329.05 L365.48 329.71 L365.49 330.38 L365.5 330.57 L365.54 330.76 L365.59 330.95 L365.64 331.14 L365.68 331.33 L365.69 331.52 L365.72 332.8 L365.81 334.08 L365.92 335.36 L366.02 336.65 L366.11 337.93 L366.14 339.21 L366.11 340.82 L366.02 342.43 L365.92 344.03 L365.81 345.64 L365.72 347.25 L365.69 348.86 L365.68 349.09 L365.65 349.31 L365.62 349.54 L365.58 349.77 L365.55 349.99 L365.54 350.22 L365.55 350.69 L365.58 351.17 L365.62 351.64 L365.65 352.11 L365.68 352.58 L365.69 353.06 L365.81 353.68 L366.13 354.31 L366.53 354.93 L366.94 355.55 L367.25 356.18 L367.38 356.8 L367.5 357.22 L367.81 357.64 L368.21 358.05 L368.61 358.47 L368.92 358.88 L369.04 359.3Z" fill="#66A61E" stroke="#262626" stroke-width="0.55" stroke-linejoin="round"/>
<path d="M370 359.3 L370.13 358.85 L370.45 358.39 L370.87 357.94 L371.28 357.48 L371.6 357.03 L371.73 356.58 L371.86 355.9 L372.19 355.21 L372.62 354.53 L373.04 353.85 L373.37 353.17 L373.5 352.49 L373.51 352.11 L373.54 351.73 L373.58 351.36 L373.61 350.98 L373.64 350.6 L373.65 350.22 L373.64 348.82 L373.61 347.42 L373.58 346.02 L373.54 344.62 L373.51 343.22 L373.5 341.82 L373.4 340.12 L373.14 338.42 L372.8 336.71 L372.46 335.01 L372.2 333.31 L372.1 331.61 L372.2 329.9 L372.46 328.2 L372.8 326.5 L373.14 324.8 L373.4 323.09 L373.5 321.39 L373.51 320.05 L373.55 318.7 L373.6 317.36 L373.65 316.02 L373.69 314.68 L373.7 313.33 L373.71 312.58 L373.73 311.82 L373.75 311.06 L373.77 310.31 L373.79 309.55 L373.8 308.79 L373.9 308.79 L373.91 309.55 L373.93 310.31 L373.95 311.06 L373.97 311.82 L373.99 312.58 L374 313.33 L374.01 314.68 L374.05 316.02 L374.1 317.36 L374.15 318.7 L374.19 320.05 L374.2 321.39 L374.3 323.09 L374.56 324.8 L374.9 326.5 L375.24 328.2 L375.5 329.9 L375.6 331.61 L375.5 333.31 L375.24 335.01 L374.9 336.71 L374.56 338.42 L374.3 340.12 L374.2 341.82 L374.19 343.22 L374.16 344.62 L374.12 346.02 L374.09 347.42 L374.06 348.82 L374.05 350.22 L374.06 350.6 L374.09 350.98 L374.12 351.36 L374.16 351.73 L374.19 352.11 L374.2 352.49 L374.33 353.17 L374.66 353.85 L375.08 354.53 L375.51 355.21 L375.84 355.9 L375.97 356.58 L376.1 357.03 L376.42 357.48 L376.83 357.94 L377.25 358.39 L377.57 358.85 L377.7 359.3Z" fill="#E6AB02" stroke="#262626" stroke-width="0.55" stroke-linejoin="round"/>
<path d="M378.66 359.3 L378.78 358.85 L379.09 358.39 L379.49 357.94 L379.89 357.48 L380.2 357.03 L380.32 356.58 L380.45 355.9 L380.76 355.21 L381.17 354.53 L381.57 353.85 L381.89 353.17 L382.01 352.49 L382.02 352.11 L382.05 351.73 L382.09 351.36 L382.12 350.98 L382.15 350.6 L382.16 350.22 L382.15 349.29 L382.12 348.37 L382.09 347.44 L382.05 346.51 L382.02 345.59 L382.01 344.66 L381.95 342.96 L381.79 341.25 L381.59 339.55 L381.38 337.85 L381.22 336.15 L381.16 334.44 L381.22 332.8 L381.38 331.15 L381.59 329.51 L381.79 327.86 L381.95 326.21 L382.01 324.57 L382.02 324.23 L382.06 323.89 L382.11 323.55 L382.16 323.21 L382.2 322.87 L382.21 322.53 L382.22 321.77 L382.24 321.01 L382.26 320.26 L382.28 319.5 L382.3 318.74 L382.31 317.99 L382.41 317.99 L382.42 318.74 L382.44 319.5 L382.46 320.26 L382.48 321.01 L382.5 321.77 L382.51 322.53 L382.52 322.87 L382.56 323.21 L382.61 323.55 L382.66 323.89 L382.7 324.23 L382.71 324.57 L382.77 326.21 L382.93 327.86 L383.13 329.51 L383.34 331.15 L383.5 332.8 L383.56 334.44 L383.5 336.15 L383.34 337.85 L383.13 339.55 L382.93 341.25 L382.77 342.96 L382.71 344.66 L382.7 345.59 L382.67 346.51 L382.63 347.44 L382.6 348.37 L382.57 349.29 L382.56 350.22 L382.57 350.6 L382.6 350.98 L382.63 351.36 L382.67 351.73 L382.7 352.11 L382.71 352.49 L382.83 353.17 L383.15 353.85 L383.55 354.53 L383.96 355.21 L384.27 355.9 L384.4 356.58 L384.52 357.03 L384.83 357.48 L385.23 357.94 L385.63 358.39 L385.94 358.85 L386.06 359.3Z" fill="#A6761D" stroke="#262626" stroke-width="0.55" stroke-linejoin="round"/>
<path d="M387.02 359.3 L387.06 358.77 L387.16 358.24 L387.3 357.71 L387.43 357.18 L387.53 356.65 L387.57 356.12 L387.66 355.29 L387.88 354.46 L388.17 353.62 L388.46 352.79 L388.68 351.96 L388.77 351.13 L388.84 350.22 L389.03 349.31 L389.27 348.4 L389.51 347.5 L389.7 346.59 L389.77 345.68 L389.78 344.17 L389.81 342.65 L389.85 341.14 L389.88 339.63 L389.91 338.11 L389.92 336.6 L389.92 335.47 L389.93 334.33 L389.94 333.19 L389.96 332.06 L389.97 330.93 L389.97 329.79 L390 329.13 L390.07 328.47 L390.17 327.8 L390.27 327.14 L390.34 326.48 L390.37 325.82 L390.4 325.61 L390.46 325.4 L390.55 325.19 L390.63 324.99 L390.69 324.78 L390.72 324.57 L391.02 324.57 L391.05 324.78 L391.11 324.99 L391.19 325.19 L391.28 325.4 L391.34 325.61 L391.37 325.82 L391.4 326.48 L391.47 327.14 L391.57 327.8 L391.67 328.47 L391.74 329.13 L391.77 329.79 L391.77 330.93 L391.78 332.06 L391.8 333.19 L391.81 334.33 L391.82 335.47 L391.82 336.6 L391.83 338.11 L391.86 339.63 L391.89 341.14 L391.93 342.65 L391.96 344.17 L391.97 345.68 L392.04 346.59 L392.23 347.5 L392.47 348.4 L392.71 349.31 L392.9 350.22 L392.97 351.13 L393.06 351.96 L393.28 352.79 L393.57 353.62 L393.86 354.46 L394.08 355.29 L394.17 356.12 L394.21 356.65 L394.31 357.18 L394.44 357.71 L394.58 358.24 L394.68 358.77 L394.72 359.3Z" fill="#666666" stroke="#262626" stroke-width="0.55" stroke-linejoin="round"/>
<line x1="326.4" y1="307.1" x2="326.4" y2="361.65" stroke="#3a3a3a" stroke-width="1.1"/>
<line x1="325.85" y1="361.1" x2="395.6" y2="361.1" stroke="#3a3a3a" stroke-width="1.1"/>
<line x1="323.6" y1="359.3" x2="326.4" y2="359.3" stroke="#333" stroke-width="0.8"/>
<text x="322.4" y="362.3" font-size="8.4" text-anchor="end" fill="#222">0</text>
<line x1="323.6" y1="347.95" x2="326.4" y2="347.95" stroke="#333" stroke-width="0.8"/>
<text x="322.4" y="350.95" font-size="8.4" text-anchor="end" fill="#222">1</text>
<line x1="323.6" y1="336.6" x2="326.4" y2="336.6" stroke="#333" stroke-width="0.8"/>
<text x="322.4" y="339.6" font-size="8.4" text-anchor="end" fill="#222">2</text>
<line x1="323.6" y1="325.25" x2="326.4" y2="325.25" stroke="#333" stroke-width="0.8"/>
<text x="322.4" y="328.25" font-size="8.4" text-anchor="end" fill="#222">3</text>
<line x1="323.6" y1="313.9" x2="326.4" y2="313.9" stroke="#333" stroke-width="0.8"/>
<text x="322.4" y="316.9" font-size="8.4" text-anchor="end" fill="#222">4</text>
<line x1="331.3" y1="361.1" x2="331.3" y2="363.7" stroke="#222" stroke-width="0.75"/>
<text x="333.1" y="367.1" font-size="6.5" text-anchor="end" fill="#222" transform="rotate(-45 333.1 367.1)">Bm_MS4A1</text>
<line x1="339.81" y1="361.1" x2="339.81" y2="363.7" stroke="#222" stroke-width="0.75"/>
<text x="341.61" y="367.1" font-size="6.5" text-anchor="end" fill="#222" transform="rotate(-45 341.61 367.1)">Bm_CD83</text>
<line x1="348.32" y1="361.1" x2="348.32" y2="363.7" stroke="#222" stroke-width="0.75"/>
<text x="350.12" y="367.1" font-size="6.5" text-anchor="end" fill="#222" transform="rotate(-45 350.12 367.1)">Bm_CD74</text>
<line x1="356.83" y1="361.1" x2="356.83" y2="363.7" stroke="#222" stroke-width="0.75"/>
<text x="358.63" y="367.1" font-size="6.5" text-anchor="end" fill="#222" transform="rotate(-45 358.63 367.1)">Bm_ALDOA</text>
<line x1="365.34" y1="361.1" x2="365.34" y2="363.7" stroke="#222" stroke-width="0.75"/>
<text x="367.14" y="367.1" font-size="6.5" text-anchor="end" fill="#222" transform="rotate(-45 367.14 367.1)">Bm_FCRL4</text>
<line x1="373.85" y1="361.1" x2="373.85" y2="363.7" stroke="#222" stroke-width="0.75"/>
<text x="375.65" y="367.1" font-size="6.5" text-anchor="end" fill="#222" transform="rotate(-45 375.65 367.1)">Bn_IGHD</text>
<line x1="382.36" y1="361.1" x2="382.36" y2="363.7" stroke="#222" stroke-width="0.75"/>
<text x="384.16" y="367.1" font-size="6.5" text-anchor="end" fill="#222" transform="rotate(-45 384.16 367.1)">Bn_SPP1</text>
<line x1="390.87" y1="361.1" x2="390.87" y2="363.7" stroke="#222" stroke-width="0.75"/>
<text x="392.67" y="367.1" font-size="6.5" text-anchor="end" fill="#222" transform="rotate(-45 392.67 367.1)">Bgc_LMO2</text>
<text x="421" y="218.6" font-size="17" font-weight="bold" fill="#1e1414">D</text>
<text x="541.9" y="207" font-size="6.85" text-anchor="middle" fill="#111">Bn_IGHD−specific maturation signature</text>
<text x="432.6" y="320.5" font-size="7.2" text-anchor="middle" fill="#111" transform="rotate(-90 432.6 320.5)">Pro Bn_IGHD maturation ligands</text>
<rect x="461.9" y="238.33" width="6" height="4.95" fill="#ffb5a4"/>
<rect x="468.65" y="238.33" width="6" height="4.95" fill="#ffa38e"/>
<rect x="475.4" y="238.33" width="6" height="4.95" fill="#e84b35"/>
<rect x="482.15" y="238.33" width="6" height="4.95" fill="#f8836b"/>
<rect x="488.9" y="238.33" width="6" height="4.95" fill="#f8836b"/>
<rect x="495.65" y="238.33" width="6" height="4.95" fill="#ffc2b3"/>
<rect x="509.15" y="238.33" width="6" height="4.95" fill="#ffc2b3"/>
<rect x="515.9" y="238.33" width="6" height="4.95" fill="#ffd1c5"/>
<rect x="522.65" y="238.33" width="6" height="4.95" fill="#ffd1c5"/>
<rect x="542.9" y="238.33" width="6" height="4.95" fill="#ffd1c5"/>
<rect x="569.9" y="238.33" width="6" height="4.95" fill="#ffd1c5"/>
<rect x="583.4" y="238.33" width="6" height="4.95" fill="#ffd1c5"/>
<rect x="495.65" y="244.1" width="6" height="4.95" fill="#f8836b"/>
<rect x="502.4" y="244.1" width="6" height="4.95" fill="#f4725a"/>
<rect x="536.15" y="244.1" width="6" height="4.95" fill="#fb8d76"/>
<rect x="475.4" y="249.87" width="6" height="4.95" fill="#ef6149"/>
<rect x="509.15" y="249.87" width="6" height="4.95" fill="#ffc2b3"/>
<rect x="515.9" y="249.87" width="6" height="4.95" fill="#ffd1c5"/>
<rect x="522.65" y="249.87" width="6" height="4.95" fill="#ffd1c5"/>
<rect x="495.65" y="255.64" width="6" height="4.95" fill="#f8836b"/>
<rect x="502.4" y="255.64" width="6" height="4.95" fill="#f4725a"/>
<rect x="536.15" y="255.64" width="6" height="4.95" fill="#fb8d76"/>
<rect x="461.9" y="261.4" width="6" height="4.95" fill="#ffc2b3"/>
<rect x="468.65" y="261.4" width="6" height="4.95" fill="#ffa38e"/>
<rect x="475.4" y="261.4" width="6" height="4.95" fill="#ffc2b3"/>
<rect x="482.15" y="261.4" width="6" height="4.95" fill="#ffd1c5"/>
<rect x="488.9" y="261.4" width="6" height="4.95" fill="#ffd1c5"/>
<rect x="509.15" y="261.4" width="6" height="4.95" fill="#ffa38e"/>
<rect x="515.9" y="261.4" width="6" height="4.95" fill="#ffb2a0"/>
<rect x="522.65" y="261.4" width="6" height="4.95" fill="#ffb2a0"/>
<rect x="529.4" y="261.4" width="6" height="4.95" fill="#fc937d"/>
<rect x="536.15" y="261.4" width="6" height="4.95" fill="#ffc2b3"/>
<rect x="542.9" y="261.4" width="6" height="4.95" fill="#ffb2a0"/>
<rect x="549.65" y="261.4" width="6" height="4.95" fill="#ffd1c5"/>
<rect x="556.4" y="261.4" width="6" height="4.95" fill="#ffa38e"/>
<rect x="569.9" y="261.4" width="6" height="4.95" fill="#ffd1c5"/>
<rect x="583.4" y="261.4" width="6" height="4.95" fill="#ffc2b3"/>
<rect x="590.15" y="261.4" width="6" height="4.95" fill="#ffd1c5"/>
<rect x="596.9" y="261.4" width="6" height="4.95" fill="#ffc2b3"/>
<rect x="603.65" y="261.4" width="6" height="4.95" fill="#ffc2b3"/>
<rect x="617.15" y="261.4" width="6" height="4.95" fill="#ffd1c5"/>
<rect x="536.15" y="267.18" width="6" height="4.95" fill="#ef6149"/>
<rect x="515.9" y="272.94" width="6" height="4.95" fill="#ffd1c5"/>
<rect x="536.15" y="272.94" width="6" height="4.95" fill="#ec563f"/>
<rect x="468.65" y="278.71" width="6" height="4.95" fill="#ffd1c5"/>
<rect x="536.15" y="278.71" width="6" height="4.95" fill="#ffb2a0"/>
<rect x="468.65" y="284.49" width="6" height="4.95" fill="#f8836b"/>
<rect x="603.65" y="284.49" width="6" height="4.95" fill="#ffb2a0"/>
<rect x="461.9" y="290.25" width="6" height="4.95" fill="#ffd1c5"/>
<rect x="468.65" y="290.25" width="6" height="4.95" fill="#ffa38e"/>
<rect x="475.4" y="290.25" width="6" height="4.95" fill="#ffb2a0"/>
<rect x="482.15" y="290.25" width="6" height="4.95" fill="#ffb2a0"/>
<rect x="488.9" y="290.25" width="6" height="4.95" fill="#ffb2a0"/>
<rect x="502.4" y="290.25" width="6" height="4.95" fill="#ffc2b3"/>
<rect x="515.9" y="290.25" width="6" height="4.95" fill="#ffa38e"/>
<rect x="522.65" y="290.25" width="6" height="4.95" fill="#ffac99"/>
<rect x="536.15" y="290.25" width="6" height="4.95" fill="#ffc2b3"/>
<rect x="542.9" y="290.25" width="6" height="4.95" fill="#ffb2a0"/>
<rect x="549.65" y="290.25" width="6" height="4.95" fill="#ffa38e"/>
<rect x="556.4" y="290.25" width="6" height="4.95" fill="#ffa38e"/>
<rect x="563.15" y="290.25" width="6" height="4.95" fill="#ffd1c5"/>
<rect x="569.9" y="290.25" width="6" height="4.95" fill="#ffd1c5"/>
<rect x="583.4" y="290.25" width="6" height="4.95" fill="#ffa38e"/>
<rect x="590.15" y="290.25" width="6" height="4.95" fill="#ffd1c5"/>
<rect x="596.9" y="290.25" width="6" height="4.95" fill="#ffb2a0"/>
<rect x="603.65" y="290.25" width="6" height="4.95" fill="#ffc2b3"/>
<rect x="617.15" y="290.25" width="6" height="4.95" fill="#ffd1c5"/>
<rect x="468.65" y="296.02" width="6" height="4.95" fill="#ffc2b3"/>
<rect x="475.4" y="296.02" width="6" height="4.95" fill="#ffd1c5"/>
<rect x="515.9" y="296.02" width="6" height="4.95" fill="#ffc2b3"/>
<rect x="522.65" y="296.02" width="6" height="4.95" fill="#ffc2b3"/>
<rect x="536.15" y="296.02" width="6" height="4.95" fill="#ffd1c5"/>
<rect x="542.9" y="296.02" width="6" height="4.95" fill="#ffd1c5"/>
<rect x="549.65" y="296.02" width="6" height="4.95" fill="#ffd1c5"/>
<rect x="556.4" y="296.02" width="6" height="4.95" fill="#ffd1c5"/>
<rect x="563.15" y="296.02" width="6" height="4.95" fill="#ffb2a0"/>
<rect x="583.4" y="296.02" width="6" height="4.95" fill="#ffd1c5"/>
<rect x="461.9" y="301.79" width="6" height="4.95" fill="#ffd1c5"/>
<rect x="468.65" y="301.79" width="6" height="4.95" fill="#ffa38e"/>
<rect x="475.4" y="301.79" width="6" height="4.95" fill="#ffb2a0"/>
<rect x="482.15" y="301.79" width="6" height="4.95" fill="#ffb2a0"/>
<rect x="488.9" y="301.79" width="6" height="4.95" fill="#ffa38e"/>
<rect x="502.4" y="301.79" width="6" height="4.95" fill="#ffc2b3"/>
<rect x="509.15" y="301.79" width="6" height="4.95" fill="#ffd1c5"/>
<rect x="515.9" y="301.79" width="6" height="4.95" fill="#ffa38e"/>
<rect x="522.65" y="301.79" width="6" height="4.95" fill="#ffa38e"/>
<rect x="536.15" y="301.79" width="6" height="4.95" fill="#ffb2a0"/>
<rect x="542.9" y="301.79" width="6" height="4.95" fill="#ffb2a0"/>
<rect x="549.65" y="301.79" width="6" height="4.95" fill="#ffb2a0"/>
<rect x="556.4" y="301.79" width="6" height="4.95" fill="#ffa38e"/>
<rect x="563.15" y="301.79" width="6" height="4.95" fill="#ffd1c5"/>
<rect x="569.9" y="301.79" width="6" height="4.95" fill="#ffc2b3"/>
<rect x="583.4" y="301.79" width="6" height="4.95" fill="#ffa38e"/>
<rect x="590.15" y="301.79" width="6" height="4.95" fill="#ffd1c5"/>
<rect x="596.9" y="301.79" width="6" height="4.95" fill="#ffb2a0"/>
<rect x="603.65" y="301.79" width="6" height="4.95" fill="#ffb2a0"/>
<rect x="617.15" y="301.79" width="6" height="4.95" fill="#ffd1c5"/>
<rect x="502.4" y="307.56" width="6" height="4.95" fill="#ffc2b3"/>
<rect x="515.9" y="307.56" width="6" height="4.95" fill="#ffd1c5"/>
<rect x="549.65" y="307.56" width="6" height="4.95" fill="#ffb2a0"/>
<rect x="556.4" y="307.56" width="6" height="4.95" fill="#ffd1c5"/>
<rect x="461.9" y="313.33" width="6" height="4.95" fill="#ffc2b3"/>
<rect x="468.65" y="313.33" width="6" height="4.95" fill="#ffd1c5"/>
<rect x="488.9" y="313.33" width="6" height="4.95" fill="#ffd1c5"/>
<rect x="515.9" y="313.33" width="6" height="4.95" fill="#ffb2a0"/>
<rect x="522.65" y="313.33" width="6" height="4.95" fill="#ffb2a0"/>
<rect x="536.15" y="313.33" width="6" height="4.95" fill="#ffd1c5"/>
<rect x="542.9" y="313.33" width="6" height="4.95" fill="#ea4f38"/>
<rect x="556.4" y="313.33" width="6" height="4.95" fill="#ffd1c5"/>
<rect x="563.15" y="313.33" width="6" height="4.95" fill="#ffd1c5"/>
<rect x="569.9" y="313.33" width="6" height="4.95" fill="#e6422e"/>
<rect x="576.65" y="313.33" width="6" height="4.95" fill="#dd1a16"/>
<rect x="583.4" y="313.33" width="6" height="4.95" fill="#ffd1c5"/>
<rect x="590.15" y="313.33" width="6" height="4.95" fill="#ffd1c5"/>
<rect x="596.9" y="313.33" width="6" height="4.95" fill="#ffd1c5"/>
<rect x="603.65" y="313.33" width="6" height="4.95" fill="#ffd1c5"/>
<rect x="468.65" y="319.11" width="6" height="4.95" fill="#ffb2a0"/>
<rect x="475.4" y="319.11" width="6" height="4.95" fill="#ffc2b3"/>
<rect x="482.15" y="319.11" width="6" height="4.95" fill="#ffb2a0"/>
<rect x="488.9" y="319.11" width="6" height="4.95" fill="#ffc2b3"/>
<rect x="502.4" y="319.11" width="6" height="4.95" fill="#ffb2a0"/>
<rect x="515.9" y="319.11" width="6" height="4.95" fill="#ffb2a0"/>
<rect x="522.65" y="319.11" width="6" height="4.95" fill="#ffc2b3"/>
<rect x="536.15" y="319.11" width="6" height="4.95" fill="#ffd1c5"/>
<rect x="542.9" y="319.11" width="6" height="4.95" fill="#ffd1c5"/>
<rect x="549.65" y="319.11" width="6" height="4.95" fill="#f8836b"/>
<rect x="556.4" y="319.11" width="6" height="4.95" fill="#ffa38e"/>
<rect x="596.9" y="319.11" width="6" height="4.95" fill="#ffc2b3"/>
<rect x="617.15" y="319.11" width="6" height="4.95" fill="#ffd1c5"/>
<rect x="468.65" y="324.88" width="6" height="4.95" fill="#ffc2b3"/>
<rect x="482.15" y="324.88" width="6" height="4.95" fill="#ffd1c5"/>
<rect x="502.4" y="324.88" width="6" height="4.95" fill="#ffd1c5"/>
<rect x="515.9" y="324.88" width="6" height="4.95" fill="#ffc2b3"/>
<rect x="522.65" y="324.88" width="6" height="4.95" fill="#ffd1c5"/>
<rect x="549.65" y="324.88" width="6" height="4.95" fill="#ffa38e"/>
<rect x="556.4" y="324.88" width="6" height="4.95" fill="#ffc2b3"/>
<rect x="515.9" y="330.64" width="6" height="4.95" fill="#ffd1c5"/>
<rect x="576.65" y="330.64" width="6" height="4.95" fill="#ea4f38"/>
<rect x="536.15" y="336.41" width="6" height="4.95" fill="#f8836b"/>
<rect x="468.65" y="342.18" width="6" height="4.95" fill="#ffc2b3"/>
<rect x="502.4" y="342.18" width="6" height="4.95" fill="#ffb2a0"/>
<rect x="515.9" y="342.18" width="6" height="4.95" fill="#ffa38e"/>
<rect x="522.65" y="342.18" width="6" height="4.95" fill="#ffb2a0"/>
<rect x="529.4" y="342.18" width="6" height="4.95" fill="#ffd1c5"/>
<rect x="536.15" y="342.18" width="6" height="4.95" fill="#ffd1c5"/>
<rect x="542.9" y="342.18" width="6" height="4.95" fill="#ffc2b3"/>
<rect x="556.4" y="342.18" width="6" height="4.95" fill="#ffc2b3"/>
<rect x="569.9" y="342.18" width="6" height="4.95" fill="#ffb2a0"/>
<rect x="583.4" y="342.18" width="6" height="4.95" fill="#ffa38e"/>
<rect x="596.9" y="342.18" width="6" height="4.95" fill="#ffb2a0"/>
<rect x="603.65" y="342.18" width="6" height="4.95" fill="#ffc2b3"/>
<rect x="617.15" y="342.18" width="6" height="4.95" fill="#ffc2b3"/>
<rect x="515.9" y="347.95" width="6" height="4.95" fill="#ffd1c5"/>
<rect x="468.65" y="353.72" width="6" height="4.95" fill="#ffb2a0"/>
<rect x="482.15" y="353.72" width="6" height="4.95" fill="#ffc2b3"/>
<rect x="488.9" y="353.72" width="6" height="4.95" fill="#ffc2b3"/>
<rect x="509.15" y="353.72" width="6" height="4.95" fill="#ffd1c5"/>
<rect x="515.9" y="353.72" width="6" height="4.95" fill="#ffa38e"/>
<rect x="522.65" y="353.72" width="6" height="4.95" fill="#ffb2a0"/>
<rect x="536.15" y="353.72" width="6" height="4.95" fill="#ffb2a0"/>
<rect x="542.9" y="353.72" width="6" height="4.95" fill="#ffb2a0"/>
<rect x="549.65" y="353.72" width="6" height="4.95" fill="#ffd1c5"/>
<rect x="556.4" y="353.72" width="6" height="4.95" fill="#ffa38e"/>
<rect x="563.15" y="353.72" width="6" height="4.95" fill="#ffd1c5"/>
<rect x="569.9" y="353.72" width="6" height="4.95" fill="#ffc2b3"/>
<rect x="583.4" y="353.72" width="6" height="4.95" fill="#ffa38e"/>
<rect x="590.15" y="353.72" width="6" height="4.95" fill="#ffd1c5"/>
<rect x="596.9" y="353.72" width="6" height="4.95" fill="#ffa38e"/>
<rect x="603.65" y="353.72" width="6" height="4.95" fill="#ffc2b3"/>
<rect x="617.15" y="353.72" width="6" height="4.95" fill="#ffd1c5"/>
<rect x="468.65" y="359.5" width="6" height="4.95" fill="#ffc2b3"/>
<rect x="475.4" y="359.5" width="6" height="4.95" fill="#ffc2b3"/>
<rect x="482.15" y="359.5" width="6" height="4.95" fill="#ffd1c5"/>
<rect x="488.9" y="359.5" width="6" height="4.95" fill="#ffd1c5"/>
<rect x="515.9" y="359.5" width="6" height="4.95" fill="#ffb2a0"/>
<rect x="522.65" y="359.5" width="6" height="4.95" fill="#ffc2b3"/>
<rect x="536.15" y="359.5" width="6" height="4.95" fill="#ffb2a0"/>
<rect x="542.9" y="359.5" width="6" height="4.95" fill="#ffc2b3"/>
<rect x="556.4" y="359.5" width="6" height="4.95" fill="#ffb2a0"/>
<rect x="569.9" y="359.5" width="6" height="4.95" fill="#ffc2b3"/>
<rect x="583.4" y="359.5" width="6" height="4.95" fill="#ffb2a0"/>
<rect x="596.9" y="359.5" width="6" height="4.95" fill="#ffc2b3"/>
<rect x="603.65" y="359.5" width="6" height="4.95" fill="#ffc2b3"/>
<rect x="515.9" y="365.26" width="6" height="4.95" fill="#ffb2a0"/>
<rect x="522.65" y="365.26" width="6" height="4.95" fill="#ffd1c5"/>
<rect x="542.9" y="365.26" width="6" height="4.95" fill="#ffc2b3"/>
<rect x="556.4" y="365.26" width="6" height="4.95" fill="#ffd1c5"/>
<rect x="583.4" y="365.26" width="6" height="4.95" fill="#ffc2b3"/>
<rect x="596.9" y="365.26" width="6" height="4.95" fill="#ffd1c5"/>
<rect x="603.65" y="365.26" width="6" height="4.95" fill="#ffd1c5"/>
<rect x="461.9" y="371.03" width="6" height="4.95" fill="#ffc2b3"/>
<rect x="468.65" y="371.03" width="6" height="4.95" fill="#fc937d"/>
<rect x="475.4" y="371.03" width="6" height="4.95" fill="#ffc2b3"/>
<rect x="482.15" y="371.03" width="6" height="4.95" fill="#ffc2b3"/>
<rect x="488.9" y="371.03" width="6" height="4.95" fill="#ffc2b3"/>
<rect x="495.65" y="371.03" width="6" height="4.95" fill="#ffd1c5"/>
<rect x="502.4" y="371.03" width="6" height="4.95" fill="#ffd1c5"/>
<rect x="509.15" y="371.03" width="6" height="4.95" fill="#ffd1c5"/>
<rect x="515.9" y="371.03" width="6" height="4.95" fill="#ffa38e"/>
<rect x="522.65" y="371.03" width="6" height="4.95" fill="#ffa38e"/>
<rect x="536.15" y="371.03" width="6" height="4.95" fill="#ffa38e"/>
<rect x="542.9" y="371.03" width="6" height="4.95" fill="#ffb2a0"/>
<rect x="549.65" y="371.03" width="6" height="4.95" fill="#ffb2a0"/>
<rect x="556.4" y="371.03" width="6" height="4.95" fill="#f8836b"/>
<rect x="563.15" y="371.03" width="6" height="4.95" fill="#ffd1c5"/>
<rect x="569.9" y="371.03" width="6" height="4.95" fill="#ffb2a0"/>
<rect x="583.4" y="371.03" width="6" height="4.95" fill="#ffb2a0"/>
<rect x="590.15" y="371.03" width="6" height="4.95" fill="#ffd1c5"/>
<rect x="596.9" y="371.03" width="6" height="4.95" fill="#ffc2b3"/>
<rect x="603.65" y="371.03" width="6" height="4.95" fill="#ffb2a0"/>
<rect x="617.15" y="371.03" width="6" height="4.95" fill="#ffc2b3"/>
<rect x="515.9" y="376.8" width="6" height="4.95" fill="#ffd1c5"/>
<rect x="522.65" y="376.8" width="6" height="4.95" fill="#ffd1c5"/>
<rect x="542.9" y="376.8" width="6" height="4.95" fill="#ffd1c5"/>
<rect x="583.4" y="376.8" width="6" height="4.95" fill="#ffd1c5"/>
<rect x="482.15" y="382.57" width="6" height="4.95" fill="#ffc2b3"/>
<rect x="610.4" y="382.57" width="6" height="4.95" fill="#f8836b"/>
<rect x="617.15" y="382.57" width="6" height="4.95" fill="#ffb2a0"/>
<rect x="515.9" y="388.34" width="6" height="4.95" fill="#ffd1c5"/>
<rect x="522.65" y="388.34" width="6" height="4.95" fill="#ffd1c5"/>
<rect x="488.9" y="394.12" width="6" height="4.95" fill="#f8836b"/>
<rect x="475.4" y="399.88" width="6" height="4.95" fill="#ffc2b3"/>
<text x="458.4" y="242.6" font-size="5" text-anchor="end" fill="#4d4d4d">IL4</text>
<line x1="459" y1="240.8" x2="460.6" y2="240.8" stroke="#777" stroke-width="0.4"/>
<text x="458.4" y="248.37" font-size="5" text-anchor="end" fill="#4d4d4d">NLGN1</text>
<line x1="459" y1="246.57" x2="460.6" y2="246.57" stroke="#777" stroke-width="0.4"/>
<text x="458.4" y="254.14" font-size="5" text-anchor="end" fill="#4d4d4d">IL13</text>
<line x1="459" y1="252.34" x2="460.6" y2="252.34" stroke="#777" stroke-width="0.4"/>
<text x="458.4" y="259.91" font-size="5" text-anchor="end" fill="#4d4d4d">NLGN3</text>
<line x1="459" y1="258.11" x2="460.6" y2="258.11" stroke="#777" stroke-width="0.4"/>
<text x="458.4" y="265.68" font-size="5" text-anchor="end" fill="#4d4d4d">IL21</text>
<line x1="459" y1="263.88" x2="460.6" y2="263.88" stroke="#777" stroke-width="0.4"/>
<text x="458.4" y="271.45" font-size="5" text-anchor="end" fill="#4d4d4d">CSF3</text>
<line x1="459" y1="269.65" x2="460.6" y2="269.65" stroke="#777" stroke-width="0.4"/>
<text x="458.4" y="277.22" font-size="5" text-anchor="end" fill="#4d4d4d">TNFSF10</text>
<line x1="459" y1="275.42" x2="460.6" y2="275.42" stroke="#777" stroke-width="0.4"/>
<text x="458.4" y="282.99" font-size="5" text-anchor="end" fill="#4d4d4d">TNFSF15</text>
<line x1="459" y1="281.19" x2="460.6" y2="281.19" stroke="#777" stroke-width="0.4"/>
<text x="458.4" y="288.76" font-size="5" text-anchor="end" fill="#4d4d4d">MSTN</text>
<line x1="459" y1="286.96" x2="460.6" y2="286.96" stroke="#777" stroke-width="0.4"/>
<text x="458.4" y="294.53" font-size="5" text-anchor="end" fill="#4d4d4d">TSLP</text>
<line x1="459" y1="292.73" x2="460.6" y2="292.73" stroke="#777" stroke-width="0.4"/>
<text x="458.4" y="300.3" font-size="5" text-anchor="end" fill="#4d4d4d">IL22</text>
<line x1="459" y1="298.5" x2="460.6" y2="298.5" stroke="#777" stroke-width="0.4"/>
<text x="458.4" y="306.07" font-size="5" text-anchor="end" fill="#4d4d4d">CRLF2</text>
<line x1="459" y1="304.27" x2="460.6" y2="304.27" stroke="#777" stroke-width="0.4"/>
<text x="458.4" y="311.84" font-size="5" text-anchor="end" fill="#4d4d4d">PTPRT</text>
<line x1="459" y1="310.04" x2="460.6" y2="310.04" stroke="#777" stroke-width="0.4"/>
<text x="458.4" y="317.61" font-size="5" text-anchor="end" fill="#4d4d4d">CTF1</text>
<line x1="459" y1="315.81" x2="460.6" y2="315.81" stroke="#777" stroke-width="0.4"/>
<text x="458.4" y="323.38" font-size="5" text-anchor="end" fill="#4d4d4d">IL20</text>
<line x1="459" y1="321.58" x2="460.6" y2="321.58" stroke="#777" stroke-width="0.4"/>
<text x="458.4" y="329.15" font-size="5" text-anchor="end" fill="#4d4d4d">IL19</text>
<line x1="459" y1="327.35" x2="460.6" y2="327.35" stroke="#777" stroke-width="0.4"/>
<text x="458.4" y="334.92" font-size="5" text-anchor="end" fill="#4d4d4d">HMGB2</text>
<line x1="459" y1="333.12" x2="460.6" y2="333.12" stroke="#777" stroke-width="0.4"/>
<text x="458.4" y="340.69" font-size="5" text-anchor="end" fill="#4d4d4d">LTA</text>
<line x1="459" y1="338.89" x2="460.6" y2="338.89" stroke="#777" stroke-width="0.4"/>
<text x="458.4" y="346.46" font-size="5" text-anchor="end" fill="#4d4d4d">GDF3</text>
<line x1="459" y1="344.66" x2="460.6" y2="344.66" stroke="#777" stroke-width="0.4"/>
<text x="458.4" y="352.23" font-size="5" text-anchor="end" fill="#4d4d4d">CCL1</text>
<line x1="459" y1="350.43" x2="460.6" y2="350.43" stroke="#777" stroke-width="0.4"/>
<text x="458.4" y="358" font-size="5" text-anchor="end" fill="#4d4d4d">EBI3</text>
<line x1="459" y1="356.2" x2="460.6" y2="356.2" stroke="#777" stroke-width="0.4"/>
<text x="458.4" y="363.77" font-size="5" text-anchor="end" fill="#4d4d4d">IL12A</text>
<line x1="459" y1="361.97" x2="460.6" y2="361.97" stroke="#777" stroke-width="0.4"/>
<text x="458.4" y="369.54" font-size="5" text-anchor="end" fill="#4d4d4d">CRLF1</text>
<line x1="459" y1="367.74" x2="460.6" y2="367.74" stroke="#777" stroke-width="0.4"/>
<text x="458.4" y="375.31" font-size="5" text-anchor="end" fill="#4d4d4d">IFNL1</text>
<line x1="459" y1="373.51" x2="460.6" y2="373.51" stroke="#777" stroke-width="0.4"/>
<text x="458.4" y="381.08" font-size="5" text-anchor="end" fill="#4d4d4d">DLL1</text>
<line x1="459" y1="379.28" x2="460.6" y2="379.28" stroke="#777" stroke-width="0.4"/>
<text x="458.4" y="386.85" font-size="5" text-anchor="end" fill="#4d4d4d">IL6</text>
<line x1="459" y1="385.05" x2="460.6" y2="385.05" stroke="#777" stroke-width="0.4"/>
<text x="458.4" y="392.62" font-size="5" text-anchor="end" fill="#4d4d4d">IL9</text>
<line x1="459" y1="390.82" x2="460.6" y2="390.82" stroke="#777" stroke-width="0.4"/>
<text x="458.4" y="398.39" font-size="5" text-anchor="end" fill="#4d4d4d">CD40LG</text>
<line x1="459" y1="396.59" x2="460.6" y2="396.59" stroke="#777" stroke-width="0.4"/>
<text x="458.4" y="404.16" font-size="5" text-anchor="end" fill="#4d4d4d">IL36G</text>
<line x1="459" y1="402.36" x2="460.6" y2="402.36" stroke="#777" stroke-width="0.4"/>
<text x="464.8" y="234.9" font-size="5.1" font-style="italic" fill="#444" transform="rotate(-90 464.8 234.9)">CD22</text>
<line x1="464.9" y1="235.2" x2="464.9" y2="236.6" stroke="#777" stroke-width="0.4"/>
<text x="471.55" y="234.9" font-size="5.1" font-style="italic" fill="#444" transform="rotate(-90 471.55 234.9)">CIITA</text>
<line x1="471.65" y1="235.2" x2="471.65" y2="236.6" stroke="#777" stroke-width="0.4"/>
<text x="478.3" y="234.9" font-size="5.1" font-style="italic" fill="#444" transform="rotate(-90 478.3 234.9)">FCER2</text>
<line x1="478.4" y1="235.2" x2="478.4" y2="236.6" stroke="#777" stroke-width="0.4"/>
<text x="485.05" y="234.9" font-size="5.1" font-style="italic" fill="#444" transform="rotate(-90 485.05 234.9)">IL4R</text>
<line x1="485.15" y1="235.2" x2="485.15" y2="236.6" stroke="#777" stroke-width="0.4"/>
<text x="491.8" y="234.9" font-size="5.1" font-style="italic" fill="#444" transform="rotate(-90 491.8 234.9)">PAX5</text>
<line x1="491.9" y1="235.2" x2="491.9" y2="236.6" stroke="#777" stroke-width="0.4"/>
<text x="498.55" y="234.9" font-size="5.1" font-style="italic" fill="#444" transform="rotate(-90 498.55 234.9)">MS4A1</text>
<line x1="498.65" y1="235.2" x2="498.65" y2="236.6" stroke="#777" stroke-width="0.4"/>
<text x="505.3" y="234.9" font-size="5.1" font-style="italic" fill="#444" transform="rotate(-90 505.3 234.9)">TCL1A</text>
<line x1="505.4" y1="235.2" x2="505.4" y2="236.6" stroke="#777" stroke-width="0.4"/>
<text x="512.05" y="234.9" font-size="5.1" font-style="italic" fill="#444" transform="rotate(-90 512.05 234.9)">CD72</text>
<line x1="512.15" y1="235.2" x2="512.15" y2="236.6" stroke="#777" stroke-width="0.4"/>
<text x="518.8" y="234.9" font-size="5.1" font-style="italic" fill="#444" transform="rotate(-90 518.8 234.9)">FOXP1</text>
<line x1="518.9" y1="235.2" x2="518.9" y2="236.6" stroke="#777" stroke-width="0.4"/>
<text x="525.55" y="234.9" font-size="5.1" font-style="italic" fill="#444" transform="rotate(-90 525.55 234.9)">MALAT1</text>
<line x1="525.65" y1="235.2" x2="525.65" y2="236.6" stroke="#777" stroke-width="0.4"/>
<text x="532.3" y="234.9" font-size="5.1" font-style="italic" fill="#444" transform="rotate(-90 532.3 234.9)">ADAM28</text>
<line x1="532.4" y1="235.2" x2="532.4" y2="236.6" stroke="#777" stroke-width="0.4"/>
<text x="539.05" y="234.9" font-size="5.1" font-style="italic" fill="#444" transform="rotate(-90 539.05 234.9)">BIRC3</text>
<line x1="539.15" y1="235.2" x2="539.15" y2="236.6" stroke="#777" stroke-width="0.4"/>
<text x="545.8" y="234.9" font-size="5.1" font-style="italic" fill="#444" transform="rotate(-90 545.8 234.9)">MBNL1</text>
<line x1="545.9" y1="235.2" x2="545.9" y2="236.6" stroke="#777" stroke-width="0.4"/>
<text x="552.55" y="234.9" font-size="5.1" font-style="italic" fill="#444" transform="rotate(-90 552.55 234.9)">LINC00926</text>
<line x1="552.65" y1="235.2" x2="552.65" y2="236.6" stroke="#777" stroke-width="0.4"/>
<text x="559.3" y="234.9" font-size="5.1" font-style="italic" fill="#444" transform="rotate(-90 559.3 234.9)">PARP14</text>
<line x1="559.4" y1="235.2" x2="559.4" y2="236.6" stroke="#777" stroke-width="0.4"/>
<text x="566.05" y="234.9" font-size="5.1" font-style="italic" fill="#444" transform="rotate(-90 566.05 234.9)">ATF7IP</text>
<line x1="566.15" y1="235.2" x2="566.15" y2="236.6" stroke="#777" stroke-width="0.4"/>
<text x="572.8" y="234.9" font-size="5.1" font-style="italic" fill="#444" transform="rotate(-90 572.8 234.9)">BCL11A</text>
<line x1="572.9" y1="235.2" x2="572.9" y2="236.6" stroke="#777" stroke-width="0.4"/>
<text x="579.55" y="234.9" font-size="5.1" font-style="italic" fill="#444" transform="rotate(-90 579.55 234.9)">POU2F2</text>
<line x1="579.65" y1="235.2" x2="579.65" y2="236.6" stroke="#777" stroke-width="0.4"/>
<text x="586.3" y="234.9" font-size="5.1" font-style="italic" fill="#444" transform="rotate(-90 586.3 234.9)">ZEB2</text>
<line x1="586.4" y1="235.2" x2="586.4" y2="236.6" stroke="#777" stroke-width="0.4"/>
<text x="593.05" y="234.9" font-size="5.1" font-style="italic" fill="#444" transform="rotate(-90 593.05 234.9)">CAMK2D</text>
<line x1="593.15" y1="235.2" x2="593.15" y2="236.6" stroke="#777" stroke-width="0.4"/>
<text x="599.8" y="234.9" font-size="5.1" font-style="italic" fill="#444" transform="rotate(-90 599.8 234.9)">ANKRD44</text>
<line x1="599.9" y1="235.2" x2="599.9" y2="236.6" stroke="#777" stroke-width="0.4"/>
<text x="606.55" y="234.9" font-size="5.1" font-style="italic" fill="#444" transform="rotate(-90 606.55 234.9)">MEF2C</text>
<line x1="606.65" y1="235.2" x2="606.65" y2="236.6" stroke="#777" stroke-width="0.4"/>
<text x="613.3" y="234.9" font-size="5.1" font-style="italic" fill="#444" transform="rotate(-90 613.3 234.9)">IGHD</text>
<line x1="613.4" y1="235.2" x2="613.4" y2="236.6" stroke="#777" stroke-width="0.4"/>
<text x="620.05" y="234.9" font-size="5.1" font-style="italic" fill="#444" transform="rotate(-90 620.05 234.9)">UTRN</text>
<line x1="620.15" y1="235.2" x2="620.15" y2="236.6" stroke="#777" stroke-width="0.4"/>
<text x="629.8" y="260.1" font-size="6.2" fill="#111">Regulatory potential</text>
<defs><linearGradient id="rg" x1="0" y1="1" x2="0" y2="0"><stop offset="0" stop-color="#ffffff"/><stop offset="0.1" stop-color="#ffebe6"/><stop offset="0.2" stop-color="#ffd8ce"/><stop offset="0.3" stop-color="#ffc4b6"/><stop offset="0.4" stop-color="#ffb19f"/><stop offset="0.5" stop-color="#fe9d88"/><stop offset="0.6" stop-color="#fa8972"/><stop offset="0.7" stop-color="#f5745c"/><stop offset="0.8" stop-color="#ee5e46"/><stop offset="0.9" stop-color="#e74531"/><stop offset="1" stop-color="#df251b"/></linearGradient></defs>
<rect x="645" y="265.5" width="12" height="57.4" fill="url(#rg)"/>
<line x1="644.9" y1="290.3" x2="647.3" y2="290.3" stroke="#fff" stroke-width="0.6"/>
<line x1="654.7" y1="290.3" x2="657.1" y2="290.3" stroke="#fff" stroke-width="0.6"/>
<text x="659.9" y="292.4" font-size="5.55" fill="#222">0.005</text>
<text x="659.9" y="323.5" font-size="5.55" fill="#222">0.000</text>
<text x="0.6" y="436" font-size="17" font-weight="bold" fill="#1e1414">E</text>
<text x="262.2" y="430.6" font-size="9.8" text-anchor="middle" fill="#111">GO of Bn_IGHD</text>
<rect x="207.6" y="441.85" width="133.47" height="8" fill="#d69a21"/>
<line x1="205.2" y1="445.9" x2="207.6" y2="445.9" stroke="#222" stroke-width="0.8"/>
<text x="204.6" y="448.9" font-size="8.55" text-anchor="end" fill="#111">B cell activation</text>
<rect x="207.6" y="453.66" width="121.68" height="8" fill="#d69a21"/>
<line x1="205.2" y1="457.71" x2="207.6" y2="457.71" stroke="#222" stroke-width="0.8"/>
<text x="204.6" y="460.71" font-size="8.55" text-anchor="end" fill="#111">antigen receptor−mediated signaling pathway</text>
<rect x="207.6" y="465.47" width="121.68" height="8" fill="#d69a21"/>
<line x1="205.2" y1="469.52" x2="207.6" y2="469.52" stroke="#222" stroke-width="0.8"/>
<text x="204.6" y="472.52" font-size="8.55" text-anchor="end" fill="#111">B cell receptor signaling pathway</text>
<rect x="207.6" y="477.28" width="120.18" height="8" fill="#d69a21"/>
<line x1="205.2" y1="481.33" x2="207.6" y2="481.33" stroke="#222" stroke-width="0.8"/>
<text x="204.6" y="484.33" font-size="8.55" text-anchor="end" fill="#111">positive regulation of cell adhesion</text>
<rect x="207.6" y="489.09" width="111.01" height="8" fill="#d69a21"/>
<line x1="205.2" y1="493.14" x2="207.6" y2="493.14" stroke="#222" stroke-width="0.8"/>
<text x="204.6" y="496.14" font-size="8.55" text-anchor="end" fill="#111">mRNA splicing, via spliceosome</text>
<rect x="207.6" y="500.9" width="111.01" height="8" fill="#d69a21"/>
<line x1="205.2" y1="504.95" x2="207.6" y2="504.95" stroke="#222" stroke-width="0.8"/>
<text x="204.6" y="507.95" font-size="8.55" text-anchor="end" fill="#111">RNA splicing, via transesterification reactions</text>
<rect x="207.6" y="512.71" width="111.01" height="8" fill="#d69a21"/>
<line x1="205.2" y1="516.76" x2="207.6" y2="516.76" stroke="#222" stroke-width="0.8"/>
<text x="204.6" y="519.76" font-size="8.55" text-anchor="end" fill="#111">positive regulation of leukocyte cell−cell adhesion</text>
<rect x="207.6" y="524.52" width="110.45" height="8" fill="#d69a21"/>
<line x1="205.2" y1="528.57" x2="207.6" y2="528.57" stroke="#222" stroke-width="0.8"/>
<text x="204.6" y="531.57" font-size="8.55" text-anchor="end" fill="#111">RNA splicing, via transesterification reactions</text>
<rect x="207.6" y="536.33" width="106.7" height="8" fill="#d69a21"/>
<line x1="205.2" y1="540.38" x2="207.6" y2="540.38" stroke="#222" stroke-width="0.8"/>
<text x="204.6" y="543.38" font-size="8.55" text-anchor="end" fill="#111">mRNA processing</text>
<rect x="207.6" y="548.14" width="105.21" height="8" fill="#d69a21"/>
<line x1="205.2" y1="552.19" x2="207.6" y2="552.19" stroke="#222" stroke-width="0.8"/>
<text x="204.6" y="555.19" font-size="8.55" text-anchor="end" fill="#111">immune response−activating signaling pathway</text>
<line x1="207.6" y1="439.3" x2="207.6" y2="558.9" stroke="#111" stroke-width="1.1"/>
<line x1="207.1" y1="558.6" x2="347" y2="558.6" stroke="#111" stroke-width="1.1"/>
<line x1="207.6" y1="558.4" x2="207.6" y2="561" stroke="#111" stroke-width="0.8"/>
<text x="207.6" y="568.8" font-size="6.6" text-anchor="middle" fill="#222">0</text>
<line x1="226.32" y1="558.4" x2="226.32" y2="561" stroke="#111" stroke-width="0.8"/>
<text x="226.32" y="568.8" font-size="6.6" text-anchor="middle" fill="#222">1</text>
<line x1="245.04" y1="558.4" x2="245.04" y2="561" stroke="#111" stroke-width="0.8"/>
<text x="245.04" y="568.8" font-size="6.6" text-anchor="middle" fill="#222">2</text>
<line x1="263.76" y1="558.4" x2="263.76" y2="561" stroke="#111" stroke-width="0.8"/>
<text x="263.76" y="568.8" font-size="6.6" text-anchor="middle" fill="#222">3</text>
<line x1="282.48" y1="558.4" x2="282.48" y2="561" stroke="#111" stroke-width="0.8"/>
<text x="282.48" y="568.8" font-size="6.6" text-anchor="middle" fill="#222">4</text>
<line x1="301.2" y1="558.4" x2="301.2" y2="561" stroke="#111" stroke-width="0.8"/>
<text x="301.2" y="568.8" font-size="6.6" text-anchor="middle" fill="#222">5</text>
<line x1="319.92" y1="558.4" x2="319.92" y2="561" stroke="#111" stroke-width="0.8"/>
<text x="319.92" y="568.8" font-size="6.6" text-anchor="middle" fill="#222">6</text>
<line x1="338.64" y1="558.4" x2="338.64" y2="561" stroke="#111" stroke-width="0.8"/>
<text x="338.64" y="568.8" font-size="6.6" text-anchor="middle" fill="#222">7</text>
<text x="277.5" y="583.6" font-size="8.35" text-anchor="middle" fill="#111">−log10(p.adjust)</text>
<text x="382.4" y="434.9" font-size="17" font-weight="bold" fill="#1e1414">F</text>
<path d="M454 429.9 L456.2 429.9 L456.2 432.5 L458.3 432.5 L458.3 433.6 L462.3 433.6 L462.3 434.2 L462.4 434.2 L462.4 437.3 L462.5 437.3 L462.5 440.4 L463.15 440.4 L463.15 443.5 L463.8 443.5 L463.8 446.6 L464.3 446.6 L464.3 449.65 L464.8 449.65 L464.8 452.7 L465.9 452.7 L465.9 457.8 L467.1 457.8 L467.1 461.9 L468.5 461.9 L468.5 466 L469.6 466 L469.6 469.1 L471.6 469.1 L471.6 471.1 L473.6 471.1 L473.6 474.2 L475.7 474.2 L475.7 477.3 L477.7 477.3 L477.7 481.3 L479.8 481.3 L479.8 485.4 L481.8 485.4 L481.8 489.5 L482.8 489.5 L482.8 491.6 L489.9 491.6 L489.9 491.8 L490 491.8 L490 492.6 L494.1 492.6 L494.1 496.7 L497.1 496.7 L497.1 500.8 L497.8 500.8 L497.8 505.6 L525.5 505.6 L525.5 511.1 L533.3 511.1 L533.3 516.4 L541.5 516.4 L541.5 524 L562.3 524 L562.3 532.5 H618.5" fill="none" stroke="#2b62a4" stroke-width="0.95"/>
<line x1="469.5" y1="466.8" x2="469.5" y2="471.4" stroke="#2b62a4" stroke-width="0.9"/>
<line x1="467.5" y1="469.1" x2="471.5" y2="469.1" stroke="#2b62a4" stroke-width="0.9"/>
<line x1="489" y1="489.3" x2="489" y2="493.9" stroke="#2b62a4" stroke-width="0.9"/>
<line x1="487" y1="491.6" x2="491" y2="491.6" stroke="#2b62a4" stroke-width="0.9"/>
<line x1="519.4" y1="503.3" x2="519.4" y2="507.9" stroke="#2b62a4" stroke-width="0.9"/>
<line x1="517.4" y1="505.6" x2="521.4" y2="505.6" stroke="#2b62a4" stroke-width="0.9"/>
<line x1="520.8" y1="503.3" x2="520.8" y2="507.9" stroke="#2b62a4" stroke-width="0.9"/>
<line x1="518.8" y1="505.6" x2="522.8" y2="505.6" stroke="#2b62a4" stroke-width="0.9"/>
<line x1="536.8" y1="514.1" x2="536.8" y2="518.7" stroke="#2b62a4" stroke-width="0.9"/>
<line x1="534.8" y1="516.4" x2="538.8" y2="516.4" stroke="#2b62a4" stroke-width="0.9"/>
<line x1="538.4" y1="514.1" x2="538.4" y2="518.7" stroke="#2b62a4" stroke-width="0.9"/>
<line x1="536.4" y1="516.4" x2="540.4" y2="516.4" stroke="#2b62a4" stroke-width="0.9"/>
<line x1="593.6" y1="530.2" x2="593.6" y2="534.8" stroke="#2b62a4" stroke-width="0.9"/>
<line x1="591.6" y1="532.5" x2="595.6" y2="532.5" stroke="#2b62a4" stroke-width="0.9"/>
<line x1="599.7" y1="530.2" x2="599.7" y2="534.8" stroke="#2b62a4" stroke-width="0.9"/>
<line x1="597.7" y1="532.5" x2="601.7" y2="532.5" stroke="#2b62a4" stroke-width="0.9"/>
<line x1="616.5" y1="530.2" x2="616.5" y2="534.8" stroke="#2b62a4" stroke-width="0.9"/>
<line x1="614.5" y1="532.5" x2="618.5" y2="532.5" stroke="#2b62a4" stroke-width="0.9"/>
<line x1="455.8" y1="430.2" x2="455.8" y2="434.8" stroke="#2b62a4" stroke-width="0.9"/>
<line x1="453.8" y1="432.5" x2="457.8" y2="432.5" stroke="#2b62a4" stroke-width="0.9"/>
<path d="M454 429.9 L455.2 429.9 L455.2 431.2 L456.23 431.2 L456.23 432.93 L457.27 432.93 L457.27 434.67 L458.3 434.67 L458.3 436.4 L458.8 436.4 L458.8 438.4 L459.3 438.4 L459.3 440.4 L459.5 440.4 L459.5 442.04 L459.7 442.04 L459.7 443.68 L459.9 443.68 L459.9 445.32 L460.1 445.32 L460.1 446.96 L460.3 446.96 L460.3 448.6 L460.55 448.6 L460.55 450.32 L460.8 450.32 L460.8 452.03 L461.05 452.03 L461.05 453.75 L461.3 453.75 L461.3 455.47 L461.55 455.47 L461.55 457.18 L461.8 457.18 L461.8 458.9 L462.1 458.9 L462.1 460.67 L462.4 460.67 L462.4 462.45 L462.7 462.45 L462.7 464.23 L463 464.23 L463 466 L463.35 466 L463.35 467.8 L463.7 467.8 L463.7 469.6 L464.05 469.6 L464.05 471.4 L464.4 471.4 L464.4 473.2 L464.73 473.2 L464.73 474.9 L465.07 474.9 L465.07 476.6 L465.4 476.6 L465.4 478.3 L466.45 478.3 L466.45 479.8 L467.5 479.8 L467.5 481.3 L468.53 481.3 L468.53 482.67 L469.57 482.67 L469.57 484.03 L470.6 484.03 L470.6 485.4 L471.27 485.4 L471.27 487.13 L471.93 487.13 L471.93 488.87 L472.6 488.87 L472.6 490.6 L473.02 490.6 L473.02 492.22 L473.44 492.22 L473.44 493.84 L473.86 493.84 L473.86 495.46 L474.28 495.46 L474.28 497.08 L474.7 497.08 L474.7 498.7 L476.7 498.7 L476.7 500.25 L478.7 500.25 L478.7 501.8 L481.8 501.8 L481.8 503.8 L483.35 503.8 L483.35 505.35 L484.9 505.35 L484.9 506.9 L486.9 506.9 L486.9 508 L488.45 508 L488.45 509.5 L490 509.5 L490 511 L492.05 511 L492.05 512.55 L494.1 512.55 L494.1 514.1 L495.47 514.1 L495.47 515.47 L496.83 515.47 L496.83 516.83 L498.2 516.83 L498.2 518.2 L499.7 518.2 L499.7 519.7 L501.2 519.7 L501.2 521.2 L505.3 521.2 L505.3 523.3 L509.4 523.3 L509.4 525.3 L514.5 525.3 L514.5 527.4 L521.7 527.4 L521.7 528.4 L522.7 528.4 L522.7 529.95 L523.7 529.95 L523.7 531.5 L525.25 531.5 L525.25 533 L526.8 533 L526.8 534.5 L528.6 534.5 L528.6 535.6 L537 535.6 L537 536 L541.9 536 L541.9 538.2 L542.7 538.2 L542.7 539.75 L543.5 539.75 L543.5 541.3 L583.8 541.3 L583.8 547 H593" fill="none" stroke="#e3332e" stroke-width="0.95"/>
<line x1="458.8" y1="434.1" x2="458.8" y2="438.7" stroke="#e3332e" stroke-width="0.9"/>
<line x1="456.8" y1="436.4" x2="460.8" y2="436.4" stroke="#e3332e" stroke-width="0.9"/>
<line x1="463" y1="463.7" x2="463" y2="468.3" stroke="#e3332e" stroke-width="0.9"/>
<line x1="461" y1="466" x2="465" y2="466" stroke="#e3332e" stroke-width="0.9"/>
<line x1="465.4" y1="476" x2="465.4" y2="480.6" stroke="#e3332e" stroke-width="0.9"/>
<line x1="463.4" y1="478.3" x2="467.4" y2="478.3" stroke="#e3332e" stroke-width="0.9"/>
<line x1="475.6" y1="496.4" x2="475.6" y2="501" stroke="#e3332e" stroke-width="0.9"/>
<line x1="473.6" y1="498.7" x2="477.6" y2="498.7" stroke="#e3332e" stroke-width="0.9"/>
<line x1="481.8" y1="501.5" x2="481.8" y2="506.1" stroke="#e3332e" stroke-width="0.9"/>
<line x1="479.8" y1="503.8" x2="483.8" y2="503.8" stroke="#e3332e" stroke-width="0.9"/>
<line x1="486.9" y1="505.7" x2="486.9" y2="510.3" stroke="#e3332e" stroke-width="0.9"/>
<line x1="484.9" y1="508" x2="488.9" y2="508" stroke="#e3332e" stroke-width="0.9"/>
<line x1="488.6" y1="507.2" x2="488.6" y2="511.8" stroke="#e3332e" stroke-width="0.9"/>
<line x1="486.6" y1="509.5" x2="490.6" y2="509.5" stroke="#e3332e" stroke-width="0.9"/>
<line x1="494.1" y1="511.8" x2="494.1" y2="516.4" stroke="#e3332e" stroke-width="0.9"/>
<line x1="492.1" y1="514.1" x2="496.1" y2="514.1" stroke="#e3332e" stroke-width="0.9"/>
<line x1="501.2" y1="518.9" x2="501.2" y2="523.5" stroke="#e3332e" stroke-width="0.9"/>
<line x1="499.2" y1="521.2" x2="503.2" y2="521.2" stroke="#e3332e" stroke-width="0.9"/>
<line x1="509.4" y1="523" x2="509.4" y2="527.6" stroke="#e3332e" stroke-width="0.9"/>
<line x1="507.4" y1="525.3" x2="511.4" y2="525.3" stroke="#e3332e" stroke-width="0.9"/>
<line x1="514.5" y1="525.1" x2="514.5" y2="529.7" stroke="#e3332e" stroke-width="0.9"/>
<line x1="512.5" y1="527.4" x2="516.5" y2="527.4" stroke="#e3332e" stroke-width="0.9"/>
<line x1="521.5" y1="526.1" x2="521.5" y2="530.7" stroke="#e3332e" stroke-width="0.9"/>
<line x1="519.5" y1="528.4" x2="523.5" y2="528.4" stroke="#e3332e" stroke-width="0.9"/>
<line x1="537.4" y1="533.3" x2="537.4" y2="537.9" stroke="#e3332e" stroke-width="0.9"/>
<line x1="535.4" y1="535.6" x2="539.4" y2="535.6" stroke="#e3332e" stroke-width="0.9"/>
<line x1="580.7" y1="539" x2="580.7" y2="543.6" stroke="#e3332e" stroke-width="0.9"/>
<line x1="578.7" y1="541.3" x2="582.7" y2="541.3" stroke="#e3332e" stroke-width="0.9"/>
<line x1="582.8" y1="539" x2="582.8" y2="543.6" stroke="#e3332e" stroke-width="0.9"/>
<line x1="580.8" y1="541.3" x2="584.8" y2="541.3" stroke="#e3332e" stroke-width="0.9"/>
<line x1="589.5" y1="544.7" x2="589.5" y2="549.3" stroke="#e3332e" stroke-width="0.9"/>
<line x1="587.5" y1="547" x2="591.5" y2="547" stroke="#e3332e" stroke-width="0.9"/>
<line x1="591.4" y1="544.7" x2="591.4" y2="549.3" stroke="#e3332e" stroke-width="0.9"/>
<line x1="589.4" y1="547" x2="593.4" y2="547" stroke="#e3332e" stroke-width="0.9"/>
<line x1="499.5" y1="517.5" x2="499.5" y2="522.1" stroke="#e3332e" stroke-width="0.9"/>
<line x1="497.5" y1="519.8" x2="501.5" y2="519.8" stroke="#e3332e" stroke-width="0.9"/>
<line x1="446.3" y1="424.4" x2="446.3" y2="564" stroke="#7a7a7a" stroke-width="1.25"/>
<line x1="445.8" y1="563.5" x2="629.8" y2="563.5" stroke="#333" stroke-width="1"/>
<line x1="443.6" y1="429.9" x2="446.3" y2="429.9" stroke="#333" stroke-width="0.9"/>
<text x="442.7" y="432.6" font-size="7.7" text-anchor="end" fill="#333">1.00</text>
<line x1="443.6" y1="461.75" x2="446.3" y2="461.75" stroke="#333" stroke-width="0.9"/>
<text x="442.7" y="464.45" font-size="7.7" text-anchor="end" fill="#333">0.75</text>
<line x1="443.6" y1="493.6" x2="446.3" y2="493.6" stroke="#333" stroke-width="0.9"/>
<text x="442.7" y="496.3" font-size="7.7" text-anchor="end" fill="#333">0.50</text>
<line x1="443.6" y1="525.45" x2="446.3" y2="525.45" stroke="#333" stroke-width="0.9"/>
<text x="442.7" y="528.15" font-size="7.7" text-anchor="end" fill="#333">0.25</text>
<line x1="443.6" y1="557.3" x2="446.3" y2="557.3" stroke="#333" stroke-width="0.9"/>
<text x="442.7" y="560" font-size="7.7" text-anchor="end" fill="#333">0.00</text>
<line x1="454.4" y1="563.5" x2="454.4" y2="566.3" stroke="#333" stroke-width="1"/>
<text x="454.4" y="573.8" font-size="7.4" text-anchor="middle" fill="#333">0</text>
<line x1="496.35" y1="563.5" x2="496.35" y2="566.3" stroke="#333" stroke-width="1"/>
<text x="496.35" y="573.8" font-size="7.4" text-anchor="middle" fill="#333">300</text>
<line x1="538.3" y1="563.5" x2="538.3" y2="566.3" stroke="#333" stroke-width="1"/>
<text x="538.3" y="573.8" font-size="7.4" text-anchor="middle" fill="#333">600</text>
<line x1="580.25" y1="563.5" x2="580.25" y2="566.3" stroke="#333" stroke-width="1"/>
<text x="580.25" y="573.8" font-size="7.4" text-anchor="middle" fill="#333">900</text>
<line x1="622.2" y1="563.5" x2="622.2" y2="566.3" stroke="#333" stroke-width="1"/>
<text x="622.2" y="573.8" font-size="7.4" text-anchor="middle" fill="#333">1200</text>
<text x="539.2" y="584.6" font-size="8.75" text-anchor="middle" fill="#111">Time (Days)</text>
<text x="417.6" y="492.1" font-size="11.4" text-anchor="middle" fill="#111" transform="rotate(-90 417.6 492.1)">Progression-free Survival</text>
<line x1="492.2" y1="441.9" x2="501.4" y2="441.9" stroke="#2b62a4" stroke-width="0.9"/>
<line x1="496.8" y1="439.1" x2="496.8" y2="444.7" stroke="#2b62a4" stroke-width="0.9"/>
<text x="505.2" y="444.9" font-size="8.45" fill="#111">Bn_IGHD High (n=34)</text>
<line x1="492.2" y1="454.6" x2="501.4" y2="454.6" stroke="#e3332e" stroke-width="0.9"/>
<line x1="496.8" y1="451.8" x2="496.8" y2="457.4" stroke="#e3332e" stroke-width="0.9"/>
<text x="505.2" y="457.6" font-size="8.45" fill="#111">Bn_IGHD Low (n=88)</text>
<text x="496.9" y="477.7" font-size="8.4" fill="#111">HR: 0.64, 95%CI (0.40-1.02)</text>
<text x="571" y="491.5" font-size="8.4" fill="#111"><tspan font-style="italic">P</tspan> = 0.06</text>
</svg>
</body></html>
